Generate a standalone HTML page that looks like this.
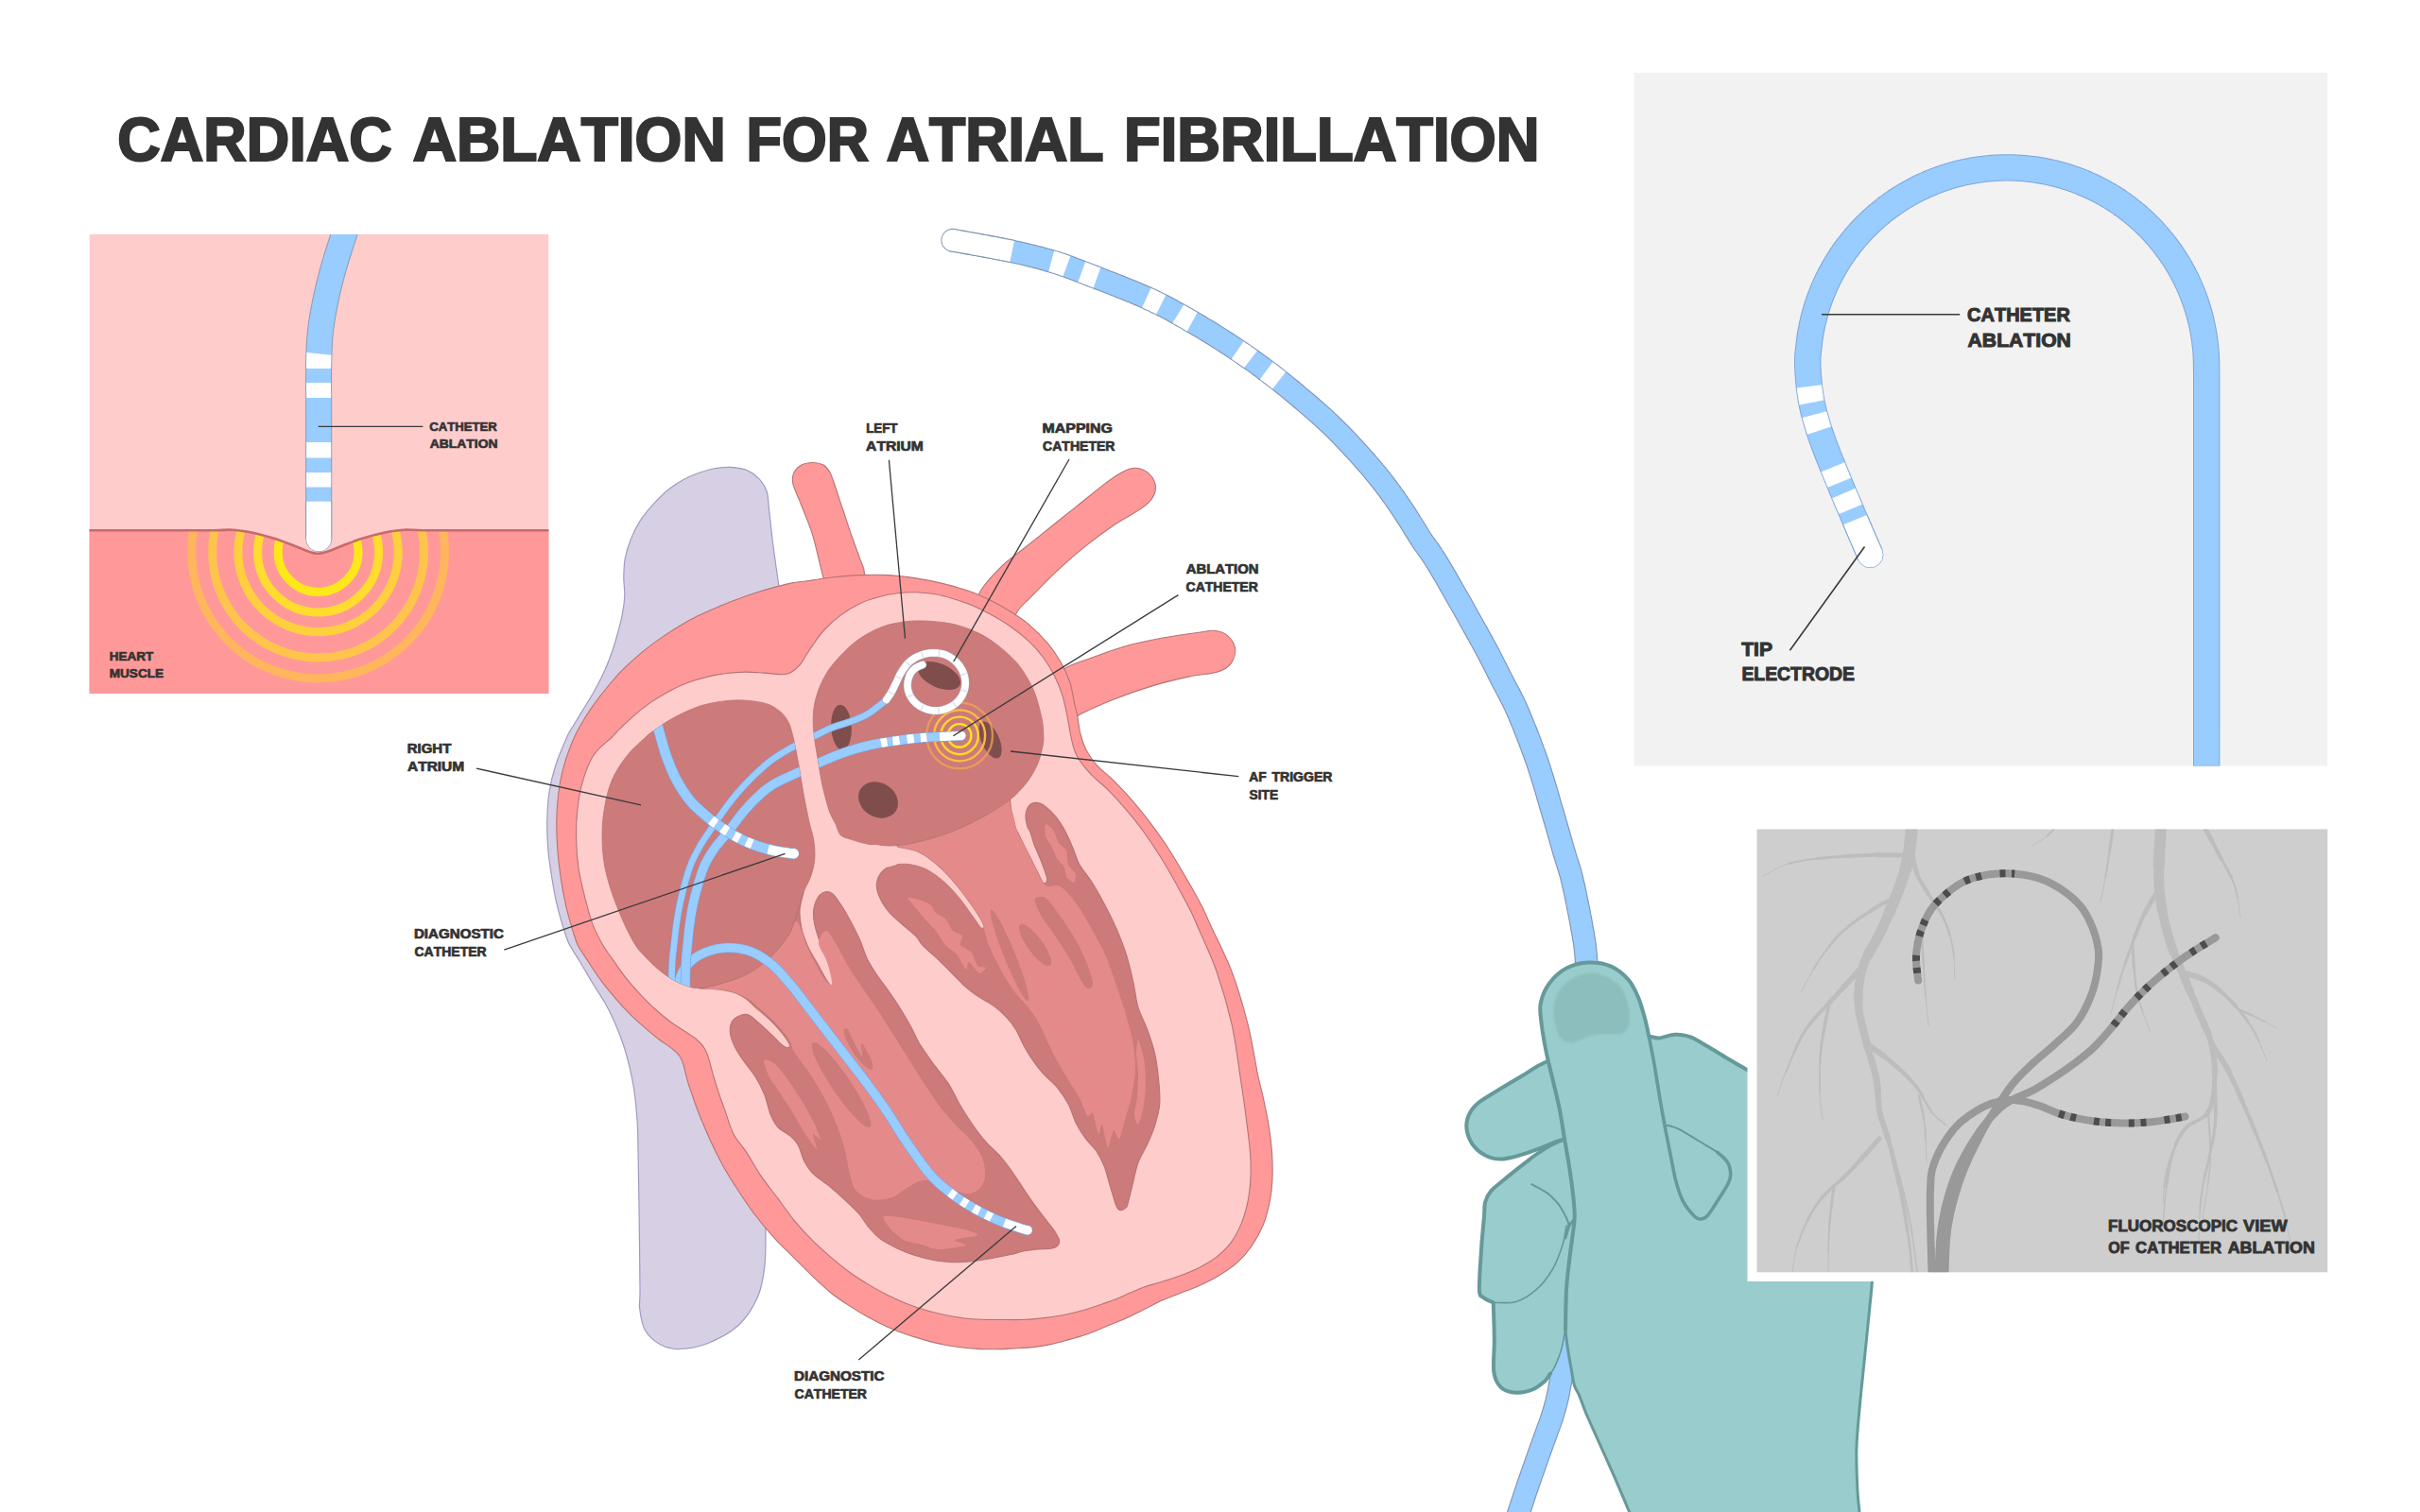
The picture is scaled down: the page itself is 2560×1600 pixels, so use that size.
<!DOCTYPE html>
<html lang="en"><head><meta charset="utf-8"><title>Cardiac ablation for atrial fibrillation</title>
<style>
html,body{margin:0;padding:0;background:#ffffff;}
body{width:2560px;height:1600px;overflow:hidden;}
svg{display:block;}
text{font-family:'Liberation Sans', Arial, sans-serif;font-weight:700;fill:#333333;font-kerning:none;}
</style></head><body>
<svg width="2560" height="1600" viewBox="0 0 2560 1600">
<rect width="2560" height="1600" fill="#ffffff"/>
<g id="title">
<text x="124.3" y="169.9" font-size="64" text-anchor="start" textLength="290.3" lengthAdjust="spacingAndGlyphs" stroke="#333333" stroke-width="2.2" stroke-linejoin="miter">CARDIAC</text>
<text x="436.7" y="169.9" font-size="64" text-anchor="start" textLength="331" lengthAdjust="spacingAndGlyphs" stroke="#333333" stroke-width="2.2" stroke-linejoin="miter">ABLATION</text>
<text x="789.6" y="169.9" font-size="64" text-anchor="start" textLength="129.4" lengthAdjust="spacingAndGlyphs" stroke="#333333" stroke-width="2.2" stroke-linejoin="miter">FOR</text>
<text x="937.8" y="169.9" font-size="64" text-anchor="start" textLength="229.8" lengthAdjust="spacingAndGlyphs" stroke="#333333" stroke-width="2.2" stroke-linejoin="miter">ATRIAL</text>
<text x="1189.1" y="169.9" font-size="64" text-anchor="start" textLength="439.4" lengthAdjust="spacingAndGlyphs" stroke="#333333" stroke-width="2.2" stroke-linejoin="miter">FIBRILLATION</text>
</g>
<g id="leftpanel">
<clipPath id="lpclip"><rect x="94.5" y="248" width="486" height="486"/></clipPath>
<g clip-path="url(#lpclip)">
<rect x="94.5" y="248" width="486" height="486" fill="#ffcccc"/>
<clipPath id="muscleclip"><path d="M90 561.2C100 561.2 131.7 561.2 150 561.2C168.3 561.2 187.2 561.2 200 561.2C212.8 561.2 219.5 561.3 226.6 561.2C233.7 561.1 238.4 560.6 242.6 560.6C246.8 560.6 247.5 560.8 251.6 561.3C255.7 561.8 261.1 562.3 267.3 563.7C273.6 565.1 281.8 567.2 289.1 569.5C296.4 571.8 305 575.2 311.1 577.5C317.2 579.8 321.4 581.9 325.6 583.3C329.9 584.7 332.9 585.8 336.6 585.8C340.3 585.8 343.4 584.7 347.6 583.3C351.9 581.9 356 579.8 362.1 577.5C368.2 575.2 376.8 571.8 384.1 569.5C391.4 567.2 399.7 565.1 405.9 563.7C412.2 562.3 417.5 561.8 421.6 561.3C425.7 560.8 426.4 560.6 430.6 560.6C434.8 560.6 438.4 561.1 446.6 561.2C454.8 561.3 466.1 561.2 480 561.2C493.9 561.2 512.5 561.2 530 561.2C547.5 561.2 575.8 561.2 585 561.2L585 740L90 740Z"/></clipPath>
<path d="M90 561.2C100 561.2 131.7 561.2 150 561.2C168.3 561.2 187.2 561.2 200 561.2C212.8 561.2 219.5 561.3 226.6 561.2C233.7 561.1 238.4 560.6 242.6 560.6C246.8 560.6 247.5 560.8 251.6 561.3C255.7 561.8 261.1 562.3 267.3 563.7C273.6 565.1 281.8 567.2 289.1 569.5C296.4 571.8 305 575.2 311.1 577.5C317.2 579.8 321.4 581.9 325.6 583.3C329.9 584.7 332.9 585.8 336.6 585.8C340.3 585.8 343.4 584.7 347.6 583.3C351.9 581.9 356 579.8 362.1 577.5C368.2 575.2 376.8 571.8 384.1 569.5C391.4 567.2 399.7 565.1 405.9 563.7C412.2 562.3 417.5 561.8 421.6 561.3C425.7 560.8 426.4 560.6 430.6 560.6C434.8 560.6 438.4 561.1 446.6 561.2C454.8 561.3 466.1 561.2 480 561.2C493.9 561.2 512.5 561.2 530 561.2C547.5 561.2 575.8 561.2 585 561.2L585 740L90 740Z" fill="#ff9999" stroke="none" stroke-width="1"/>
<g clip-path="url(#muscleclip)" fill="none" stroke-width="9">
<circle cx="336.6" cy="584" r="42.5" stroke="#ffe81a" opacity="1"/>
<circle cx="336.6" cy="584" r="64" stroke="#ffdc2e" opacity="1"/>
<circle cx="336.6" cy="584" r="84.7" stroke="#ffd03d" opacity="1"/>
<circle cx="336.6" cy="584" r="112" stroke="#ffc44c" opacity="1"/>
<circle cx="336.6" cy="584" r="133.9" stroke="#ffb65c" opacity="1"/>
</g>
<path d="M90 561.2C100 561.2 131.7 561.2 150 561.2C168.3 561.2 187.2 561.2 200 561.2C212.8 561.2 219.5 561.3 226.6 561.2C233.7 561.1 238.4 560.6 242.6 560.6C246.8 560.6 247.5 560.8 251.6 561.3C255.7 561.8 261.1 562.3 267.3 563.7C273.6 565.1 281.8 567.2 289.1 569.5C296.4 571.8 305 575.2 311.1 577.5C317.2 579.8 321.4 581.9 325.6 583.3C329.9 584.7 332.9 585.8 336.6 585.8C340.3 585.8 343.4 584.7 347.6 583.3C351.9 581.9 356 579.8 362.1 577.5C368.2 575.2 376.8 571.8 384.1 569.5C391.4 567.2 399.7 565.1 405.9 563.7C412.2 562.3 417.5 561.8 421.6 561.3C425.7 560.8 426.4 560.6 430.6 560.6C434.8 560.6 438.4 561.1 446.6 561.2C454.8 561.3 466.1 561.2 480 561.2C493.9 561.2 512.5 561.2 530 561.2C547.5 561.2 575.8 561.2 585 561.2" fill="none" stroke="#c96a6a" stroke-width="2.6"/>
<path d="M337.2 570.2L337.2 568.6L337.2 566.8L337.2 564.8L337.2 562.6L337.2 560.2L337.2 557.6L337.2 554.9L337.2 552L337.2 549L337.2 545.9L337.2 542.7L337.2 539.5L337.2 536.2L337.2 532.8L337.2 529.4L337.2 526L337.2 522.6L337.2 519.2L337.2 515.8L337.2 512.5L337.2 509.2L337.2 506.1L337.2 503L337.2 500L337.2 497.1L337.2 494.1L337.2 491.1L337.2 488L337.2 485L337.2 481.9L337.2 478.8L337.2 475.7L337.2 472.6L337.2 469.6L337.2 466.5L337.2 463.4L337.2 460.4L337.2 457.4L337.2 454.4L337.2 451.5L337.2 448.6L337.2 445.8L337.2 443L337.2 440.2L337.2 437.6L337.2 435L337.2 432.4L337.2 430L337.2 427.6L337.2 425.3L337.2 423.1L337.2 420.9L337.2 418.8L337.2 416.7L337.1 414.7L337.1 412.7L337.1 410.8L337.1 408.9L337.1 407L337.1 405.2L337.1 403.4L337.1 401.6L337.1 399.9L337.1 398.1L337.1 396.4L337.1 394.8L337.1 393.1L337.1 391.4L337.1 389.8L337.1 388.1L337.2 386.5L337.2 384.8L337.2 383.2L337.3 381.6L337.3 380L337.3 378.4L337.4 376.9L337.4 375.4L337.5 374L337.5 372.5L337.6 371.1L337.6 369.7L337.7 368.3L337.7 366.9L337.8 365.6L337.9 364.2L338 362.8L338 361.5L338.1 360.1L338.2 358.7L338.3 357.4L338.4 356L338.6 354.6L338.7 353.2L338.8 351.8L339 350.4L339.2 349L339.3 347.5L339.5 346.1L339.7 344.7L339.9 343.2L340.1 341.8L340.3 340.4L340.5 338.9L340.8 337.5L341 336.1L341.2 334.6L341.5 333.2L341.7 331.8L342 330.3L342.2 328.9L342.5 327.5L342.8 326L343.1 324.6L343.3 323.2L343.6 321.7L343.9 320.3L344.2 318.9L344.5 317.4L344.8 316L345.1 314.6L345.4 313.1L345.7 311.7L346 310.3L346.4 308.8L346.7 307.4L347 305.9L347.4 304.5L347.7 303.1L348.1 301.6L348.4 300.2L348.8 298.8L349.2 297.3L349.5 295.9L349.9 294.4L350.3 293L350.7 291.6L351 290.2L351.4 288.7L351.8 287.3L352.2 285.9L352.6 284.4L353 283L353.4 281.6L353.8 280.2L354.2 278.7L354.7 277.2L355.1 275.7L355.6 274.2L356 272.7L356.5 271.2L357 269.6L357.5 268.1L358 266.6L358.4 265L358.9 263.5L359.4 262L359.9 260.6L360.3 259.1L360.8 257.7L361.3 256.3L361.7 255L362.1 253.7L362.5 252.4L362.9 251.2L363.3 250L363.7 248.9L364 247.9L364.3 246.9L364.6 246L364.9 245L365.2 244.2L365.5 243.3L365.8 242.5L366 241.7L366.3 241L366.5 240.3L366.7 239.6L367 239L367.2 238.3L367.4 237.8L367.6 237.2L367.7 236.7L367.9 236.2L368.1 235.7L368.2 235.2L368.4 234.8L368.5 234.4L368.7 234L368.8 233.7L368.9 233.3L369 233" fill="none" stroke="#8a9bb5" stroke-width="28" stroke-linecap="butt" stroke-linejoin="round"/>
<path d="M337.2 570.2L337.2 568.6L337.2 566.8L337.2 564.8L337.2 562.6L337.2 560.2L337.2 557.6L337.2 554.9L337.2 552L337.2 549L337.2 545.9L337.2 542.7L337.2 539.5L337.2 536.2L337.2 532.8L337.2 529.4L337.2 526L337.2 522.6L337.2 519.2L337.2 515.8L337.2 512.5L337.2 509.2L337.2 506.1L337.2 503L337.2 500L337.2 497.1L337.2 494.1L337.2 491.1L337.2 488L337.2 485L337.2 481.9L337.2 478.8L337.2 475.7L337.2 472.6L337.2 469.6L337.2 466.5L337.2 463.4L337.2 460.4L337.2 457.4L337.2 454.4L337.2 451.5L337.2 448.6L337.2 445.8L337.2 443L337.2 440.2L337.2 437.6L337.2 435L337.2 432.4L337.2 430L337.2 427.6L337.2 425.3L337.2 423.1L337.2 420.9L337.2 418.8L337.2 416.7L337.1 414.7L337.1 412.7L337.1 410.8L337.1 408.9L337.1 407L337.1 405.2L337.1 403.4L337.1 401.6L337.1 399.9L337.1 398.1L337.1 396.4L337.1 394.8L337.1 393.1L337.1 391.4L337.1 389.8L337.1 388.1L337.2 386.5L337.2 384.8L337.2 383.2L337.3 381.6L337.3 380L337.3 378.4L337.4 376.9L337.4 375.4L337.5 374L337.5 372.5L337.6 371.1L337.6 369.7L337.7 368.3L337.7 366.9L337.8 365.6L337.9 364.2L338 362.8L338 361.5L338.1 360.1L338.2 358.7L338.3 357.4L338.4 356L338.6 354.6L338.7 353.2L338.8 351.8L339 350.4L339.2 349L339.3 347.5L339.5 346.1L339.7 344.7L339.9 343.2L340.1 341.8L340.3 340.4L340.5 338.9L340.8 337.5L341 336.1L341.2 334.6L341.5 333.2L341.7 331.8L342 330.3L342.2 328.9L342.5 327.5L342.8 326L343.1 324.6L343.3 323.2L343.6 321.7L343.9 320.3L344.2 318.9L344.5 317.4L344.8 316L345.1 314.6L345.4 313.1L345.7 311.7L346 310.3L346.4 308.8L346.7 307.4L347 305.9L347.4 304.5L347.7 303.1L348.1 301.6L348.4 300.2L348.8 298.8L349.2 297.3L349.5 295.9L349.9 294.4L350.3 293L350.7 291.6L351 290.2L351.4 288.7L351.8 287.3L352.2 285.9L352.6 284.4L353 283L353.4 281.6L353.8 280.2L354.2 278.7L354.7 277.2L355.1 275.7L355.6 274.2L356 272.7L356.5 271.2L357 269.6L357.5 268.1L358 266.6L358.4 265L358.9 263.5L359.4 262L359.9 260.6L360.3 259.1L360.8 257.7L361.3 256.3L361.7 255L362.1 253.7L362.5 252.4L362.9 251.2L363.3 250L363.7 248.9L364 247.9L364.3 246.9L364.6 246L364.9 245L365.2 244.2L365.5 243.3L365.8 242.5L366 241.7L366.3 241L366.5 240.3L366.7 239.6L367 239L367.2 238.3L367.4 237.8L367.6 237.2L367.7 236.7L367.9 236.2L368.1 235.7L368.2 235.2L368.4 234.8L368.5 234.4L368.7 234L368.8 233.7L368.9 233.3L369 233" fill="none" stroke="#99ccff" stroke-width="26" stroke-linecap="butt" stroke-linejoin="round"/>
<path d="M337.2 515.5L337.2 512.5L337.2 509.2L337.2 506.1L337.2 503L337.2 500" fill="none" stroke="#ffffff" stroke-width="26"/>
<path d="M337.2 484.5L337.2 481.9L337.2 478.8L337.2 475.7L337.2 472.6L337.2 469.6L337.2 468" fill="none" stroke="#ffffff" stroke-width="26"/>
<path d="M337.2 421L337.2 418.8L337.2 416.7L337.1 414.7L337.1 412.7L337.1 410.8L337.1 408.9L337.1 407L337.1 405" fill="none" stroke="#ffffff" stroke-width="26"/>
<path d="M337.1 390L337.1 388.1L337.2 386.5L337.2 384.8L337.2 383.2L337.3 381.6L337.3 380L337.3 378.4L337.4 376.9L337.4 375.4L337.5 374.4" fill="none" stroke="#ffffff" stroke-width="26"/>
<circle cx="337.2" cy="570.2" r="13.5" fill="#ffffff" stroke="#8a9bb5" stroke-width="1"/>
<path d="M337.2 570.2L337.2 568.6L337.2 566.8L337.2 564.8L337.2 562.6L337.2 560.2L337.2 557.6L337.2 554.9L337.2 552L337.2 549L337.2 545.9L337.2 542.7L337.2 539.5L337.2 536.2L337.2 532.8L337.2 530.5" fill="none" stroke="#8a9bb5" stroke-width="28"/>
<path d="M337.2 570.2L337.2 568.6L337.2 566.8L337.2 564.8L337.2 562.6L337.2 560.2L337.2 557.6L337.2 554.9L337.2 552L337.2 549L337.2 545.9L337.2 542.7L337.2 539.5L337.2 536.2L337.2 532.8L337.2 530.5" fill="none" stroke="#ffffff" stroke-width="26"/>
<circle cx="337.2" cy="570.2" r="13" fill="#ffffff"/>
</g>
</g>
<g id="rightpanel">
<rect x="1728.5" y="77" width="733.5" height="733.5" fill="#f2f2f2"/>
<clipPath id="rpclip"><rect x="1728.5" y="77" width="733.5" height="733.5"/></clipPath>
<g clip-path="url(#rpclip)">
<path d="M1978.3 587L1977.9 586.1L1977.5 585.1L1977 584L1976.4 582.7L1975.9 581.4L1975.2 580L1974.6 578.4L1973.9 576.8L1973.2 575.2L1972.4 573.4L1971.7 571.7L1970.9 569.8L1970.1 568L1969.2 566.1L1968.4 564.2L1967.6 562.3L1966.8 560.3L1965.9 558.4L1965.1 556.5L1964.3 554.6L1963.5 552.8L1962.7 550.9L1961.9 549.1L1961.2 547.4L1960.5 545.7L1959.7 544L1959 542.2L1958.3 540.5L1957.5 538.8L1956.8 537L1956 535.3L1955.3 533.5L1954.5 531.7L1953.8 530L1953 528.2L1952.3 526.4L1951.5 524.6L1950.8 522.9L1950 521.1L1949.3 519.3L1948.5 517.5L1947.8 515.7L1947.1 513.9L1946.3 512.1L1945.6 510.3L1944.9 508.6L1944.1 506.8L1943.4 505L1942.7 503.2L1941.9 501.4L1941.2 499.6L1940.5 497.8L1939.7 496L1939 494.2L1938.2 492.3L1937.5 490.5L1936.7 488.7L1936 486.8L1935.3 485L1934.5 483.2L1933.8 481.3L1933.1 479.5L1932.4 477.7L1931.7 475.9L1931 474.1L1930.3 472.3L1929.7 470.6L1929 468.8L1928.4 467.1L1927.8 465.4L1927.2 463.7L1926.6 462L1926 460.3L1925.5 458.7L1925 457.1L1924.4 455.5L1923.9 453.9L1923.4 452.3L1922.9 450.8L1922.5 449.2L1922 447.7L1921.5 446.1L1921.1 444.6L1920.7 443.1L1920.2 441.6L1919.8 440.1L1919.4 438.6L1919 437.1L1918.6 435.6L1918.3 434.1L1917.9 432.6L1917.6 431.1L1917.2 429.6L1916.9 428.1L1916.6 426.5L1916.3 425L1916 423.5L1915.7 421.9L1915.5 420.3L1915.2 418.7L1915 417.1L1914.7 415.5L1914.5 413.8L1914.3 412.2L1914.1 410.6L1913.9 408.9L1913.7 407.3L1913.6 405.7L1913.4 404.1L1913.3 402.5L1913.1 401L1913 399.4L1912.9 397.9L1912.8 396.4L1912.7 395L1912.6 393.6L1912.5 392.2L1912.4 390.8L1912.4 389.5L1912.3 388.3L1912.2 387.1L1912.2 385.9L1912.2 384.8L1912.2 383.8L1912.2 382.7L1912.2 381.8L1912.2 380.8L1912.2 379.9L1912.3 378.9L1912.3 378.1L1912.4 377.2L1912.4 376.3L1912.5 375.5L1912.5 374.7L1912.6 373.9L1912.7 373L1912.8 372.2L1912.9 371.4L1913 370.6L1913.1 369.7L1913.2 368.9L1913.3 368L1913.4 367.2L1913.5 366.3L1913.6 365.3L1913.7 364.4L1913.8 363.5L1913.9 362.6L1914 361.7L1914.1 360.8L1914.2 359.9L1914.4 359L1914.5 358L1914.6 357.1L1914.8 356.2L1914.9 355.3L1915 354.4L1915.2 353.5L1915.3 352.6L1915.5 351.7L1915.7 350.8L1915.8 349.9L1916 349L1916.2 348.1L1916.4 347.2L1916.5 346.3L1916.7 345.4L1916.9 344.5L1917.1 343.6L1917.3 342.7L1917.5 341.8L1917.7 340.9L1917.9 340L1918.1 339.1L1918.3 338.2L1918.6 337.3L1918.8 336.4L1919 335.5L1919.3 334.6L1919.5 333.7L1919.7 332.8L1920 331.9L1920.2 331.1L1920.5 330.2L1920.7 329.3L1921 328.4L1921.2 327.5L1921.5 326.6L1921.8 325.8L1922.1 324.9L1922.3 324L1922.6 323.1L1922.9 322.3L1923.2 321.4L1923.5 320.5L1923.8 319.6L1924.1 318.8L1924.4 317.9L1924.7 317L1925 316.2L1925.3 315.3L1925.7 314.4L1926 313.6L1926.3 312.7L1926.6 311.9L1927 311L1927.3 310.1L1927.7 309.3L1928 308.4L1928.4 307.6L1928.7 306.7L1929.1 305.9L1929.4 305L1929.8 304.2L1930.2 303.4L1930.5 302.5L1930.9 301.7L1931.3 300.8L1931.7 300L1932.1 299.2L1932.4 298.3L1932.8 297.5L1933.2 296.7L1933.6 295.9L1934 295L1934.5 294.2L1934.9 293.4L1935.3 292.6L1935.7 291.7L1936.1 290.9L1936.6 290.1L1937 289.3L1937.4 288.5L1937.9 287.7L1938.3 286.9L1938.7 286.1L1939.2 285.2L1939.6 284.4L1940.1 283.6L1940.6 282.8L1941 282.1L1941.5 281.3L1941.9 280.5L1942.4 279.7L1942.9 278.9L1943.4 278.1L1943.9 277.3L1944.3 276.5L1944.8 275.8L1945.3 275L1945.8 274.2L1946.3 273.4L1946.8 272.7L1947.3 271.9L1947.8 271.1L1948.4 270.4L1948.9 269.6L1949.4 268.8L1949.9 268.1L1950.4 267.3L1951 266.6L1951.5 265.8L1952 265.1L1952.6 264.3L1953.1 263.6L1953.7 262.9L1954.2 262.1L1954.8 261.4L1955.3 260.6L1955.9 259.9L1956.4 259.2L1957 258.5L1957.6 257.7L1958.1 257L1958.7 256.3L1959.3 255.6L1959.9 254.9L1960.5 254.2L1961.1 253.4L1961.6 252.7L1962.2 252L1962.8 251.3L1963.4 250.6L1964 249.9L1964.6 249.2L1965.2 248.6L1965.9 247.9L1966.5 247.2L1967.1 246.5L1967.7 245.8L1968.3 245.1L1969 244.5L1969.6 243.8L1970.2 243.1L1970.9 242.5L1971.5 241.8L1972.1 241.1L1972.8 240.5L1973.4 239.8L1974.1 239.2L1974.7 238.5L1975.4 237.9L1976 237.2L1976.7 236.6L1977.4 236L1978 235.3L1978.7 234.7L1979.4 234.1L1980 233.4L1980.7 232.8L1981.4 232.2L1982.1 231.6L1982.8 231L1983.5 230.3L1984.1 229.7L1984.8 229.1L1985.5 228.5L1986.2 227.9L1986.9 227.3L1987.6 226.7L1988.3 226.2L1989.1 225.6L1989.8 225L1990.5 224.4L1991.2 223.8L1991.9 223.2L1992.6 222.7L1993.4 222.1L1994.1 221.5L1994.8 221L1995.5 220.4L1996.3 219.9L1997 219.3L1997.8 218.8L1998.5 218.2L1999.2 217.7L2000 217.1L2000.7 216.6L2001.5 216.1L2002.2 215.5L2003 215L2003.7 214.5L2004.5 214L2005.3 213.5L2006 212.9L2006.8 212.4L2007.6 211.9L2008.3 211.4L2009.1 210.9L2009.9 210.4L2010.7 209.9L2011.4 209.4L2012.2 209L2013 208.5L2013.8 208L2014.6 207.5L2015.4 207L2016.2 206.6L2017 206.1L2017.7 205.7L2018.5 205.2L2019.3 204.7L2020.1 204.3L2021 203.8L2021.8 203.4L2022.6 203L2023.4 202.5L2024.2 202.1L2025 201.7L2025.8 201.2L2026.6 200.8L2027.5 200.4L2028.3 200L2029.1 199.6L2029.9 199.1L2030.8 198.7L2031.6 198.3L2032.4 197.9L2033.2 197.5L2034.1 197.2L2034.9 196.8L2035.7 196.4L2036.6 196L2037.4 195.6L2038.3 195.3L2039.1 194.9L2039.9 194.5L2040.8 194.2L2041.6 193.8L2042.5 193.5L2043.3 193.1L2044.2 192.8L2045 192.4L2045.9 192.1L2046.8 191.7L2047.6 191.4L2048.5 191.1L2049.3 190.8L2050.2 190.4L2051.1 190.1L2051.9 189.8L2052.8 189.5L2053.7 189.2L2054.5 188.9L2055.4 188.6L2056.3 188.3L2057.2 188L2058 187.7L2058.9 187.4L2059.8 187.2L2060.7 186.9L2061.5 186.6L2062.4 186.3L2063.3 186.1L2064.2 185.8L2065.1 185.6L2066 185.3L2066.8 185.1L2067.7 184.8L2068.6 184.6L2069.5 184.4L2070.4 184.1L2071.3 183.9L2072.2 183.7L2073.1 183.4L2074 183.2L2074.9 183L2075.8 182.8L2076.7 182.6L2077.6 182.4L2078.5 182.2L2079.4 182L2080.3 181.8L2081.2 181.6L2082.1 181.5L2083 181.3L2083.9 181.1L2084.8 180.9L2085.7 180.8L2086.6 180.6L2087.5 180.4L2088.4 180.3L2089.3 180.1L2090.2 180L2091.1 179.9L2092 179.7L2092.9 179.6L2093.9 179.5L2094.8 179.3L2095.7 179.2L2096.6 179.1L2097.5 179L2098.4 178.9L2099.3 178.8L2100.2 178.7L2101.2 178.6L2102.1 178.5L2103 178.4L2103.9 178.3L2104.8 178.2L2105.7 178.1L2106.6 178.1L2107.6 178L2108.5 177.9L2109.4 177.9L2110.3 177.8L2111.2 177.7L2112.2 177.7L2113.1 177.6L2114 177.6L2114.9 177.6L2115.8 177.5L2116.8 177.5L2117.7 177.5L2118.6 177.5L2119.5 177.4L2120.4 177.4L2121.4 177.4L2122.3 177.4L2123.2 177.4L2124.1 177.4L2125 177.4L2126 177.4L2126.9 177.4L2127.8 177.5L2128.7 177.5L2129.6 177.5L2130.6 177.5L2131.5 177.6L2132.4 177.6L2133.3 177.6L2134.2 177.7L2135.2 177.7L2136.1 177.8L2137 177.9L2137.9 177.9L2138.8 178L2139.8 178.1L2140.7 178.1L2141.6 178.2L2142.5 178.3L2143.4 178.4L2144.3 178.5L2145.2 178.6L2146.2 178.7L2147.1 178.8L2148 178.9L2148.9 179L2149.8 179.1L2150.7 179.2L2151.6 179.3L2152.5 179.5L2153.5 179.6L2154.4 179.7L2155.3 179.9L2156.2 180L2157.1 180.1L2158 180.3L2158.9 180.4L2159.8 180.6L2160.7 180.8L2161.6 180.9L2162.5 181.1L2163.4 181.3L2164.3 181.5L2165.2 181.6L2166.1 181.8L2167 182L2167.9 182.2L2168.8 182.4L2169.7 182.6L2170.6 182.8L2171.5 183L2172.4 183.2L2173.3 183.4L2174.2 183.7L2175.1 183.9L2176 184.1L2176.9 184.4L2177.8 184.6L2178.7 184.8L2179.6 185.1L2180.4 185.3L2181.3 185.6L2182.2 185.8L2183.1 186.1L2184 186.3L2184.9 186.6L2185.7 186.9L2186.6 187.2L2187.5 187.4L2188.4 187.7L2189.2 188L2190.1 188.3L2191 188.6L2191.9 188.9L2192.7 189.2L2193.6 189.5L2194.5 189.8L2195.3 190.1L2196.2 190.4L2197.1 190.8L2197.9 191.1L2198.8 191.4L2199.6 191.7L2200.5 192.1L2201.4 192.4L2202.2 192.8L2203.1 193.1L2203.9 193.5L2204.8 193.8L2205.6 194.2L2206.5 194.5L2207.3 194.9L2208.1 195.3L2209 195.6L2209.8 196L2210.7 196.4L2211.5 196.8L2212.3 197.2L2213.2 197.5L2214 197.9L2214.8 198.3L2215.6 198.7L2216.5 199.1L2217.3 199.6L2218.1 200L2218.9 200.4L2219.8 200.8L2220.6 201.2L2221.4 201.7L2222.2 202.1L2223 202.5L2223.8 203L2224.6 203.4L2225.4 203.8L2226.3 204.3L2227.1 204.7L2227.9 205.2L2228.6 205.7L2229.4 206.1L2230.2 206.6L2231 207L2231.8 207.5L2232.6 208L2233.4 208.5L2234.2 209L2235 209.4L2235.7 209.9L2236.5 210.4L2237.3 210.9L2238.1 211.4L2238.8 211.9L2239.6 212.4L2240.4 212.9L2241.1 213.5L2241.9 214L2242.7 214.5L2243.4 215L2244.2 215.5L2244.9 216.1L2245.7 216.6L2246.4 217.1L2247.2 217.7L2247.9 218.2L2248.6 218.8L2249.4 219.3L2250.1 219.9L2250.9 220.4L2251.6 221L2252.3 221.5L2253 222.1L2253.8 222.7L2254.5 223.2L2255.2 223.8L2255.9 224.4L2256.6 225L2257.3 225.6L2258.1 226.2L2258.8 226.7L2259.5 227.3L2260.2 227.9L2260.9 228.5L2261.6 229.1L2262.3 229.7L2262.9 230.3L2263.6 231L2264.3 231.6L2265 232.2L2265.7 232.8L2266.4 233.4L2267 234.1L2267.7 234.7L2268.4 235.3L2269 236L2269.7 236.6L2270.4 237.2L2271 237.9L2271.7 238.5L2272.3 239.2L2273 239.8L2273.6 240.5L2274.3 241.1L2274.9 241.8L2275.5 242.5L2276.2 243.1L2276.8 243.8L2277.4 244.5L2278.1 245.1L2278.7 245.8L2279.3 246.5L2279.9 247.2L2280.5 247.9L2281.2 248.6L2281.8 249.2L2282.4 249.9L2283 250.6L2283.6 251.3L2284.2 252L2284.8 252.7L2285.3 253.4L2285.9 254.2L2286.5 254.9L2287.1 255.6L2287.7 256.3L2288.3 257L2288.8 257.7L2289.4 258.5L2290 259.2L2290.5 259.9L2291.1 260.6L2291.6 261.4L2292.2 262.1L2292.7 262.9L2293.3 263.6L2293.8 264.3L2294.4 265.1L2294.9 265.8L2295.4 266.6L2296 267.3L2296.5 268.1L2297 268.8L2297.5 269.6L2298 270.4L2298.6 271.1L2299.1 271.9L2299.6 272.7L2300.1 273.4L2300.6 274.2L2301.1 275L2301.6 275.8L2302.1 276.5L2302.5 277.3L2303 278.1L2303.5 278.9L2304 279.7L2304.5 280.5L2304.9 281.3L2305.4 282.1L2305.8 282.8L2306.3 283.6L2306.8 284.4L2307.2 285.2L2307.7 286.1L2308.1 286.9L2308.5 287.7L2309 288.5L2309.4 289.3L2309.8 290.1L2310.3 290.9L2310.7 291.7L2311.1 292.6L2311.5 293.4L2311.9 294.2L2312.4 295L2312.8 295.9L2313.2 296.7L2313.6 297.5L2314 298.3L2314.3 299.2L2314.7 300L2315.1 300.8L2315.5 301.7L2315.9 302.5L2316.2 303.4L2316.6 304.2L2317 305L2317.3 305.9L2317.7 306.7L2318 307.6L2318.4 308.4L2318.7 309.3L2319.1 310.1L2319.4 311L2319.8 311.9L2320.1 312.7L2320.4 313.6L2320.7 314.4L2321.1 315.3L2321.4 316.2L2321.7 317L2322 317.9L2322.3 318.8L2322.6 319.6L2322.9 320.5L2323.2 321.4L2323.5 322.3L2323.8 323.1L2324.1 324L2324.3 324.9L2324.6 325.8L2324.9 326.6L2325.2 327.5L2325.4 328.4L2325.7 329.3L2325.9 330.2L2326.2 331.1L2326.4 331.9L2326.7 332.8L2326.9 333.7L2327.1 334.6L2327.4 335.5L2327.6 336.4L2327.8 337.3L2328.1 338.2L2328.3 339.1L2328.5 340L2328.7 340.9L2328.9 341.8L2329.1 342.7L2329.3 343.6L2329.5 344.5L2329.7 345.4L2329.9 346.3L2330 347.2L2330.2 348.1L2330.4 349L2330.6 349.9L2330.7 350.8L2330.9 351.7L2331.1 352.6L2331.2 353.5L2331.4 354.4L2331.5 355.3L2331.6 356.2L2331.8 357.1L2331.9 358L2332 359L2332.2 359.9L2332.3 360.8L2332.4 361.7L2332.5 362.6L2332.6 363.5L2332.7 364.4L2332.8 365.3L2332.9 366.3L2333 367.1L2333.1 368L2333.2 368.7L2333.3 369.5L2333.4 370.2L2333.4 370.8L2333.5 371.5L2333.5 372.1L2333.6 372.8L2333.6 373.4L2333.7 374.1L2333.7 374.8L2333.8 375.5L2333.8 376.3L2333.8 377.1L2333.9 378L2333.9 379L2333.9 380L2334 381.1L2334 382.3L2334 383.6L2334 385.1L2334.1 386.6L2334.1 388.3L2334.1 390L2334.1 391.8L2334.2 393.5L2334.2 395.3L2334.2 397L2334.2 398.9L2334.2 400.7L2334.2 402.7L2334.2 404.7L2334.2 406.7L2334.2 408.9L2334.2 411.2L2334.2 413.5L2334.2 416L2334.2 418.7L2334.2 421.4L2334.2 424.3L2334.2 427.4L2334.2 430.7L2334.2 434.1L2334.2 437.8L2334.2 441.6L2334.2 445.7L2334.2 450L2334.2 454.5L2334.2 459.2L2334.2 464L2334.2 469.1L2334.2 474.3L2334.2 479.7L2334.2 485.2L2334.2 490.9L2334.2 496.7L2334.2 502.7L2334.2 508.8L2334.2 515.1L2334.2 521.5L2334.2 528.1L2334.2 534.7L2334.2 541.5L2334.2 548.5L2334.2 555.5L2334.2 562.7L2334.2 569.9L2334.2 577.3L2334.2 584.8L2334.2 592.3L2334.2 600L2334.2 608L2334.2 616.6L2334.2 625.7L2334.2 635.2L2334.2 645L2334.2 655.2L2334.2 665.7L2334.2 676.3L2334.2 687L2334.2 697.8L2334.2 708.6L2334.2 719.4L2334.2 730L2334.2 740.4L2334.2 750.5L2334.2 760.4L2334.2 769.8L2334.2 778.8L2334.2 787.3L2334.2 795.3L2334.2 802.5L2334.2 809.1L2334.2 815L2334.2 820" fill="none" stroke="#7da6d8" stroke-width="28.4" stroke-linecap="butt" stroke-linejoin="round"/>
<path d="M1978.3 587L1977.9 586.1L1977.5 585.1L1977 584L1976.4 582.7L1975.9 581.4L1975.2 580L1974.6 578.4L1973.9 576.8L1973.2 575.2L1972.4 573.4L1971.7 571.7L1970.9 569.8L1970.1 568L1969.2 566.1L1968.4 564.2L1967.6 562.3L1966.8 560.3L1965.9 558.4L1965.1 556.5L1964.3 554.6L1963.5 552.8L1962.7 550.9L1961.9 549.1L1961.2 547.4L1960.5 545.7L1959.7 544L1959 542.2L1958.3 540.5L1957.5 538.8L1956.8 537L1956 535.3L1955.3 533.5L1954.5 531.7L1953.8 530L1953 528.2L1952.3 526.4L1951.5 524.6L1950.8 522.9L1950 521.1L1949.3 519.3L1948.5 517.5L1947.8 515.7L1947.1 513.9L1946.3 512.1L1945.6 510.3L1944.9 508.6L1944.1 506.8L1943.4 505L1942.7 503.2L1941.9 501.4L1941.2 499.6L1940.5 497.8L1939.7 496L1939 494.2L1938.2 492.3L1937.5 490.5L1936.7 488.7L1936 486.8L1935.3 485L1934.5 483.2L1933.8 481.3L1933.1 479.5L1932.4 477.7L1931.7 475.9L1931 474.1L1930.3 472.3L1929.7 470.6L1929 468.8L1928.4 467.1L1927.8 465.4L1927.2 463.7L1926.6 462L1926 460.3L1925.5 458.7L1925 457.1L1924.4 455.5L1923.9 453.9L1923.4 452.3L1922.9 450.8L1922.5 449.2L1922 447.7L1921.5 446.1L1921.1 444.6L1920.7 443.1L1920.2 441.6L1919.8 440.1L1919.4 438.6L1919 437.1L1918.6 435.6L1918.3 434.1L1917.9 432.6L1917.6 431.1L1917.2 429.6L1916.9 428.1L1916.6 426.5L1916.3 425L1916 423.5L1915.7 421.9L1915.5 420.3L1915.2 418.7L1915 417.1L1914.7 415.5L1914.5 413.8L1914.3 412.2L1914.1 410.6L1913.9 408.9L1913.7 407.3L1913.6 405.7L1913.4 404.1L1913.3 402.5L1913.1 401L1913 399.4L1912.9 397.9L1912.8 396.4L1912.7 395L1912.6 393.6L1912.5 392.2L1912.4 390.8L1912.4 389.5L1912.3 388.3L1912.2 387.1L1912.2 385.9L1912.2 384.8L1912.2 383.8L1912.2 382.7L1912.2 381.8L1912.2 380.8L1912.2 379.9L1912.3 378.9L1912.3 378.1L1912.4 377.2L1912.4 376.3L1912.5 375.5L1912.5 374.7L1912.6 373.9L1912.7 373L1912.8 372.2L1912.9 371.4L1913 370.6L1913.1 369.7L1913.2 368.9L1913.3 368L1913.4 367.2L1913.5 366.3L1913.6 365.3L1913.7 364.4L1913.8 363.5L1913.9 362.6L1914 361.7L1914.1 360.8L1914.2 359.9L1914.4 359L1914.5 358L1914.6 357.1L1914.8 356.2L1914.9 355.3L1915 354.4L1915.2 353.5L1915.3 352.6L1915.5 351.7L1915.7 350.8L1915.8 349.9L1916 349L1916.2 348.1L1916.4 347.2L1916.5 346.3L1916.7 345.4L1916.9 344.5L1917.1 343.6L1917.3 342.7L1917.5 341.8L1917.7 340.9L1917.9 340L1918.1 339.1L1918.3 338.2L1918.6 337.3L1918.8 336.4L1919 335.5L1919.3 334.6L1919.5 333.7L1919.7 332.8L1920 331.9L1920.2 331.1L1920.5 330.2L1920.7 329.3L1921 328.4L1921.2 327.5L1921.5 326.6L1921.8 325.8L1922.1 324.9L1922.3 324L1922.6 323.1L1922.9 322.3L1923.2 321.4L1923.5 320.5L1923.8 319.6L1924.1 318.8L1924.4 317.9L1924.7 317L1925 316.2L1925.3 315.3L1925.7 314.4L1926 313.6L1926.3 312.7L1926.6 311.9L1927 311L1927.3 310.1L1927.7 309.3L1928 308.4L1928.4 307.6L1928.7 306.7L1929.1 305.9L1929.4 305L1929.8 304.2L1930.2 303.4L1930.5 302.5L1930.9 301.7L1931.3 300.8L1931.7 300L1932.1 299.2L1932.4 298.3L1932.8 297.5L1933.2 296.7L1933.6 295.9L1934 295L1934.5 294.2L1934.9 293.4L1935.3 292.6L1935.7 291.7L1936.1 290.9L1936.6 290.1L1937 289.3L1937.4 288.5L1937.9 287.7L1938.3 286.9L1938.7 286.1L1939.2 285.2L1939.6 284.4L1940.1 283.6L1940.6 282.8L1941 282.1L1941.5 281.3L1941.9 280.5L1942.4 279.7L1942.9 278.9L1943.4 278.1L1943.9 277.3L1944.3 276.5L1944.8 275.8L1945.3 275L1945.8 274.2L1946.3 273.4L1946.8 272.7L1947.3 271.9L1947.8 271.1L1948.4 270.4L1948.9 269.6L1949.4 268.8L1949.9 268.1L1950.4 267.3L1951 266.6L1951.5 265.8L1952 265.1L1952.6 264.3L1953.1 263.6L1953.7 262.9L1954.2 262.1L1954.8 261.4L1955.3 260.6L1955.9 259.9L1956.4 259.2L1957 258.5L1957.6 257.7L1958.1 257L1958.7 256.3L1959.3 255.6L1959.9 254.9L1960.5 254.2L1961.1 253.4L1961.6 252.7L1962.2 252L1962.8 251.3L1963.4 250.6L1964 249.9L1964.6 249.2L1965.2 248.6L1965.9 247.9L1966.5 247.2L1967.1 246.5L1967.7 245.8L1968.3 245.1L1969 244.5L1969.6 243.8L1970.2 243.1L1970.9 242.5L1971.5 241.8L1972.1 241.1L1972.8 240.5L1973.4 239.8L1974.1 239.2L1974.7 238.5L1975.4 237.9L1976 237.2L1976.7 236.6L1977.4 236L1978 235.3L1978.7 234.7L1979.4 234.1L1980 233.4L1980.7 232.8L1981.4 232.2L1982.1 231.6L1982.8 231L1983.5 230.3L1984.1 229.7L1984.8 229.1L1985.5 228.5L1986.2 227.9L1986.9 227.3L1987.6 226.7L1988.3 226.2L1989.1 225.6L1989.8 225L1990.5 224.4L1991.2 223.8L1991.9 223.2L1992.6 222.7L1993.4 222.1L1994.1 221.5L1994.8 221L1995.5 220.4L1996.3 219.9L1997 219.3L1997.8 218.8L1998.5 218.2L1999.2 217.7L2000 217.1L2000.7 216.6L2001.5 216.1L2002.2 215.5L2003 215L2003.7 214.5L2004.5 214L2005.3 213.5L2006 212.9L2006.8 212.4L2007.6 211.9L2008.3 211.4L2009.1 210.9L2009.9 210.4L2010.7 209.9L2011.4 209.4L2012.2 209L2013 208.5L2013.8 208L2014.6 207.5L2015.4 207L2016.2 206.6L2017 206.1L2017.7 205.7L2018.5 205.2L2019.3 204.7L2020.1 204.3L2021 203.8L2021.8 203.4L2022.6 203L2023.4 202.5L2024.2 202.1L2025 201.7L2025.8 201.2L2026.6 200.8L2027.5 200.4L2028.3 200L2029.1 199.6L2029.9 199.1L2030.8 198.7L2031.6 198.3L2032.4 197.9L2033.2 197.5L2034.1 197.2L2034.9 196.8L2035.7 196.4L2036.6 196L2037.4 195.6L2038.3 195.3L2039.1 194.9L2039.9 194.5L2040.8 194.2L2041.6 193.8L2042.5 193.5L2043.3 193.1L2044.2 192.8L2045 192.4L2045.9 192.1L2046.8 191.7L2047.6 191.4L2048.5 191.1L2049.3 190.8L2050.2 190.4L2051.1 190.1L2051.9 189.8L2052.8 189.5L2053.7 189.2L2054.5 188.9L2055.4 188.6L2056.3 188.3L2057.2 188L2058 187.7L2058.9 187.4L2059.8 187.2L2060.7 186.9L2061.5 186.6L2062.4 186.3L2063.3 186.1L2064.2 185.8L2065.1 185.6L2066 185.3L2066.8 185.1L2067.7 184.8L2068.6 184.6L2069.5 184.4L2070.4 184.1L2071.3 183.9L2072.2 183.7L2073.1 183.4L2074 183.2L2074.9 183L2075.8 182.8L2076.7 182.6L2077.6 182.4L2078.5 182.2L2079.4 182L2080.3 181.8L2081.2 181.6L2082.1 181.5L2083 181.3L2083.9 181.1L2084.8 180.9L2085.7 180.8L2086.6 180.6L2087.5 180.4L2088.4 180.3L2089.3 180.1L2090.2 180L2091.1 179.9L2092 179.7L2092.9 179.6L2093.9 179.5L2094.8 179.3L2095.7 179.2L2096.6 179.1L2097.5 179L2098.4 178.9L2099.3 178.8L2100.2 178.7L2101.2 178.6L2102.1 178.5L2103 178.4L2103.9 178.3L2104.8 178.2L2105.7 178.1L2106.6 178.1L2107.6 178L2108.5 177.9L2109.4 177.9L2110.3 177.8L2111.2 177.7L2112.2 177.7L2113.1 177.6L2114 177.6L2114.9 177.6L2115.8 177.5L2116.8 177.5L2117.7 177.5L2118.6 177.5L2119.5 177.4L2120.4 177.4L2121.4 177.4L2122.3 177.4L2123.2 177.4L2124.1 177.4L2125 177.4L2126 177.4L2126.9 177.4L2127.8 177.5L2128.7 177.5L2129.6 177.5L2130.6 177.5L2131.5 177.6L2132.4 177.6L2133.3 177.6L2134.2 177.7L2135.2 177.7L2136.1 177.8L2137 177.9L2137.9 177.9L2138.8 178L2139.8 178.1L2140.7 178.1L2141.6 178.2L2142.5 178.3L2143.4 178.4L2144.3 178.5L2145.2 178.6L2146.2 178.7L2147.1 178.8L2148 178.9L2148.9 179L2149.8 179.1L2150.7 179.2L2151.6 179.3L2152.5 179.5L2153.5 179.6L2154.4 179.7L2155.3 179.9L2156.2 180L2157.1 180.1L2158 180.3L2158.9 180.4L2159.8 180.6L2160.7 180.8L2161.6 180.9L2162.5 181.1L2163.4 181.3L2164.3 181.5L2165.2 181.6L2166.1 181.8L2167 182L2167.9 182.2L2168.8 182.4L2169.7 182.6L2170.6 182.8L2171.5 183L2172.4 183.2L2173.3 183.4L2174.2 183.7L2175.1 183.9L2176 184.1L2176.9 184.4L2177.8 184.6L2178.7 184.8L2179.6 185.1L2180.4 185.3L2181.3 185.6L2182.2 185.8L2183.1 186.1L2184 186.3L2184.9 186.6L2185.7 186.9L2186.6 187.2L2187.5 187.4L2188.4 187.7L2189.2 188L2190.1 188.3L2191 188.6L2191.9 188.9L2192.7 189.2L2193.6 189.5L2194.5 189.8L2195.3 190.1L2196.2 190.4L2197.1 190.8L2197.9 191.1L2198.8 191.4L2199.6 191.7L2200.5 192.1L2201.4 192.4L2202.2 192.8L2203.1 193.1L2203.9 193.5L2204.8 193.8L2205.6 194.2L2206.5 194.5L2207.3 194.9L2208.1 195.3L2209 195.6L2209.8 196L2210.7 196.4L2211.5 196.8L2212.3 197.2L2213.2 197.5L2214 197.9L2214.8 198.3L2215.6 198.7L2216.5 199.1L2217.3 199.6L2218.1 200L2218.9 200.4L2219.8 200.8L2220.6 201.2L2221.4 201.7L2222.2 202.1L2223 202.5L2223.8 203L2224.6 203.4L2225.4 203.8L2226.3 204.3L2227.1 204.7L2227.9 205.2L2228.6 205.7L2229.4 206.1L2230.2 206.6L2231 207L2231.8 207.5L2232.6 208L2233.4 208.5L2234.2 209L2235 209.4L2235.7 209.9L2236.5 210.4L2237.3 210.9L2238.1 211.4L2238.8 211.9L2239.6 212.4L2240.4 212.9L2241.1 213.5L2241.9 214L2242.7 214.5L2243.4 215L2244.2 215.5L2244.9 216.1L2245.7 216.6L2246.4 217.1L2247.2 217.7L2247.9 218.2L2248.6 218.8L2249.4 219.3L2250.1 219.9L2250.9 220.4L2251.6 221L2252.3 221.5L2253 222.1L2253.8 222.7L2254.5 223.2L2255.2 223.8L2255.9 224.4L2256.6 225L2257.3 225.6L2258.1 226.2L2258.8 226.7L2259.5 227.3L2260.2 227.9L2260.9 228.5L2261.6 229.1L2262.3 229.7L2262.9 230.3L2263.6 231L2264.3 231.6L2265 232.2L2265.7 232.8L2266.4 233.4L2267 234.1L2267.7 234.7L2268.4 235.3L2269 236L2269.7 236.6L2270.4 237.2L2271 237.9L2271.7 238.5L2272.3 239.2L2273 239.8L2273.6 240.5L2274.3 241.1L2274.9 241.8L2275.5 242.5L2276.2 243.1L2276.8 243.8L2277.4 244.5L2278.1 245.1L2278.7 245.8L2279.3 246.5L2279.9 247.2L2280.5 247.9L2281.2 248.6L2281.8 249.2L2282.4 249.9L2283 250.6L2283.6 251.3L2284.2 252L2284.8 252.7L2285.3 253.4L2285.9 254.2L2286.5 254.9L2287.1 255.6L2287.7 256.3L2288.3 257L2288.8 257.7L2289.4 258.5L2290 259.2L2290.5 259.9L2291.1 260.6L2291.6 261.4L2292.2 262.1L2292.7 262.9L2293.3 263.6L2293.8 264.3L2294.4 265.1L2294.9 265.8L2295.4 266.6L2296 267.3L2296.5 268.1L2297 268.8L2297.5 269.6L2298 270.4L2298.6 271.1L2299.1 271.9L2299.6 272.7L2300.1 273.4L2300.6 274.2L2301.1 275L2301.6 275.8L2302.1 276.5L2302.5 277.3L2303 278.1L2303.5 278.9L2304 279.7L2304.5 280.5L2304.9 281.3L2305.4 282.1L2305.8 282.8L2306.3 283.6L2306.8 284.4L2307.2 285.2L2307.7 286.1L2308.1 286.9L2308.5 287.7L2309 288.5L2309.4 289.3L2309.8 290.1L2310.3 290.9L2310.7 291.7L2311.1 292.6L2311.5 293.4L2311.9 294.2L2312.4 295L2312.8 295.9L2313.2 296.7L2313.6 297.5L2314 298.3L2314.3 299.2L2314.7 300L2315.1 300.8L2315.5 301.7L2315.9 302.5L2316.2 303.4L2316.6 304.2L2317 305L2317.3 305.9L2317.7 306.7L2318 307.6L2318.4 308.4L2318.7 309.3L2319.1 310.1L2319.4 311L2319.8 311.9L2320.1 312.7L2320.4 313.6L2320.7 314.4L2321.1 315.3L2321.4 316.2L2321.7 317L2322 317.9L2322.3 318.8L2322.6 319.6L2322.9 320.5L2323.2 321.4L2323.5 322.3L2323.8 323.1L2324.1 324L2324.3 324.9L2324.6 325.8L2324.9 326.6L2325.2 327.5L2325.4 328.4L2325.7 329.3L2325.9 330.2L2326.2 331.1L2326.4 331.9L2326.7 332.8L2326.9 333.7L2327.1 334.6L2327.4 335.5L2327.6 336.4L2327.8 337.3L2328.1 338.2L2328.3 339.1L2328.5 340L2328.7 340.9L2328.9 341.8L2329.1 342.7L2329.3 343.6L2329.5 344.5L2329.7 345.4L2329.9 346.3L2330 347.2L2330.2 348.1L2330.4 349L2330.6 349.9L2330.7 350.8L2330.9 351.7L2331.1 352.6L2331.2 353.5L2331.4 354.4L2331.5 355.3L2331.6 356.2L2331.8 357.1L2331.9 358L2332 359L2332.2 359.9L2332.3 360.8L2332.4 361.7L2332.5 362.6L2332.6 363.5L2332.7 364.4L2332.8 365.3L2332.9 366.3L2333 367.1L2333.1 368L2333.2 368.7L2333.3 369.5L2333.4 370.2L2333.4 370.8L2333.5 371.5L2333.5 372.1L2333.6 372.8L2333.6 373.4L2333.7 374.1L2333.7 374.8L2333.8 375.5L2333.8 376.3L2333.8 377.1L2333.9 378L2333.9 379L2333.9 380L2334 381.1L2334 382.3L2334 383.6L2334 385.1L2334.1 386.6L2334.1 388.3L2334.1 390L2334.1 391.8L2334.2 393.5L2334.2 395.3L2334.2 397L2334.2 398.9L2334.2 400.7L2334.2 402.7L2334.2 404.7L2334.2 406.7L2334.2 408.9L2334.2 411.2L2334.2 413.5L2334.2 416L2334.2 418.7L2334.2 421.4L2334.2 424.3L2334.2 427.4L2334.2 430.7L2334.2 434.1L2334.2 437.8L2334.2 441.6L2334.2 445.7L2334.2 450L2334.2 454.5L2334.2 459.2L2334.2 464L2334.2 469.1L2334.2 474.3L2334.2 479.7L2334.2 485.2L2334.2 490.9L2334.2 496.7L2334.2 502.7L2334.2 508.8L2334.2 515.1L2334.2 521.5L2334.2 528.1L2334.2 534.7L2334.2 541.5L2334.2 548.5L2334.2 555.5L2334.2 562.7L2334.2 569.9L2334.2 577.3L2334.2 584.8L2334.2 592.3L2334.2 600L2334.2 608L2334.2 616.6L2334.2 625.7L2334.2 635.2L2334.2 645L2334.2 655.2L2334.2 665.7L2334.2 676.3L2334.2 687L2334.2 697.8L2334.2 708.6L2334.2 719.4L2334.2 730L2334.2 740.4L2334.2 750.5L2334.2 760.4L2334.2 769.8L2334.2 778.8L2334.2 787.3L2334.2 795.3L2334.2 802.5L2334.2 809.1L2334.2 815L2334.2 820" fill="none" stroke="#99ccff" stroke-width="26.4" stroke-linecap="butt" stroke-linejoin="round"/>
<path d="M1957.6 538.9L1956.8 537L1956 535.3L1955.3 533.5L1954.5 531.7L1953.8 530L1953 528.2L1952.3 526.4L1951.5 524.6L1950.4 522" fill="none" stroke="#ffffff" stroke-width="26.4"/>
<path d="M1945.8 510.8L1944.9 508.6L1944.1 506.8L1943.4 505L1942.7 503.2L1941.9 501.4L1941.2 499.6L1940.5 497.8L1939.7 496L1939 494.3" fill="none" stroke="#ffffff" stroke-width="26.4"/>
<path d="M1924.5 455.7L1923.9 453.9L1923.4 452.3L1922.9 450.8L1922.5 449.2L1922 447.7L1921.5 446.1L1921.1 444.6L1920.7 443.1L1920.2 441.6L1919.8 440.1L1919.4 438.6" fill="none" stroke="#ffffff" stroke-width="26.4"/>
<path d="M1916.5 426L1916.3 425L1916 423.5L1915.7 421.9L1915.5 420.3L1915.2 418.7L1915 417.1L1914.7 415.5L1914.5 413.8L1914.3 412.2L1914.1 410.6L1913.9 408.9" fill="none" stroke="#ffffff" stroke-width="26.4"/>
<circle cx="1978.3" cy="587" r="13.7" fill="#ffffff" stroke="#7da6d8" stroke-width="1"/>
<path d="M1978.3 587L1977.5 585.1L1977 584L1976.4 582.7L1975.9 581.4L1975.2 580L1974.6 578.4L1973.9 576.8L1973.2 575.2L1972.4 573.4L1971.7 571.7L1970.9 569.8L1970.1 568L1969.2 566.1L1968.4 564.2L1967.6 562.3L1966.8 560.3L1965.9 558.4L1965.1 556.5L1964.3 554.6L1963.5 552.8L1962.4 550.1" fill="none" stroke="#7da6d8" stroke-width="28.4"/>
<path d="M1978.3 587L1977.5 585.1L1977 584L1976.4 582.7L1975.9 581.4L1975.2 580L1974.6 578.4L1973.9 576.8L1973.2 575.2L1972.4 573.4L1971.7 571.7L1970.9 569.8L1970.1 568L1969.2 566.1L1968.4 564.2L1967.6 562.3L1966.8 560.3L1965.9 558.4L1965.1 556.5L1964.3 554.6L1963.5 552.8L1962.4 550.1" fill="none" stroke="#ffffff" stroke-width="26.4"/>
<circle cx="1978.3" cy="587" r="13.2" fill="#ffffff"/>
</g>
<line x1="1927.1" y1="332.8" x2="2073.2" y2="332.8" stroke="#3a3a3a" stroke-width="1.6"/>
<line x1="1893.4" y1="688.3" x2="1972.5" y2="578.5" stroke="#3a3a3a" stroke-width="1.6"/>
</g>
<g id="heart" stroke-linejoin="round">
<path d="M823.9 619.9C823.4 616.4 822.1 607.4 820.9 599C819.7 590.6 818.1 579.2 816.9 569.3C815.7 559.4 814.6 547.8 813.6 539.5C812.6 531.2 812.9 525.3 811 519.7C809.1 514.1 805.9 509.6 802.1 505.8C798.3 502 793.5 498.8 788.2 496.9C782.9 495 776.9 494.2 770.3 494.3C763.7 494.4 755.5 495.8 748.5 497.5C741.5 499.2 735.2 501.6 728.6 504.8C722 508 715.1 511.9 708.8 516.7C702.5 521.5 696.3 527.8 691 533.6C685.7 539.4 681 545.1 677 551.4C673 557.7 669.7 564.7 667.1 571.3C664.5 577.9 662.4 584.5 661.2 591.1C660 597.7 659.9 604.4 659.8 611C659.7 617.6 661.1 624.2 660.8 630.8C660.5 637.4 659.5 644 658.2 650.6C657 657.2 655.1 663.9 653.3 670.5C651.5 677.1 649.6 683.7 647.3 690.3C645 696.9 642.4 703.6 639.4 710.2C636.4 716.8 633 723.4 629.4 730C625.8 736.6 621.3 743.5 617.5 749.8C613.7 756.1 609.6 762.7 606.6 767.7C603.6 772.7 602.8 773 599.7 780C596.6 787 590.9 799.9 587.8 809.8C584.6 819.7 582.3 829.6 580.8 839.5C579.3 849.4 579 859.4 578.8 869.3C578.6 879.2 579 889.1 579.8 899C580.6 908.9 582.2 918.9 583.8 928.8C585.4 938.7 587.1 948.7 589.5 958.6C591.9 968.5 595.8 981.4 598 988.3C600.2 995.2 600.1 995.2 602.6 1000C605.1 1004.8 609.2 1010.6 613.2 1017.2C617.2 1023.8 622.1 1032.4 626.5 1039.7C630.9 1047 635.7 1053.8 639.7 1060.8C643.7 1067.8 647 1074.5 650.3 1082C653.6 1089.5 656.9 1097.9 659.5 1105.8C662.1 1113.7 664.2 1121.7 666.1 1129.6C668 1137.5 669.6 1145.5 670.8 1153.4C672 1161.4 672.8 1169.5 673.4 1177.3C674 1185.1 674.3 1185.6 674.7 1200C675.1 1214.4 675.4 1236.6 675.8 1263.8C676.2 1291 676.9 1342.8 677 1363C677.1 1383.2 675.8 1377.5 676.7 1385C677.6 1392.5 678.9 1401.7 682.6 1408C686.3 1414.3 692.9 1419.8 699 1423C705.1 1426.2 710.7 1427.8 719 1427.5C727.3 1427.2 738.3 1425.8 748.8 1421.5C759.3 1417.2 773 1410 781.8 1401.7C790.6 1393.5 797.2 1382.5 801.7 1372C806.2 1361.5 807.6 1351.6 809 1338.9C810.4 1326.2 809.8 1303.2 810 1296L810 1296L760 1100L760 1100L700 900L700 900L823.9 619.9Z" fill="#d7d0e5" stroke="#9f9bc0" stroke-width="1.2"/>
<path d="M870.9 611C868.6 602.9 867.8 598.4 866 591.1C864.2 583.8 862.1 574.2 860 567.3C857.9 560.3 856 555.7 853.6 549.4C851.2 543.1 848.2 535.9 845.7 529.6C843.2 523.3 839.8 516.6 838.8 511.7C837.8 506.8 838.5 503.3 840 500C841.5 496.7 844.7 493.8 848 492C851.3 490.2 856.2 489.5 860 489.5C863.8 489.5 868 490.3 871 492C874 493.7 875.8 495.9 877.9 499.8C880 503.8 881.5 509.1 883.8 515.7C886.1 522.3 888.7 530.6 891.7 539.5C894.7 548.4 898.7 560.7 901.7 569.3C904.7 577.9 907.5 584.6 909.6 591.1C911.8 597.6 914.5 599.9 914.6 608C914.7 616.1 915.8 634.7 910 640C904.2 645.3 886.5 644.8 880 640C873.5 635.2 873.2 619.1 870.9 611Z" fill="#ff9999" stroke="#b87272" stroke-width="1.1"/>
<path d="M1036.6 626.8C1041.6 616.6 1052.8 606.2 1060 598.9C1067.2 591.6 1071.5 589.6 1079.8 583C1088.1 576.4 1099.7 567.1 1109.6 559.2C1119.5 551.3 1129.5 543.3 1139.4 535.4C1149.3 527.5 1161.2 517.6 1169.1 511.6C1177 505.7 1181.7 502.4 1187 499.7C1192.3 497 1196.3 495.1 1200.9 495.3C1205.5 495.5 1211.2 497.6 1214.8 500.7C1218.4 503.8 1221.6 509.1 1222.3 513.6C1223 518.1 1221.3 523.4 1218.7 527.5C1216.1 531.6 1213.4 533.8 1206.8 538.4C1200.2 543 1188.6 548.8 1179 555.2C1169.4 561.7 1159.2 569.2 1149.3 577.1C1139.4 585 1129.4 593.6 1119.5 602.9C1109.6 612.1 1097.1 625.2 1089.8 632.6C1082.5 640 1080.9 639.6 1075.9 647.5C1070.9 655.4 1067.7 677.9 1060 680C1052.3 682.1 1033.9 668.9 1030 660C1026.1 651.1 1031.6 637 1036.6 626.8Z" fill="#ff9999" stroke="#b87272" stroke-width="1.1"/>
<path d="M1125.5 708C1132.9 702.7 1138.7 702.1 1149.3 698.1C1159.9 694.1 1175.8 688 1189 684.2C1202.2 680.4 1215.4 677.8 1228.6 675.3C1241.8 672.8 1259 670.6 1268.3 669.3C1277.6 668 1279.2 666.8 1284.2 667.3C1289.2 667.8 1294.4 669.1 1298.1 672.3C1301.8 675.4 1305.9 681.2 1306.6 686.2C1307.3 691.2 1305.2 698 1302.1 702.1C1299 706.2 1295.5 708.7 1288.2 711C1280.9 713.3 1270 713.4 1258.4 715.9C1246.8 718.4 1231.9 721.9 1218.7 725.9C1205.5 729.9 1191.6 734.8 1179 739.8C1166.4 744.8 1153.1 750.6 1143.3 755.6C1133.5 760.6 1126.4 774.3 1120 770C1113.6 765.7 1104.1 740.3 1105 730C1105.9 719.7 1118.1 713.3 1125.5 708Z" fill="#ff9999" stroke="#b87272" stroke-width="1.1"/>
<path d="M607.6 780C604.1 788 599.5 799.9 596.7 809.8C593.9 819.7 592.1 829.6 590.8 839.5C589.5 849.4 589 859.4 588.8 869.3C588.6 879.2 589.1 889.1 589.8 899C590.5 908.9 591.7 918.9 593.2 928.8C594.7 938.7 596.6 949.2 598.7 958.6C600.8 968 603.9 978.1 606 985C608.1 991.9 608.7 994.9 611.2 1000C613.7 1005.1 617.3 1009.9 621.2 1015.9C625.1 1021.9 629.5 1029.1 634.4 1035.7C639.2 1042.3 645 1049.4 650.3 1055.6C655.6 1061.8 660.8 1067.5 666.1 1072.8C671.4 1078.1 676.7 1082.7 682 1087.3C687.3 1091.9 693 1096.8 697.9 1100.5C702.8 1104.2 707.6 1106.9 711.1 1109.8C714.6 1112.7 717 1114.8 719 1117.7C721 1120.6 721.7 1122.8 723 1127C724.3 1131.2 725.5 1137.6 727 1142.9C728.5 1148.2 730.3 1153 732.3 1158.7C734.3 1164.4 735.7 1169.3 738.9 1177.3C742.1 1185.3 747 1197.2 751.4 1206.7C755.8 1216.2 760.3 1225.5 765.3 1234.4C770.3 1243.3 775.6 1251.6 781.2 1260.2C786.8 1268.8 792.7 1277.7 799 1286C805.3 1294.3 812.1 1302.3 818.9 1309.8C825.7 1317.3 833 1324 839.8 1330.8C846.6 1337.6 853.1 1344.3 859.7 1350.6C866.3 1356.9 872.9 1363.2 879.5 1368.5C886.1 1373.8 892.8 1378.1 899.4 1382.4C906 1386.7 912.6 1390.7 919.2 1394.3C925.8 1397.9 932.4 1401.2 939 1404.2C945.6 1407.2 952.3 1409.8 958.9 1412.1C965.5 1414.4 972.1 1416.3 978.7 1418.1C985.3 1419.9 992 1421.7 998.6 1423C1005.2 1424.3 1011.8 1425.2 1018.4 1426C1025 1426.8 1031.7 1427.3 1038.3 1427.6C1044.9 1427.9 1051.5 1427.8 1058.1 1427.6C1064.7 1427.4 1072.6 1426.8 1077.9 1426.5C1083.2 1426.2 1084.6 1426.5 1089.9 1425.9C1095.2 1425.3 1103.2 1424.2 1109.8 1422.9C1116.4 1421.6 1123 1419.7 1129.6 1417.9C1136.2 1416.1 1142.8 1414.3 1149.4 1412C1156 1409.7 1162.3 1406.8 1169.3 1404C1176.2 1401.2 1184.5 1398.1 1191.1 1395.1C1197.7 1392.1 1202.7 1389.3 1209 1386.2C1215.3 1383.1 1222.2 1379.3 1228.8 1376.3C1235.4 1373.3 1242.1 1370.9 1248.7 1368.3C1255.3 1365.7 1261.9 1363.4 1268.5 1360.4C1275.1 1357.4 1281.7 1354.5 1288.3 1350.5C1294.9 1346.5 1302.2 1341.9 1308.2 1336.6C1314.2 1331.3 1319.4 1325.3 1324 1318.7C1328.6 1312.1 1332.8 1304.5 1336 1296.9C1339.2 1289.3 1341.2 1281 1342.9 1273.1C1344.6 1265.2 1345.5 1258.2 1345.9 1249.3C1346.3 1240.4 1346.2 1229.4 1345.5 1219.5C1344.8 1209.6 1343.5 1199.7 1341.9 1189.8C1340.3 1179.9 1337.8 1168.4 1336 1160C1334.2 1151.6 1333.7 1152 1331 1139.3C1328.3 1126.6 1324.7 1102.2 1320 1083.7C1315.3 1065.2 1309.5 1045.3 1303 1028C1296.5 1010.7 1286.3 991.5 1281 980C1275.7 968.5 1275.6 967.2 1271.4 959C1267.2 950.8 1261.4 940.5 1255.6 930.5C1249.8 920.5 1242.8 908.5 1236.5 898.7C1230.2 888.9 1223.8 880.2 1217.5 871.7C1211.2 863.2 1204.8 855.3 1198.4 847.9C1192.1 840.5 1185.8 833.6 1179.4 827.3C1173.1 820.9 1165.3 815.3 1160.3 809.8C1155.3 804.2 1152.1 799.5 1149.2 794C1146.3 788.5 1144.5 782.5 1142.9 776.5C1141.3 770.5 1140.9 763.4 1139.8 758C1138.7 752.6 1137.8 749.9 1136.5 743.9C1135.2 737.9 1134.2 729.3 1131.8 722C1129.4 714.7 1125.9 707.1 1121.9 700.2C1117.9 693.3 1113.6 687 1108 680.4C1102.4 673.8 1094.8 666.2 1088.2 660.6C1081.6 655 1074.9 650.8 1068.3 646.7C1061.7 642.6 1055.1 639.1 1048.5 635.8C1041.9 632.5 1037 629.8 1028.7 626.8C1020.4 623.8 1008.8 620.4 998.9 617.9C989 615.4 979 613.4 969.1 611.9C959.2 610.4 949.3 609.1 939.4 608.6C929.5 608.1 919.5 608.2 909.6 608.6C899.7 609 888.1 610.1 879.8 611C871.5 611.9 867 612.9 860 613.9C853 614.9 844.8 615.6 837.8 616.9C830.8 618.2 824.5 620.1 817.9 621.9C811.3 623.7 804.7 625.6 798.1 627.8C791.5 629.9 784.9 632.3 778.3 634.8C771.7 637.3 765 639.9 758.4 642.7C751.8 645.5 745.2 648.3 738.6 651.6C732 654.9 725.3 658.5 718.7 662.5C712.1 666.5 705.5 670.8 698.9 675.4C692.3 680 685.6 684.8 679 690.3C672.4 695.8 665.2 702.2 659.2 708.2C653.2 714.2 648.3 720 643.3 726C638.3 732 633.7 737.9 629.4 743.9C625.1 749.9 621.1 755.7 617.5 761.7C613.9 767.7 611.1 772 607.6 780Z" fill="#ff9999" stroke="#b87272" stroke-width="1.1"/>
<path d="M647.3 780C651.9 775.3 651.2 775.6 655.2 771.7C659.2 767.8 665.5 761.6 671.1 756.8C676.7 752 682.7 747.2 689 742.9C695.3 738.6 702.2 734.5 708.8 731C715.4 727.5 722 724.6 728.6 722.1C735.2 719.6 741.9 717.7 748.5 716.1C755.1 714.5 761.7 713.3 768.3 712.5C774.9 711.7 781.6 711.2 788.2 711.1C794.8 711 801.7 711.7 808 712.1C814.3 712.5 821.3 713.7 825.9 713.7C830.5 713.7 832.5 713.7 835.8 712.1C839.1 710.5 842.8 707.4 845.7 704.2C848.6 701 850.6 696.6 853 693C855.4 689.4 856.9 686.8 860 682.4C863.1 678 866.9 671.8 871.9 666.5C876.9 661.2 883.5 655.2 889.8 650.6C896.1 646 903 641.8 909.6 638.7C916.2 635.6 922.8 633.6 929.4 631.8C936 630 942.7 628.6 949.3 627.8C955.9 627 962.5 626.6 969.1 626.8C975.7 627 982.4 627.6 989 628.8C995.6 630 1002.2 631.8 1008.8 633.8C1015.4 635.8 1022.1 637.9 1028.7 640.7C1035.3 643.5 1041.9 647 1048.5 650.6C1055.1 654.2 1061.7 657.9 1068.3 662.5C1074.9 667.1 1082.2 672.8 1088.2 678.4C1094.2 684 1099.4 690 1104 696.3C1108.6 702.6 1112.6 709.5 1115.9 716.1C1119.2 722.7 1121.7 728.9 1123.9 735.9C1126.1 742.9 1127.5 750.6 1129 758C1130.5 765.4 1131.8 774.3 1133 780C1134.2 785.7 1134.6 788.1 1136 792C1137.4 795.9 1138.3 798.9 1141.3 803.5C1144.3 808.1 1149 814.1 1154 819.4C1159 824.7 1165.3 829.1 1171.4 835.2C1177.5 841.3 1184.2 848.5 1190.5 855.9C1196.8 863.3 1203.2 871 1209.5 879.7C1215.8 888.4 1222.5 898.5 1228.6 908.3C1234.7 918.1 1240.7 928.9 1246 938.4C1251.3 947.9 1256.8 958.5 1260.3 965.4C1263.8 972.3 1262.2 969.6 1266.7 980C1271.2 990.4 1281 1010.7 1287 1028C1293 1045.3 1298.8 1065.2 1303 1083.7C1307.2 1102.2 1310 1126.6 1312 1139.3C1314 1152 1313.9 1151.6 1315.1 1160C1316.3 1168.4 1317.9 1179.9 1319.1 1189.8C1320.3 1199.7 1321.8 1210.2 1322.5 1219.5C1323.2 1228.8 1323.4 1236.7 1323 1245.3C1322.6 1253.9 1321.8 1262.8 1320.1 1271.1C1318.4 1279.4 1316.1 1287.6 1313.1 1294.9C1310.1 1302.2 1306.7 1308.8 1302.2 1314.8C1297.7 1320.8 1292.2 1326 1286.3 1330.6C1280.3 1335.2 1273.1 1339.2 1266.5 1342.5C1259.9 1345.8 1253 1348.2 1246.7 1350.5C1240.4 1352.8 1235.1 1354.4 1228.8 1356.4C1222.5 1358.4 1214.6 1360.4 1209 1362.4C1203.4 1364.4 1200.1 1366.2 1195.1 1368.3C1190.1 1370.4 1185.2 1373 1179.2 1375.3C1173.2 1377.6 1166 1380 1159.4 1382.2C1152.8 1384.4 1146.1 1386.5 1139.5 1388.2C1132.9 1389.9 1126.3 1391.3 1119.7 1392.5C1113.1 1393.7 1106.4 1394.4 1099.8 1395.1C1093.2 1395.8 1087 1396.3 1080 1396.5C1073 1396.7 1065 1396.5 1058.1 1396.5C1051.1 1396.5 1044.9 1396.6 1038.3 1396.3C1031.7 1396 1025 1395.5 1018.4 1394.7C1011.8 1393.9 1005.2 1392.7 998.6 1391.3C992 1389.9 985.3 1388.3 978.7 1386.3C972.1 1384.3 965.5 1382 958.9 1379.4C952.3 1376.8 945.6 1373.8 939 1370.5C932.4 1367.2 925.8 1363.6 919.2 1359.6C912.6 1355.6 906 1351.5 899.4 1346.7C892.8 1341.9 886.1 1336.4 879.5 1330.8C872.9 1325.2 866.3 1319.5 859.7 1312.9C853.1 1306.3 845.9 1298.5 839.8 1291.1C833.7 1283.6 828.7 1276 822.9 1268.2C817.1 1260.4 810.6 1252.7 805 1244.4C799.4 1236.1 794 1226 789.1 1218.6C784.2 1211.2 779.6 1207.3 775.9 1200C772.2 1192.7 769.3 1181.9 766.7 1174.6C764.1 1167.3 762.1 1162 760.1 1156.1C758.1 1150.1 756.5 1144.6 754.8 1138.9C753.1 1133.2 751.6 1126.6 750.1 1121.7C748.6 1116.8 747.6 1113.3 745.5 1109.8C743.4 1106.3 741.1 1103.6 737.6 1100.5C734.1 1097.4 729.1 1094.6 724.3 1091.3C719.4 1088 713.8 1084.7 708.5 1080.7C703.2 1076.7 697.9 1072.3 692.6 1067.5C687.3 1062.7 682 1057.3 676.7 1051.6C671.4 1045.9 665.6 1039.3 660.8 1033.1C655.9 1026.9 651.5 1020.1 647.6 1014.6C643.8 1009.1 641.1 1006 637.7 1000C634.3 994 630.2 986.9 627 978.4C623.8 969.9 621 958.6 618.5 948.7C616 938.8 613.5 928.8 612 918.9C610.5 909 609.8 899 609.6 889.1C609.4 879.2 609.6 869.3 610.6 859.4C611.6 849.5 612.8 839.5 615.6 829.6C618.4 819.7 622.2 808.1 627.5 799.8C632.8 791.5 642.7 784.7 647.3 780Z" fill="#ffcccc" stroke="#b87272" stroke-width="1.1"/>
<path d="M738.9 1045.6C738 1046.2 748.4 1046 752.1 1046.3C755.8 1046.6 761.6 1047 765.3 1047.6C769 1048.2 775.3 1049.6 778.6 1050.9C781.9 1052.2 786.3 1054.8 789.2 1056.9C792.1 1059 795.4 1062.6 799 1065.8C802.6 1069 811 1075.9 814.9 1079.7C818.8 1083.5 824.1 1089.3 826.8 1092.6C829.5 1095.9 833.3 1101.4 834.5 1103.5C835.7 1105.6 835.6 1107.1 835.2 1107.8C834.9 1108.5 833.2 1108.8 832 1108.5C830.8 1108.2 828.9 1107.3 826.8 1105.5C824.7 1103.7 820.2 1098.8 816.9 1095.6C813.6 1092.4 806.3 1085.7 803 1082.7C799.7 1079.7 795.5 1075.8 793 1074.5C790.5 1073.2 787.7 1073 785.2 1073.7C782.7 1074.4 777 1077.2 775.2 1079.7C773.4 1082.2 772 1087.7 772.3 1091.6C772.6 1095.5 775.1 1103.1 777.2 1107.5C779.3 1111.9 784 1118.9 787.1 1123.3C790.2 1127.7 795.9 1134.2 799 1139.2C802.1 1144.2 806.8 1153.4 809 1159C811.2 1164.6 813 1174.2 814.9 1178.9C816.8 1183.6 819.8 1189.5 822.9 1192.8C826 1196.1 833.6 1199.9 836.7 1202.7C839.8 1205.5 842.8 1209 844.7 1212.6C846.6 1216.2 848.5 1224.5 850.6 1228.5C852.7 1232.5 855.9 1237.7 859.7 1241.5C863.5 1245.3 872.5 1251.2 877.5 1255.4C882.5 1259.6 890.9 1267.1 895.4 1271.3C899.9 1275.5 906 1281.3 909.3 1285.2C912.6 1289.1 916.1 1295.4 919.2 1299C922.3 1302.6 926.9 1307.8 931.1 1310.9C935.3 1314 943.7 1318.4 949 1320.9C954.3 1323.4 963.2 1327 968.8 1328.8C974.4 1330.6 983.1 1332.8 988.7 1333.8C994.3 1334.8 1003 1335.6 1008.5 1335.7C1014 1335.8 1022.7 1335.3 1028.3 1334.8C1033.9 1334.3 1042.6 1332.8 1048.2 1331.8C1053.8 1330.8 1063 1328.9 1068 1327.8C1073 1326.7 1079.7 1324.6 1083.9 1323.8C1088.1 1323 1093.9 1322.2 1097.8 1321.9C1101.7 1321.6 1108.8 1321.8 1111.7 1321.3C1114.6 1320.8 1117.2 1319.7 1118.5 1318.5C1119.8 1317.3 1120.9 1314.7 1120.7 1312.8C1120.5 1310.9 1118.4 1307.4 1117 1305C1115.6 1302.6 1113.4 1299.8 1110.6 1296C1107.8 1292.2 1100.6 1283.4 1096.7 1278.1C1092.8 1272.8 1086.5 1263.6 1082.9 1258.3C1079.3 1253 1074.3 1245.1 1071 1240.4C1067.7 1235.7 1062.9 1228.9 1059 1224.5C1055.1 1220.1 1047.4 1213.4 1043.2 1208.7C1039 1204 1033.2 1196.4 1029.3 1190.8C1025.4 1185.2 1019 1175.1 1015.4 1169C1011.8 1162.9 1007.5 1153.2 1003.5 1147.1C999.5 1141 990.6 1130.2 987 1125.3C983.4 1120.4 980 1115.2 977.8 1112C975.6 1108.8 973.4 1105.8 971.4 1102.2C969.4 1098.6 966.2 1091.2 963.5 1086.3C960.8 1081.4 955.7 1072.6 952.4 1067.3C949.1 1062 943.3 1053.4 939.7 1048.3C936.1 1043.2 930.1 1035.5 927 1030.8C923.9 1026.1 920 1020 917.5 1014.9C915 1009.8 912 999.9 909.5 994.3C907 988.7 902.5 979.9 900 975.2C897.5 970.5 894.2 964.5 891.6 960.5C889 956.5 884.2 949.1 881.7 946.7C879.2 944.3 875.9 943.4 873.7 943.7C871.5 944 867.6 946.1 865.8 948.7C864 951.3 861.4 958.3 860.8 962.5C860.2 966.7 860.8 973.4 861.8 978.4C862.8 983.4 865.9 992.7 867.8 998.3C869.7 1003.9 873.6 1012.3 875.7 1018.1C877.8 1023.9 882.2 1036.4 883 1040C883.8 1043.6 882.1 1043.6 881.5 1044C880.9 1044.4 879.8 1044 878.7 1042.9C877.6 1041.8 875.8 1039.5 873.7 1036C871.6 1032.5 866.4 1022.8 863.8 1018.1C861.2 1013.4 857.1 1007.2 854.9 1002.2C852.7 997.2 849.1 988 847.9 982.4C846.7 976.8 845.7 967.8 846 962.5C846.3 957.2 850.3 943.9 849.9 944.7C849.5 945.5 845.3 961.6 843 968C840.7 974.4 837.9 983.9 833.8 990.3C829.7 996.7 820.4 1008.2 814 1014C807.6 1019.8 796 1028.1 788.2 1032C780.4 1035.9 765.3 1040 758.4 1041.9C751.5 1043.8 739.8 1045 738.9 1045.6Z" fill="#cc7a7a" stroke="#b87272" stroke-width="1.1"/>
<path d="M745 1046.5C746.5 1047.5 762 1046.5 769.3 1048C776.6 1049.5 783.9 1052.8 789 1055.5C794.1 1058.2 795.5 1060.2 800 1064C804.5 1067.8 811.3 1073.5 816 1078C820.7 1082.5 824.7 1086.9 828 1091C831.3 1095.1 834.2 1099.2 836 1102.5C837.8 1105.8 837.5 1108.2 839 1111C840.5 1113.8 841.4 1114.7 844.7 1119.4C848 1124.1 854.3 1132.6 858.6 1139.2C862.9 1145.8 866.9 1152.4 870.5 1159C874.1 1165.6 877.4 1172.3 880.4 1178.9C883.4 1185.5 886 1192.1 888.3 1198.7C890.6 1205.3 892.6 1212 894.3 1218.6C895.9 1225.2 896.4 1231.6 898.2 1238.4C900 1245.2 901.1 1254.2 905.3 1259.4C909.5 1264.6 916.9 1268 923.2 1269.3C929.5 1270.6 937 1269.3 943 1267.3C949 1265.3 953.6 1260.4 958.9 1257.4C964.2 1254.4 968.8 1250.4 974.8 1249.4C980.8 1248.4 988.6 1249.7 994.6 1251.4C1000.6 1253.1 1005.5 1257.4 1010.5 1259.4C1015.5 1261.4 1020.1 1263.6 1024.4 1263.3C1028.7 1263 1033.3 1260.7 1036.3 1257.4C1039.3 1254.1 1041.9 1249.1 1042.2 1243.5C1042.5 1237.9 1041 1229.9 1038.3 1223.6C1035.6 1217.3 1030.9 1211.4 1026.3 1205.8C1021.7 1200.2 1015.7 1195.5 1010.5 1189.9C1005.3 1184.3 1000.1 1178.7 995 1172C989.9 1165.3 985.5 1158.3 980 1150C974.5 1141.7 967.8 1131.2 962 1122C956.2 1112.8 950.7 1104 945 1095C939.3 1086 933.5 1076.3 928 1068C922.5 1059.7 917.2 1052.7 912 1045C906.8 1037.3 901.5 1029.5 897 1022C892.5 1014.5 888.8 1006.2 885 1000C881.2 993.8 877.2 985.3 874 985C870.8 984.7 865.8 992.5 866 998C866.2 1003.5 872.7 1010.8 875 1018C877.3 1025.2 880.5 1038 880 1041C879.5 1044 875 1039.8 872 1036C869 1032.2 865.2 1024 862 1018C858.8 1012 855.3 1005.5 853 1000C850.7 994.5 849.8 989.2 848 985C846.2 980.8 844.3 974.2 842 975C839.7 975.8 838.7 983.5 834 990C829.3 996.5 821.7 1007 814 1014C806.3 1021 797 1027.3 788 1032C779 1036.7 767.2 1039.6 760 1042C752.8 1044.4 743.5 1045.5 745 1046.5Z" fill="#e58a8a" stroke="none" stroke-width="1"/>
<ellipse cx="890" cy="1148" rx="54" ry="10" fill="#cc7a7a" transform="rotate(56 890 1148)"/>
<ellipse cx="908" cy="1110" rx="26" ry="6.5" fill="#cc7a7a" transform="rotate(56 908 1110)"/>
<path d="M808 1122C808.8 1120.1 816.3 1122.8 820 1126C823.7 1129.2 832 1140.4 836 1146C840 1151.6 846.5 1162.1 850 1168C853.5 1173.9 859.6 1184.9 862 1190C864.4 1195.1 868.3 1204.7 868 1206C867.7 1207.3 860.5 1198.7 860 1200C859.5 1201.3 865.1 1216 864 1216C862.9 1216 855.2 1204.8 852 1200C848.8 1195.2 843.5 1185.6 840 1180C836.5 1174.4 829.5 1163.3 826 1158C822.5 1152.7 816.4 1144.8 814 1140C811.6 1135.2 807.2 1123.9 808 1122Z" fill="#e58a8a" stroke="none" stroke-width="1"/>
<path d="M935 1287C937.4 1285.8 950.7 1287.9 958 1289C965.3 1290.1 981.7 1293.4 990 1295C998.3 1296.6 1014.1 1299.4 1020 1301C1025.9 1302.6 1035.3 1305.5 1034 1307C1032.7 1308.5 1011.6 1310.5 1010 1312C1008.4 1313.5 1024.4 1316.7 1022 1318C1019.6 1319.3 998.3 1322.1 992 1322C985.7 1321.9 979.5 1318.2 975 1317C970.5 1315.8 961.5 1314.3 958 1313C954.5 1311.7 951.4 1309 949 1307C946.6 1305 941.9 1300.7 940 1298C938.1 1295.3 932.6 1288.2 935 1287Z" fill="#e58a8a" stroke="none" stroke-width="1"/>
<path d="M880 1046C880.8 1044.9 888.7 1051.7 892 1056C895.3 1060.3 901.9 1072.4 905 1078C908.1 1083.6 913 1093.5 915 1098C917 1102.5 920.5 1111.2 920 1112C919.5 1112.8 912.1 1103.2 911 1104C909.9 1104.8 913.2 1118.5 912 1118C910.8 1117.5 904.4 1104.8 902 1100C899.6 1095.2 896.1 1086.8 894 1082C891.9 1077.2 887.9 1068.8 886 1064C884.1 1059.2 879.2 1047.1 880 1046Z" fill="#e58a8a" stroke="none" stroke-width="1"/>
<path d="M778.3 740.9C788.2 740.7 800.4 742.1 808 743.9C815.6 745.7 819.6 748.5 823.9 751.8C828.2 755.1 831.3 759 833.8 763.7C836.3 768.4 837.1 772.3 839 780C840.9 787.7 843.2 799.9 845 809.8C846.8 819.7 848.1 829.6 849.9 839.5C851.7 849.4 854.1 861 855.9 869.3C857.7 877.6 859.8 882.5 860.8 889.1C861.8 895.7 862.3 902.7 861.8 909C861.3 915.3 859.9 920.8 857.9 926.8C855.9 932.8 852.9 936.7 849.9 944.7C846.9 952.7 842.7 967.4 840 975C837.3 982.6 838.1 983.8 833.8 990.3C829.5 996.8 821.6 1007 814 1014C806.4 1021 797.5 1027.3 788.2 1032C778.9 1036.7 766.6 1039.6 758.4 1041.9C750.2 1044.2 744.3 1045.4 738.9 1045.6C733.5 1045.8 730.1 1044.4 725.7 1043C721.3 1041.6 716.1 1039 712.4 1037C708.6 1035 706.5 1033.5 703.2 1031.1C699.9 1028.7 696.1 1025.7 692.6 1022.5C689.1 1019.3 685.4 1015.6 682 1011.9C678.6 1008.1 675.9 1006.2 672.1 1000C668.3 993.8 663.1 983.6 659 974.4C654.9 965.2 650.6 954.6 647.3 944.7C644 934.8 641.1 924.8 639.4 914.9C637.7 905 637 895.1 637 885.2C637 875.3 637.7 865.3 639.4 855.4C641.1 845.5 643.3 834.9 647.3 825.6C651.3 816.3 657.2 807.4 663.2 799.8C669.2 792.2 678.4 784.4 683 780C687.6 775.6 686.7 776.6 691 773.6C695.3 770.6 702.5 765.3 708.8 761.7C715.1 758.1 722 754.6 728.6 751.8C735.2 749 740.2 746.7 748.5 744.9C756.8 743.1 768.4 741.1 778.3 740.9Z" fill="#cc7a7a" stroke="#b87272" stroke-width="0.8"/>
<path d="M945 880C937.5 885.5 949.4 891.8 950 897C950.6 902.2 950.9 911.4 949.3 914.5C947.7 917.6 942.1 916 939.4 917.5C936.7 919 933.2 921.9 931.4 924.4C929.6 926.9 928 931.3 927.5 934.3C927 937.3 927.5 941.1 928.4 944.2C929.3 947.3 931.5 951.9 933.4 955.2C935.3 958.5 938.2 962.7 941.3 966.1C944.4 969.5 950 974.3 954.2 978C958.4 981.7 965.8 987.5 969.1 990.9C972.4 994.3 972.5 996.8 976.2 1000.6C979.9 1004.4 988.9 1012 993.7 1016.5C998.5 1021 1003.9 1026.8 1007.9 1030.8C1011.9 1034.8 1016.5 1039.9 1020.6 1043.5C1024.7 1047.1 1030.4 1051.5 1034.9 1054.6C1039.4 1057.7 1046.3 1060.8 1050.8 1064.1C1055.3 1067.4 1061.5 1073 1065.1 1076.8C1068.7 1080.6 1072 1085.2 1074.6 1089.5C1077.2 1093.8 1080.1 1100.9 1082.5 1105.4C1084.9 1109.9 1087.8 1114.9 1090.8 1119.4C1093.8 1123.9 1098.5 1130.4 1102.7 1135.2C1106.9 1140 1114.4 1146 1118.6 1151.1C1122.8 1156.2 1127.5 1163.3 1130.5 1169C1133.5 1174.7 1135.7 1183.4 1138.4 1188.8C1141.1 1194.2 1145 1200.2 1148.3 1204.7C1151.6 1209.2 1157.2 1214.1 1160.2 1218.6C1163.2 1223.1 1166.1 1229 1168.2 1234.4C1170.3 1239.8 1172.3 1248.3 1174.1 1254.3C1175.9 1260.3 1178.8 1270.3 1180.1 1274.1C1181.4 1277.9 1182 1278.5 1183 1279.5C1184 1280.5 1185.8 1280.7 1187 1280.5C1188.2 1280.3 1190.1 1279 1191 1278C1191.9 1277 1192 1277.7 1193 1274.1C1194 1270.5 1196.3 1260.8 1197.9 1254.3C1199.5 1247.8 1201.5 1237.1 1203.9 1230.5C1206.3 1223.9 1211.1 1216.6 1213.8 1210.6C1216.5 1204.6 1219.8 1197 1221.7 1190.8C1223.6 1184.6 1226.1 1176.1 1226.7 1169C1227.3 1161.9 1226.5 1151.2 1225.7 1143.2C1225 1135.2 1223.5 1123.4 1221.7 1115.4C1219.9 1107.4 1216.5 1097 1213.8 1089.6C1211.1 1082.2 1206.1 1073.2 1203.9 1065.8C1201.7 1058.4 1200.8 1048.1 1199 1040C1197.2 1031.9 1194.5 1020.2 1192 1012C1189.5 1003.8 1185.3 992.8 1182 985C1178.7 977.2 1173.9 967.5 1170 960C1166.1 952.5 1160.2 941.8 1156 935C1151.8 928.2 1145.1 920.4 1142 915C1138.9 909.6 1137.7 904.1 1135.6 899C1133.5 893.9 1130.4 886.3 1127.7 881.2C1125 876.1 1121.1 869.5 1117.8 865.3C1114.5 861.1 1109.2 855.8 1105.9 853.4C1102.6 851 1098.6 849.4 1095.9 849.4C1093.2 849.4 1089.6 851.3 1088 853.4C1086.4 855.5 1085.2 860 1085 863.3C1084.8 866.6 1086.3 872.7 1087 875.2C1087.7 877.7 1088.7 877.4 1089.7 880C1090.7 882.6 1091.9 887.9 1093.7 892.7C1095.5 897.5 1099.5 906.3 1101.6 911.7C1103.7 917.1 1106.8 925.7 1107.5 929C1108.2 932.3 1107.1 933.2 1106.5 934C1105.9 934.8 1104.3 934.6 1103.5 934C1102.7 933.4 1102.5 932.9 1101 930C1099.5 927.1 1096.2 920 1093.7 914.9C1091.2 909.8 1086.7 901.1 1084.1 895.9C1081.5 890.7 1077.7 883.1 1076.2 880C1074.7 876.9 1075 878.3 1074.1 875.2C1073.2 872.1 1072.3 865.4 1070.2 859.4C1068.1 853.4 1070.5 834.9 1060 835C1049.5 835.1 1017.2 853.2 1000 860C982.8 866.8 952.5 874.5 945 880Z" fill="#cc7a7a" stroke="#b87272" stroke-width="1.1"/>
<path d="M945 880C938.3 884.8 947.5 893.2 950 896C952.5 898.8 959.6 899.4 963.5 901C967.4 902.6 975.2 905.7 979.4 908C983.6 910.3 991 914 995.2 918.1C999.4 922.2 1007.3 933.6 1011.1 938.7C1014.9 943.8 1020.8 952 1023.8 956.2C1026.8 960.4 1031.1 967.2 1033.3 970.5C1035.5 973.8 1038.3 977.1 1040 981C1041.7 984.9 1043.6 994.1 1046 1000C1048.4 1005.9 1054.5 1018.6 1058 1025C1061.5 1031.4 1068.2 1042.7 1072 1048C1075.8 1053.3 1083.2 1060.5 1086.8 1065C1090.4 1069.5 1095.8 1076.9 1098.7 1082C1101.6 1087.1 1106 1098 1108.7 1103.5C1111.4 1109 1115.7 1118 1118.6 1123.3C1121.5 1128.6 1127.3 1137.9 1130.5 1143.2C1133.7 1148.5 1139.8 1158 1142.4 1163C1145 1168 1148.5 1178.9 1150.3 1180.9C1152.1 1182.9 1154.4 1175.5 1156 1178C1157.6 1180.5 1160.7 1198.4 1162 1200C1163.3 1201.6 1164.7 1188.1 1166 1190C1167.3 1191.9 1170.4 1213.2 1172 1214C1173.6 1214.8 1176.4 1197.2 1178 1196C1179.6 1194.8 1182.4 1206.5 1184 1205C1185.6 1203.5 1188.3 1191 1190 1185C1191.7 1179 1195.5 1167.3 1197 1160C1198.5 1152.7 1200.9 1138 1201 1130C1201.1 1122 1199.5 1108 1198 1100C1196.5 1092 1192.4 1078 1190 1070C1187.6 1062 1182.7 1047.7 1180 1040C1177.3 1032.3 1173.2 1019.3 1170 1012C1166.8 1004.7 1160 992.2 1156 985C1152 977.8 1144.5 964.3 1140 958C1135.5 951.7 1126.3 940.7 1122 938C1117.7 935.3 1110.8 939.1 1108 938C1105.2 936.9 1102.9 933.1 1101 930C1099.1 926.9 1096 919.4 1093.7 914.9C1091.4 910.4 1086.4 900.6 1084.1 895.9C1081.8 891.2 1078.1 884.9 1076.2 880C1074.3 875.1 1072.4 865.4 1070.2 859.4C1068 853.4 1069.4 834.9 1060 835C1050.6 835.1 1015.3 854 1000 860C984.7 866 951.7 875.2 945 880Z" fill="#e58a8a" stroke="none" stroke-width="1"/>
<ellipse cx="1068" cy="1011" rx="52" ry="6" fill="#cc7a7a" transform="rotate(68 1068 1011)"/>
<ellipse cx="1095" cy="1000" rx="27" ry="8" fill="#cc7a7a" transform="rotate(54 1095 1000)"/>
<path d="M1095 953C1094.8 949.5 1098.8 949.2 1101 949C1103.2 948.8 1104.5 948.5 1108 952C1111.5 955.5 1117 962.8 1122 970C1127 977.2 1133.3 986.7 1138 995C1142.7 1003.3 1147 1012.5 1150 1020C1153 1027.5 1155.7 1035.7 1156 1040C1156.3 1044.3 1153.8 1046 1152 1046C1150.2 1046 1148.3 1045.2 1145 1040C1141.7 1034.8 1136.8 1023.3 1132 1015C1127.2 1006.7 1121 997.5 1116 990C1111 982.5 1105.5 976.2 1102 970C1098.5 963.8 1095.2 956.5 1095 953Z" fill="#cc7a7a" stroke="none" stroke-width="1"/>
<path d="M960.3 949.8C961.1 949 972.1 952 975 953C977.9 954 983.2 956.5 985 958C986.8 959.5 988.2 964.4 990 966C991.8 967.6 997.9 969.8 1000 972C1002.1 974.2 1005.9 982.9 1008 985C1010.1 987.1 1017.1 988.2 1018 990C1018.9 991.8 1014.8 997.9 1016 1000C1017.2 1002.1 1025.9 1005.4 1028 1008C1030.1 1010.6 1032.3 1020.1 1034 1022C1035.7 1023.9 1042.7 1023.1 1042.9 1024C1043.1 1024.9 1038.1 1030.7 1036 1030C1033.9 1029.3 1026.6 1018.5 1025 1018C1023.4 1017.5 1023.5 1026.9 1022 1026C1020.5 1025.1 1014.6 1013 1012 1010C1009.4 1007 1002.6 1002.9 1000 1000C997.4 997.1 992.6 988.3 990 985C987.4 981.7 980.6 974.9 978 972C975.4 969.1 970.1 962.6 968 960C965.9 957.4 959.5 950.6 960.3 949.8Z" fill="#e58a8a" stroke="none" stroke-width="1"/>
<path d="M1106 872C1106.9 871.2 1112.4 875.7 1114 878C1115.6 880.3 1118.4 889.4 1120 892C1121.6 894.6 1126.8 897.3 1128 900C1129.2 902.7 1128.8 912.1 1130 915C1131.2 917.9 1137.3 922.8 1138 925C1138.7 927.2 1137.2 933.6 1136 934C1134.8 934.4 1129.2 929.9 1128 928C1126.8 926.1 1127.2 920.3 1126 918C1124.8 915.7 1119.6 910.7 1118 908C1116.4 905.3 1113.4 897.7 1112 895C1110.6 892.3 1106.7 887.7 1106 885C1105.3 882.3 1105.1 872.8 1106 872Z" fill="#e58a8a" stroke="none" stroke-width="1"/>
<path d="M1204 1100C1204.9 1100.6 1209.1 1114.8 1210 1120C1210.9 1125.2 1212 1139.2 1212 1145C1212 1150.8 1210.9 1164.8 1210 1170C1209.1 1175.2 1205.2 1188.8 1204 1190C1202.8 1191.2 1200.1 1183.5 1200 1180C1199.9 1176.5 1202.5 1165.2 1203 1160C1203.5 1154.8 1204.1 1140.2 1204 1135C1203.9 1129.8 1202 1119.1 1202 1115C1202 1110.9 1203.1 1099.4 1204 1100Z" fill="#e58a8a" stroke="none" stroke-width="1"/>
<path d="M972 656.9C981.5 657 998.3 658 1009 660.6C1019.7 663.2 1033.7 668.5 1043.5 674.4C1053.3 680.3 1067 691.8 1074.4 700C1081.8 708.2 1088.9 720.4 1093 729.4C1097.1 738.4 1100.4 752.4 1102 760C1103.6 767.6 1103.8 775.5 1103.9 780C1104 784.5 1103.8 785.7 1102.9 789.9C1102 794.1 1100.1 802.4 1097.9 807.8C1095.7 813.2 1091.6 820.5 1088 825.6C1084.4 830.7 1078.6 837.3 1074.1 841.5C1069.6 845.7 1063.7 849.8 1058.3 853.4C1052.9 857 1044.4 862 1038.4 865.3C1032.4 868.6 1024.6 872.5 1018.6 875.2C1012.6 877.9 1004.7 881.1 998.7 883.2C992.7 885.3 984.9 887.6 978.9 889.1C972.9 890.6 965 892.6 959 893.5C953 894.4 945.1 895.1 939.2 895.1C933.3 895.1 925.4 894.5 919.4 893.5C913.4 892.5 904.1 889.6 899.5 888.1C894.9 886.6 891.3 885.9 889 883.5C886.7 881.1 885.7 875.6 884 872C882.3 868.4 879.5 864.2 877.7 859.4C875.9 854.6 873.4 845.1 872.1 840C870.8 834.9 869.8 830.4 868.8 825.2C867.8 820 866.5 811.4 865.5 805.4C864.5 799.4 863 791.5 862.2 785.5C861.4 779.5 860.3 771.7 860.2 765.7C860.1 759.7 860.4 751.8 861.5 745.8C862.6 739.8 865.2 731.5 867.5 726C869.8 720.5 873.3 713.8 876.7 708.8C880.1 703.8 885.6 697.5 890 692.9C894.4 688.3 900.4 682.4 905.8 678.4C911.2 674.4 919.7 669.3 925.7 666.5C931.7 663.7 938.6 661.2 945.5 659.8C952.4 658.4 962.5 656.8 972 656.9Z" fill="#cc7a7a" stroke="#b87272" stroke-width="0.8"/>
<ellipse cx="993.5" cy="715" rx="24" ry="12.5" fill="#804d4d" transform="rotate(24 993.5 715)"/>
<ellipse cx="890" cy="769.6" rx="10.8" ry="24" fill="#804d4d" transform="rotate(-3 890 769.6)"/>
<ellipse cx="929" cy="846.5" rx="22" ry="18" fill="#804d4d" transform="rotate(32 929 846.5)"/>
<ellipse cx="1047.5" cy="783" rx="9.5" ry="21" fill="#804d4d" transform="rotate(-24 1047.5 783)"/>
<path d="M922 894.4C925 893.1 935.6 895.7 939.4 896C943.2 896.3 945.1 895.7 949.3 896.3C953.5 896.9 964.2 898.8 969.1 900.6C974 902.4 979.8 906.4 984 909.5C988.2 912.6 994.7 918.2 998.9 922.4C1003.1 926.6 1009.6 934.2 1013.8 939.3C1018 944.4 1025.3 954.4 1028.6 959.1C1031.9 963.8 1035.9 970.1 1037.6 973C1039.3 975.9 1040.5 978.7 1040.8 980C1041.1 981.3 1040.5 982.1 1040 982.3C1039.5 982.5 1038.1 982 1037.5 981.5C1036.9 981 1036.8 980.8 1035.6 979C1034.4 977.2 1031 972.3 1028.6 969C1026.2 965.7 1021.5 958.8 1018.7 955.2C1015.9 951.6 1011.6 946.3 1008.8 943.2C1006 940.1 1001.7 935.8 998.9 933.3C996.1 930.8 991.8 927.3 989 925.4C986.2 923.5 981.8 920.7 979 919.4C976.2 918.1 971.9 916.7 969.1 916C966.3 915.3 962 914.5 959.2 914.3C956.4 914.1 952.1 914.1 949.3 914.5C946.5 914.9 942.4 917.3 939.4 917.5C936.4 917.7 931 917.8 928 916C925 914.2 918.8 908 918 905C917.2 902 919 895.7 922 894.4Z" fill="#ffcccc" stroke="none" stroke-width="1"/>
<path d="M949.3 896.3C952.1 896.9 964.2 898.8 969.1 900.6C974 902.4 979.8 906.4 984 909.5C988.2 912.6 994.7 918.2 998.9 922.4C1003.1 926.6 1009.6 934.2 1013.8 939.3C1018 944.4 1025.3 954.4 1028.6 959.1C1031.9 963.8 1035.9 970.1 1037.6 973C1039.3 975.9 1040.5 978.7 1040.8 980C1041.1 981.3 1040.5 982.1 1040 982.3C1039.5 982.5 1038.1 982 1037.5 981.5C1036.9 981 1036.8 980.8 1035.6 979C1034.4 977.2 1031 972.3 1028.6 969C1026.2 965.7 1021.5 958.8 1018.7 955.2C1015.9 951.6 1011.6 946.3 1008.8 943.2C1006 940.1 1001.7 935.8 998.9 933.3C996.1 930.8 991.8 927.3 989 925.4C986.2 923.5 981.8 920.7 979 919.4C976.2 918.1 971.9 916.7 969.1 916C966.3 915.3 962 914.5 959.2 914.3C956.4 914.1 950.7 914.5 949.3 914.5" fill="none" stroke="#b87272" stroke-width="0.8"/>
<clipPath id="chclip">
<path d="M778.3 740.9C788.2 740.7 800.4 742.1 808 743.9C815.6 745.7 819.6 748.5 823.9 751.8C828.2 755.1 831.3 759 833.8 763.7C836.3 768.4 837.1 772.3 839 780C840.9 787.7 843.2 799.9 845 809.8C846.8 819.7 848.1 829.6 849.9 839.5C851.7 849.4 854.1 861 855.9 869.3C857.7 877.6 859.8 882.5 860.8 889.1C861.8 895.7 862.3 902.7 861.8 909C861.3 915.3 859.9 920.8 857.9 926.8C855.9 932.8 852.9 936.7 849.9 944.7C846.9 952.7 842.7 967.4 840 975C837.3 982.6 838.1 983.8 833.8 990.3C829.5 996.8 821.6 1007 814 1014C806.4 1021 797.5 1027.3 788.2 1032C778.9 1036.7 766.6 1039.6 758.4 1041.9C750.2 1044.2 744.3 1045.4 738.9 1045.6C733.5 1045.8 730.1 1044.4 725.7 1043C721.3 1041.6 716.1 1039 712.4 1037C708.6 1035 706.5 1033.5 703.2 1031.1C699.9 1028.7 696.1 1025.7 692.6 1022.5C689.1 1019.3 685.4 1015.6 682 1011.9C678.6 1008.1 675.9 1006.2 672.1 1000C668.3 993.8 663.1 983.6 659 974.4C654.9 965.2 650.6 954.6 647.3 944.7C644 934.8 641.1 924.8 639.4 914.9C637.7 905 637 895.1 637 885.2C637 875.3 637.7 865.3 639.4 855.4C641.1 845.5 643.3 834.9 647.3 825.6C651.3 816.3 657.2 807.4 663.2 799.8C669.2 792.2 678.4 784.4 683 780C687.6 775.6 686.7 776.6 691 773.6C695.3 770.6 702.5 765.3 708.8 761.7C715.1 758.1 722 754.6 728.6 751.8C735.2 749 740.2 746.7 748.5 744.9C756.8 743.1 768.4 741.1 778.3 740.9Z"/>
<path d="M972 656.9C981.5 657 998.3 658 1009 660.6C1019.7 663.2 1033.7 668.5 1043.5 674.4C1053.3 680.3 1067 691.8 1074.4 700C1081.8 708.2 1088.9 720.4 1093 729.4C1097.1 738.4 1100.4 752.4 1102 760C1103.6 767.6 1103.8 775.5 1103.9 780C1104 784.5 1103.8 785.7 1102.9 789.9C1102 794.1 1100.1 802.4 1097.9 807.8C1095.7 813.2 1091.6 820.5 1088 825.6C1084.4 830.7 1078.6 837.3 1074.1 841.5C1069.6 845.7 1063.7 849.8 1058.3 853.4C1052.9 857 1044.4 862 1038.4 865.3C1032.4 868.6 1024.6 872.5 1018.6 875.2C1012.6 877.9 1004.7 881.1 998.7 883.2C992.7 885.3 984.9 887.6 978.9 889.1C972.9 890.6 965 892.6 959 893.5C953 894.4 945.1 895.1 939.2 895.1C933.3 895.1 925.4 894.5 919.4 893.5C913.4 892.5 904.1 889.6 899.5 888.1C894.9 886.6 891.3 885.9 889 883.5C886.7 881.1 885.7 875.6 884 872C882.3 868.4 879.5 864.2 877.7 859.4C875.9 854.6 873.4 845.1 872.1 840C870.8 834.9 869.8 830.4 868.8 825.2C867.8 820 866.5 811.4 865.5 805.4C864.5 799.4 863 791.5 862.2 785.5C861.4 779.5 860.3 771.7 860.2 765.7C860.1 759.7 860.4 751.8 861.5 745.8C862.6 739.8 865.2 731.5 867.5 726C869.8 720.5 873.3 713.8 876.7 708.8C880.1 703.8 885.6 697.5 890 692.9C894.4 688.3 900.4 682.4 905.8 678.4C911.2 674.4 919.7 669.3 925.7 666.5C931.7 663.7 938.6 661.2 945.5 659.8C952.4 658.4 962.5 656.8 972 656.9Z"/>
<path d="M738.9 1045.6C738 1046.2 748.4 1046 752.1 1046.3C755.8 1046.6 761.6 1047 765.3 1047.6C769 1048.2 775.3 1049.6 778.6 1050.9C781.9 1052.2 786.3 1054.8 789.2 1056.9C792.1 1059 795.4 1062.6 799 1065.8C802.6 1069 811 1075.9 814.9 1079.7C818.8 1083.5 824.1 1089.3 826.8 1092.6C829.5 1095.9 833.3 1101.4 834.5 1103.5C835.7 1105.6 835.6 1107.1 835.2 1107.8C834.9 1108.5 833.2 1108.8 832 1108.5C830.8 1108.2 828.9 1107.3 826.8 1105.5C824.7 1103.7 820.2 1098.8 816.9 1095.6C813.6 1092.4 806.3 1085.7 803 1082.7C799.7 1079.7 795.5 1075.8 793 1074.5C790.5 1073.2 787.7 1073 785.2 1073.7C782.7 1074.4 777 1077.2 775.2 1079.7C773.4 1082.2 772 1087.7 772.3 1091.6C772.6 1095.5 775.1 1103.1 777.2 1107.5C779.3 1111.9 784 1118.9 787.1 1123.3C790.2 1127.7 795.9 1134.2 799 1139.2C802.1 1144.2 806.8 1153.4 809 1159C811.2 1164.6 813 1174.2 814.9 1178.9C816.8 1183.6 819.8 1189.5 822.9 1192.8C826 1196.1 833.6 1199.9 836.7 1202.7C839.8 1205.5 842.8 1209 844.7 1212.6C846.6 1216.2 848.5 1224.5 850.6 1228.5C852.7 1232.5 855.9 1237.7 859.7 1241.5C863.5 1245.3 872.5 1251.2 877.5 1255.4C882.5 1259.6 890.9 1267.1 895.4 1271.3C899.9 1275.5 906 1281.3 909.3 1285.2C912.6 1289.1 916.1 1295.4 919.2 1299C922.3 1302.6 926.9 1307.8 931.1 1310.9C935.3 1314 943.7 1318.4 949 1320.9C954.3 1323.4 963.2 1327 968.8 1328.8C974.4 1330.6 983.1 1332.8 988.7 1333.8C994.3 1334.8 1003 1335.6 1008.5 1335.7C1014 1335.8 1022.7 1335.3 1028.3 1334.8C1033.9 1334.3 1042.6 1332.8 1048.2 1331.8C1053.8 1330.8 1063 1328.9 1068 1327.8C1073 1326.7 1079.7 1324.6 1083.9 1323.8C1088.1 1323 1093.9 1322.2 1097.8 1321.9C1101.7 1321.6 1108.8 1321.8 1111.7 1321.3C1114.6 1320.8 1117.2 1319.7 1118.5 1318.5C1119.8 1317.3 1120.9 1314.7 1120.7 1312.8C1120.5 1310.9 1118.4 1307.4 1117 1305C1115.6 1302.6 1113.4 1299.8 1110.6 1296C1107.8 1292.2 1100.6 1283.4 1096.7 1278.1C1092.8 1272.8 1086.5 1263.6 1082.9 1258.3C1079.3 1253 1074.3 1245.1 1071 1240.4C1067.7 1235.7 1062.9 1228.9 1059 1224.5C1055.1 1220.1 1047.4 1213.4 1043.2 1208.7C1039 1204 1033.2 1196.4 1029.3 1190.8C1025.4 1185.2 1019 1175.1 1015.4 1169C1011.8 1162.9 1007.5 1153.2 1003.5 1147.1C999.5 1141 990.6 1130.2 987 1125.3C983.4 1120.4 980 1115.2 977.8 1112C975.6 1108.8 973.4 1105.8 971.4 1102.2C969.4 1098.6 966.2 1091.2 963.5 1086.3C960.8 1081.4 955.7 1072.6 952.4 1067.3C949.1 1062 943.3 1053.4 939.7 1048.3C936.1 1043.2 930.1 1035.5 927 1030.8C923.9 1026.1 920 1020 917.5 1014.9C915 1009.8 912 999.9 909.5 994.3C907 988.7 902.5 979.9 900 975.2C897.5 970.5 894.2 964.5 891.6 960.5C889 956.5 884.2 949.1 881.7 946.7C879.2 944.3 875.9 943.4 873.7 943.7C871.5 944 867.6 946.1 865.8 948.7C864 951.3 861.4 958.3 860.8 962.5C860.2 966.7 860.8 973.4 861.8 978.4C862.8 983.4 865.9 992.7 867.8 998.3C869.7 1003.9 873.6 1012.3 875.7 1018.1C877.8 1023.9 882.2 1036.4 883 1040C883.8 1043.6 882.1 1043.6 881.5 1044C880.9 1044.4 879.8 1044 878.7 1042.9C877.6 1041.8 875.8 1039.5 873.7 1036C871.6 1032.5 866.4 1022.8 863.8 1018.1C861.2 1013.4 857.1 1007.2 854.9 1002.2C852.7 997.2 849.1 988 847.9 982.4C846.7 976.8 845.7 967.8 846 962.5C846.3 957.2 850.3 943.9 849.9 944.7C849.5 945.5 845.3 961.6 843 968C840.7 974.4 837.9 983.9 833.8 990.3C829.7 996.7 820.4 1008.2 814 1014C807.6 1019.8 796 1028.1 788.2 1032C780.4 1035.9 765.3 1040 758.4 1041.9C751.5 1043.8 739.8 1045 738.9 1045.6Z"/>
</clipPath>
<g clip-path="url(#chclip)">
<path d="M1087 1301.8L1086.8 1301.8L1086.7 1301.7L1086.5 1301.7L1086.3 1301.6L1086.1 1301.6L1085.9 1301.5L1085.7 1301.5L1085.5 1301.4L1085.2 1301.4L1085 1301.3L1084.7 1301.3L1084.4 1301.2L1084.1 1301.1L1083.8 1301L1083.4 1300.9L1083.1 1300.8L1082.7 1300.7L1082.2 1300.6L1081.8 1300.4L1081.3 1300.3L1080.7 1300.1L1080.2 1299.9L1079.5 1299.7L1078.9 1299.5L1078.2 1299.3L1077.5 1299L1076.7 1298.8L1075.9 1298.5L1075 1298.2L1074.1 1297.9L1073.2 1297.6L1072.2 1297.3L1071.2 1297L1070.2 1296.6L1069.2 1296.3L1068.1 1295.9L1067 1295.5L1066 1295.2L1064.9 1294.8L1063.8 1294.4L1062.7 1294L1061.6 1293.6L1060.5 1293.2L1059.4 1292.7L1058.3 1292.3L1057.2 1291.9L1056.1 1291.4L1055.1 1291L1054.1 1290.5L1053 1290.1L1052 1289.6L1050.9 1289.1L1049.8 1288.7L1048.7 1288.2L1047.7 1287.6L1046.6 1287.1L1045.5 1286.6L1044.4 1286.1L1043.3 1285.6L1042.2 1285L1041.1 1284.5L1040 1283.9L1038.9 1283.4L1037.8 1282.8L1036.7 1282.2L1035.7 1281.6L1034.6 1281.1L1033.5 1280.5L1032.4 1279.9L1031.4 1279.3L1030.3 1278.7L1029.3 1278.1L1028.3 1277.5L1027.2 1276.9L1026.2 1276.3L1025.2 1275.7L1024.2 1275.1L1023.2 1274.4L1022.2 1273.8L1021.1 1273.2L1020.1 1272.5L1019.1 1271.9L1018.1 1271.2L1017.1 1270.6L1016.2 1269.9L1015.2 1269.3L1014.2 1268.6L1013.2 1267.9L1012.2 1267.2L1011.3 1266.5L1010.3 1265.8L1009.3 1265.1L1008.4 1264.4L1007.4 1263.7L1006.5 1262.9L1005.5 1262.2L1004.6 1261.5L1003.6 1260.7L1002.7 1260L1001.8 1259.3L1000.9 1258.6L1000 1257.9L999.1 1257.2L998.2 1256.5L997.4 1255.8L996.5 1255L995.6 1254.3L994.7 1253.5L993.9 1252.8L993 1252L992.1 1251.2L991.2 1250.3L990.3 1249.5L989.4 1248.6L988.5 1247.6L987.5 1246.7L986.6 1245.7L985.7 1244.6L984.7 1243.5L983.7 1242.4L982.7 1241.2L981.7 1240L980.6 1238.7L979.6 1237.3L978.5 1235.9L977.4 1234.5L976.3 1233L975.1 1231.5L974 1230L972.9 1228.4L971.8 1226.8L970.6 1225.3L969.5 1223.7L968.4 1222.1L967.3 1220.4L966.1 1218.8L965 1217.3L963.9 1215.7L962.9 1214.1L961.8 1212.6L960.8 1211.1L959.8 1209.6L958.8 1208.1L957.8 1206.7L956.9 1205.3L955.9 1203.9L955 1202.6L954.1 1201.2L953.3 1199.9L952.4 1198.5L951.6 1197.2L950.7 1195.9L949.9 1194.6L949.1 1193.2L948.3 1191.9L947.5 1190.6L946.7 1189.4L945.9 1188.1L945.1 1186.8L944.3 1185.5L943.5 1184.3L942.7 1183L941.9 1181.8L941.1 1180.5L940.3 1179.3L939.5 1178.1L938.7 1176.8L937.9 1175.6L937.1 1174.4L936.2 1173.2L935.4 1172L934.6 1170.8L933.8 1169.6L932.9 1168.4L932.1 1167.2L931.3 1166L930.5 1164.9L929.6 1163.7L928.8 1162.6L928 1161.4L927.2 1160.3L926.3 1159.1L925.5 1158L924.7 1156.9L923.9 1155.7L923 1154.6L922.2 1153.5L921.4 1152.4L920.6 1151.3L919.7 1150.1L918.9 1149L918.1 1147.9L917.3 1146.8L916.5 1145.7L915.6 1144.6L914.8 1143.5L914 1142.4L913.2 1141.3L912.3 1140.2L911.5 1139.1L910.7 1138L909.9 1137L909 1135.9L908.2 1134.8L907.4 1133.8L906.6 1132.7L905.7 1131.6L904.9 1130.6L904.1 1129.5L903.3 1128.4L902.4 1127.4L901.6 1126.3L900.8 1125.2L900 1124.1L899.1 1123.1L898.3 1122L897.5 1120.9L896.6 1119.9L895.8 1118.8L895 1117.7L894.2 1116.6L893.3 1115.6L892.5 1114.5L891.7 1113.4L890.8 1112.4L890 1111.3L889.2 1110.2L888.3 1109.1L887.5 1108.1L886.7 1107L885.9 1105.9L885 1104.9L884.2 1103.8L883.4 1102.7L882.5 1101.7L881.7 1100.6L880.9 1099.5L880.1 1098.4L879.2 1097.4L878.4 1096.3L877.6 1095.2L876.7 1094.2L875.9 1093.1L875.1 1092L874.3 1090.9L873.4 1089.9L872.6 1088.8L871.8 1087.7L871 1086.6L870.1 1085.6L869.3 1084.5L868.5 1083.4L867.7 1082.3L866.9 1081.3L866 1080.2L865.2 1079.1L864.4 1078L863.6 1077L862.7 1075.9L861.9 1074.8L861.1 1073.7L860.3 1072.7L859.4 1071.6L858.6 1070.5L857.8 1069.4L856.9 1068.3L856.1 1067.2L855.3 1066.2L854.5 1065.1L853.6 1064L852.8 1062.9L852 1061.8L851.1 1060.7L850.3 1059.6L849.5 1058.5L848.6 1057.4L847.8 1056.3L847 1055.2L846.2 1054.1L845.3 1053L844.5 1051.9L843.7 1050.9L842.8 1049.8L842 1048.8L841.2 1047.7L840.4 1046.7L839.5 1045.7L838.7 1044.7L837.9 1043.7L837 1042.7L836.2 1041.7L835.4 1040.7L834.6 1039.7L833.7 1038.8L832.9 1037.8L832.1 1036.8L831.3 1035.8L830.4 1034.9L829.6 1033.9L828.8 1033L828 1032.1L827.2 1031.2L826.3 1030.2L825.5 1029.4L824.7 1028.5L823.9 1027.6L823 1026.8L822.2 1025.9L821.4 1025.1L820.6 1024.3L819.7 1023.6L818.9 1022.8L818.1 1022.1L817.2 1021.3L816.4 1020.6L815.6 1019.9L814.8 1019.3L813.9 1018.6L813.1 1017.9L812.3 1017.3L811.4 1016.7L810.6 1016.1L809.8 1015.5L809 1014.9L808.1 1014.3L807.3 1013.8L806.5 1013.2L805.6 1012.7L804.8 1012.2L804 1011.7L803.1 1011.2L802.3 1010.7L801.5 1010.3L800.7 1009.8L799.8 1009.4L799 1009L798.2 1008.6L797.3 1008.2L796.5 1007.9L795.7 1007.5L794.9 1007.2L794 1006.9L793.2 1006.6L792.4 1006.3L791.6 1006L790.7 1005.8L789.9 1005.5L789.1 1005.3L788.3 1005.1L787.4 1004.9L786.6 1004.7L785.8 1004.5L785 1004.3L784.1 1004.2L783.3 1004L782.5 1003.9L781.7 1003.7L780.8 1003.6L780 1003.5L779.2 1003.4L778.4 1003.3L777.6 1003.2L776.7 1003.1L775.9 1003.1L775.1 1003L774.3 1003L773.4 1002.9L772.6 1002.9L771.8 1002.9L771 1002.9L770.1 1002.9L769.3 1002.9L768.5 1002.9L767.7 1003L766.8 1003L766 1003.1L765.2 1003.2L764.4 1003.3L763.5 1003.4L762.7 1003.5L761.9 1003.6L761.1 1003.7L760.2 1003.8L759.4 1004L758.6 1004.2L757.7 1004.3L756.9 1004.5L756 1004.7L755.2 1005L754.3 1005.2L753.4 1005.4L752.6 1005.7L751.7 1005.9L750.8 1006.2L749.9 1006.5L749.1 1006.8L748.2 1007.1L747.4 1007.4L746.5 1007.7L745.7 1008.1L744.9 1008.4L744.1 1008.8L743.3 1009.1L742.5 1009.5L741.7 1009.9L740.9 1010.2L740.2 1010.6L739.5 1011L738.8 1011.4L738.1 1011.8L737.4 1012.2L736.8 1012.7L736.1 1013.1L735.4 1013.6L734.8 1014L734.2 1014.5L733.5 1015L732.9 1015.5L732.3 1016L731.7 1016.5L731.2 1017L730.6 1017.5L730 1018L729.5 1018.5L729 1019.1L728.4 1019.6L727.9 1020.1L727.4 1020.7L727 1021.2L726.5 1021.7L726 1022.3L725.6 1022.8L725.2 1023.3L724.8 1023.9L724.4 1024.4L724 1025L723.7 1025.5L723.3 1026.1L723 1026.7L722.7 1027.2L722.4 1027.8L722.1 1028.4L721.8 1028.9L721.6 1029.5L721.3 1030.1L721.1 1030.7L720.8 1031.3L720.6 1031.9L720.3 1032.5L720.1 1033.1L719.9 1033.7L719.6 1034.3L719.4 1034.9L719.2 1035.5L718.9 1036.1L718.7 1036.7L718.5 1037.3L718.2 1038L718 1038.7L717.7 1039.3L717.5 1040.1L717.3 1040.8L717 1041.5L716.8 1042.3L716.6 1043L716.3 1043.8L716.1 1044.5L715.9 1045.2L715.7 1045.9L715.5 1046.6L715.3 1047.3L715.1 1048L715 1048.6L714.8 1049.2L714.6 1049.8L714.5 1050.3L714.3 1050.8L714.2 1051.3L714.1 1051.7L714 1052" fill="none" stroke="#78a8e2" stroke-width="10.4" stroke-linecap="butt" stroke-linejoin="round"/>
<path d="M1087 1301.8L1086.8 1301.8L1086.7 1301.7L1086.5 1301.7L1086.3 1301.6L1086.1 1301.6L1085.9 1301.5L1085.7 1301.5L1085.5 1301.4L1085.2 1301.4L1085 1301.3L1084.7 1301.3L1084.4 1301.2L1084.1 1301.1L1083.8 1301L1083.4 1300.9L1083.1 1300.8L1082.7 1300.7L1082.2 1300.6L1081.8 1300.4L1081.3 1300.3L1080.7 1300.1L1080.2 1299.9L1079.5 1299.7L1078.9 1299.5L1078.2 1299.3L1077.5 1299L1076.7 1298.8L1075.9 1298.5L1075 1298.2L1074.1 1297.9L1073.2 1297.6L1072.2 1297.3L1071.2 1297L1070.2 1296.6L1069.2 1296.3L1068.1 1295.9L1067 1295.5L1066 1295.2L1064.9 1294.8L1063.8 1294.4L1062.7 1294L1061.6 1293.6L1060.5 1293.2L1059.4 1292.7L1058.3 1292.3L1057.2 1291.9L1056.1 1291.4L1055.1 1291L1054.1 1290.5L1053 1290.1L1052 1289.6L1050.9 1289.1L1049.8 1288.7L1048.7 1288.2L1047.7 1287.6L1046.6 1287.1L1045.5 1286.6L1044.4 1286.1L1043.3 1285.6L1042.2 1285L1041.1 1284.5L1040 1283.9L1038.9 1283.4L1037.8 1282.8L1036.7 1282.2L1035.7 1281.6L1034.6 1281.1L1033.5 1280.5L1032.4 1279.9L1031.4 1279.3L1030.3 1278.7L1029.3 1278.1L1028.3 1277.5L1027.2 1276.9L1026.2 1276.3L1025.2 1275.7L1024.2 1275.1L1023.2 1274.4L1022.2 1273.8L1021.1 1273.2L1020.1 1272.5L1019.1 1271.9L1018.1 1271.2L1017.1 1270.6L1016.2 1269.9L1015.2 1269.3L1014.2 1268.6L1013.2 1267.9L1012.2 1267.2L1011.3 1266.5L1010.3 1265.8L1009.3 1265.1L1008.4 1264.4L1007.4 1263.7L1006.5 1262.9L1005.5 1262.2L1004.6 1261.5L1003.6 1260.7L1002.7 1260L1001.8 1259.3L1000.9 1258.6L1000 1257.9L999.1 1257.2L998.2 1256.5L997.4 1255.8L996.5 1255L995.6 1254.3L994.7 1253.5L993.9 1252.8L993 1252L992.1 1251.2L991.2 1250.3L990.3 1249.5L989.4 1248.6L988.5 1247.6L987.5 1246.7L986.6 1245.7L985.7 1244.6L984.7 1243.5L983.7 1242.4L982.7 1241.2L981.7 1240L980.6 1238.7L979.6 1237.3L978.5 1235.9L977.4 1234.5L976.3 1233L975.1 1231.5L974 1230L972.9 1228.4L971.8 1226.8L970.6 1225.3L969.5 1223.7L968.4 1222.1L967.3 1220.4L966.1 1218.8L965 1217.3L963.9 1215.7L962.9 1214.1L961.8 1212.6L960.8 1211.1L959.8 1209.6L958.8 1208.1L957.8 1206.7L956.9 1205.3L955.9 1203.9L955 1202.6L954.1 1201.2L953.3 1199.9L952.4 1198.5L951.6 1197.2L950.7 1195.9L949.9 1194.6L949.1 1193.2L948.3 1191.9L947.5 1190.6L946.7 1189.4L945.9 1188.1L945.1 1186.8L944.3 1185.5L943.5 1184.3L942.7 1183L941.9 1181.8L941.1 1180.5L940.3 1179.3L939.5 1178.1L938.7 1176.8L937.9 1175.6L937.1 1174.4L936.2 1173.2L935.4 1172L934.6 1170.8L933.8 1169.6L932.9 1168.4L932.1 1167.2L931.3 1166L930.5 1164.9L929.6 1163.7L928.8 1162.6L928 1161.4L927.2 1160.3L926.3 1159.1L925.5 1158L924.7 1156.9L923.9 1155.7L923 1154.6L922.2 1153.5L921.4 1152.4L920.6 1151.3L919.7 1150.1L918.9 1149L918.1 1147.9L917.3 1146.8L916.5 1145.7L915.6 1144.6L914.8 1143.5L914 1142.4L913.2 1141.3L912.3 1140.2L911.5 1139.1L910.7 1138L909.9 1137L909 1135.9L908.2 1134.8L907.4 1133.8L906.6 1132.7L905.7 1131.6L904.9 1130.6L904.1 1129.5L903.3 1128.4L902.4 1127.4L901.6 1126.3L900.8 1125.2L900 1124.1L899.1 1123.1L898.3 1122L897.5 1120.9L896.6 1119.9L895.8 1118.8L895 1117.7L894.2 1116.6L893.3 1115.6L892.5 1114.5L891.7 1113.4L890.8 1112.4L890 1111.3L889.2 1110.2L888.3 1109.1L887.5 1108.1L886.7 1107L885.9 1105.9L885 1104.9L884.2 1103.8L883.4 1102.7L882.5 1101.7L881.7 1100.6L880.9 1099.5L880.1 1098.4L879.2 1097.4L878.4 1096.3L877.6 1095.2L876.7 1094.2L875.9 1093.1L875.1 1092L874.3 1090.9L873.4 1089.9L872.6 1088.8L871.8 1087.7L871 1086.6L870.1 1085.6L869.3 1084.5L868.5 1083.4L867.7 1082.3L866.9 1081.3L866 1080.2L865.2 1079.1L864.4 1078L863.6 1077L862.7 1075.9L861.9 1074.8L861.1 1073.7L860.3 1072.7L859.4 1071.6L858.6 1070.5L857.8 1069.4L856.9 1068.3L856.1 1067.2L855.3 1066.2L854.5 1065.1L853.6 1064L852.8 1062.9L852 1061.8L851.1 1060.7L850.3 1059.6L849.5 1058.5L848.6 1057.4L847.8 1056.3L847 1055.2L846.2 1054.1L845.3 1053L844.5 1051.9L843.7 1050.9L842.8 1049.8L842 1048.8L841.2 1047.7L840.4 1046.7L839.5 1045.7L838.7 1044.7L837.9 1043.7L837 1042.7L836.2 1041.7L835.4 1040.7L834.6 1039.7L833.7 1038.8L832.9 1037.8L832.1 1036.8L831.3 1035.8L830.4 1034.9L829.6 1033.9L828.8 1033L828 1032.1L827.2 1031.2L826.3 1030.2L825.5 1029.4L824.7 1028.5L823.9 1027.6L823 1026.8L822.2 1025.9L821.4 1025.1L820.6 1024.3L819.7 1023.6L818.9 1022.8L818.1 1022.1L817.2 1021.3L816.4 1020.6L815.6 1019.9L814.8 1019.3L813.9 1018.6L813.1 1017.9L812.3 1017.3L811.4 1016.7L810.6 1016.1L809.8 1015.5L809 1014.9L808.1 1014.3L807.3 1013.8L806.5 1013.2L805.6 1012.7L804.8 1012.2L804 1011.7L803.1 1011.2L802.3 1010.7L801.5 1010.3L800.7 1009.8L799.8 1009.4L799 1009L798.2 1008.6L797.3 1008.2L796.5 1007.9L795.7 1007.5L794.9 1007.2L794 1006.9L793.2 1006.6L792.4 1006.3L791.6 1006L790.7 1005.8L789.9 1005.5L789.1 1005.3L788.3 1005.1L787.4 1004.9L786.6 1004.7L785.8 1004.5L785 1004.3L784.1 1004.2L783.3 1004L782.5 1003.9L781.7 1003.7L780.8 1003.6L780 1003.5L779.2 1003.4L778.4 1003.3L777.6 1003.2L776.7 1003.1L775.9 1003.1L775.1 1003L774.3 1003L773.4 1002.9L772.6 1002.9L771.8 1002.9L771 1002.9L770.1 1002.9L769.3 1002.9L768.5 1002.9L767.7 1003L766.8 1003L766 1003.1L765.2 1003.2L764.4 1003.3L763.5 1003.4L762.7 1003.5L761.9 1003.6L761.1 1003.7L760.2 1003.8L759.4 1004L758.6 1004.2L757.7 1004.3L756.9 1004.5L756 1004.7L755.2 1005L754.3 1005.2L753.4 1005.4L752.6 1005.7L751.7 1005.9L750.8 1006.2L749.9 1006.5L749.1 1006.8L748.2 1007.1L747.4 1007.4L746.5 1007.7L745.7 1008.1L744.9 1008.4L744.1 1008.8L743.3 1009.1L742.5 1009.5L741.7 1009.9L740.9 1010.2L740.2 1010.6L739.5 1011L738.8 1011.4L738.1 1011.8L737.4 1012.2L736.8 1012.7L736.1 1013.1L735.4 1013.6L734.8 1014L734.2 1014.5L733.5 1015L732.9 1015.5L732.3 1016L731.7 1016.5L731.2 1017L730.6 1017.5L730 1018L729.5 1018.5L729 1019.1L728.4 1019.6L727.9 1020.1L727.4 1020.7L727 1021.2L726.5 1021.7L726 1022.3L725.6 1022.8L725.2 1023.3L724.8 1023.9L724.4 1024.4L724 1025L723.7 1025.5L723.3 1026.1L723 1026.7L722.7 1027.2L722.4 1027.8L722.1 1028.4L721.8 1028.9L721.6 1029.5L721.3 1030.1L721.1 1030.7L720.8 1031.3L720.6 1031.9L720.3 1032.5L720.1 1033.1L719.9 1033.7L719.6 1034.3L719.4 1034.9L719.2 1035.5L718.9 1036.1L718.7 1036.7L718.5 1037.3L718.2 1038L718 1038.7L717.7 1039.3L717.5 1040.1L717.3 1040.8L717 1041.5L716.8 1042.3L716.6 1043L716.3 1043.8L716.1 1044.5L715.9 1045.2L715.7 1045.9L715.5 1046.6L715.3 1047.3L715.1 1048L715 1048.6L714.8 1049.2L714.6 1049.8L714.5 1050.3L714.3 1050.8L714.2 1051.3L714.1 1051.7L714 1052" fill="none" stroke="#99ccff" stroke-width="9.2" stroke-linecap="butt" stroke-linejoin="round"/>
<path d="M1049 1288.3L1047.7 1287.6L1046.6 1287.1L1045.5 1286.6L1044.4 1286.1L1042.8 1285.3" fill="none" stroke="#ffffff" stroke-width="9.2"/>
<path d="M1036 1281.8L1034.6 1281.1L1033.5 1280.5L1032.4 1279.9L1031.4 1279.3L1030 1278.5" fill="none" stroke="#ffffff" stroke-width="9.2"/>
<path d="M1023.2 1274.4L1022.2 1273.8L1021.1 1273.2L1020.1 1272.5L1019.1 1271.9L1017.4 1270.8" fill="none" stroke="#ffffff" stroke-width="9.2"/>
<path d="M1010.3 1265.8L1009.3 1265.1L1008.4 1264.4L1007.4 1263.7L1006.5 1262.9L1004.9 1261.7" fill="none" stroke="#ffffff" stroke-width="9.2"/>
<circle cx="1087" cy="1301.8" r="4.9" fill="#ffffff" stroke="#78a8e2" stroke-width="0.6"/>
<path d="M1087 1301.8L1085.9 1301.5L1085.7 1301.5L1085.5 1301.4L1085.2 1301.4L1085 1301.3L1084.7 1301.3L1084.4 1301.2L1084.1 1301.1L1083.8 1301L1083.4 1300.9L1083.1 1300.8L1082.7 1300.7L1082.2 1300.6L1081.8 1300.4L1081.3 1300.3L1080.7 1300.1L1080.2 1299.9L1079.5 1299.7L1078.9 1299.5L1078.2 1299.3L1077.5 1299L1076.7 1298.8L1075.9 1298.5L1075 1298.2L1074.1 1297.9L1073.2 1297.6L1072.2 1297.3L1071.2 1297L1070.2 1296.6L1069.2 1296.3L1068.1 1295.9L1067 1295.5L1066 1295.2L1064.9 1294.8L1063.8 1294.4L1062.4 1293.9" fill="none" stroke="#78a8e2" stroke-width="10.4"/>
<path d="M1087 1301.8L1085.9 1301.5L1085.7 1301.5L1085.5 1301.4L1085.2 1301.4L1085 1301.3L1084.7 1301.3L1084.4 1301.2L1084.1 1301.1L1083.8 1301L1083.4 1300.9L1083.1 1300.8L1082.7 1300.7L1082.2 1300.6L1081.8 1300.4L1081.3 1300.3L1080.7 1300.1L1080.2 1299.9L1079.5 1299.7L1078.9 1299.5L1078.2 1299.3L1077.5 1299L1076.7 1298.8L1075.9 1298.5L1075 1298.2L1074.1 1297.9L1073.2 1297.6L1072.2 1297.3L1071.2 1297L1070.2 1296.6L1069.2 1296.3L1068.1 1295.9L1067 1295.5L1066 1295.2L1064.9 1294.8L1063.8 1294.4L1062.4 1293.9" fill="none" stroke="#ffffff" stroke-width="9.2"/>
<circle cx="1087" cy="1301.8" r="4.6" fill="#ffffff"/>
<path d="M710.5 1046L710.5 1045.4L710.5 1044.7L710.5 1044L710.5 1043.1L710.5 1042.2L710.6 1041.2L710.6 1040.1L710.6 1039L710.6 1037.9L710.6 1036.7L710.6 1035.5L710.6 1034.2L710.6 1033L710.7 1031.7L710.7 1030.5L710.7 1029.2L710.7 1027.9L710.8 1026.7L710.8 1025.5L710.8 1024.3L710.9 1023.1L710.9 1022L711 1021L711 1020L711.1 1019.1L711.1 1018.1L711.2 1017.2L711.2 1016.4L711.3 1015.5L711.4 1014.7L711.4 1013.9L711.5 1013.1L711.6 1012.3L711.7 1011.5L711.8 1010.7L711.8 1009.9L711.9 1009.2L712 1008.4L712.1 1007.6L712.2 1006.8L712.3 1006L712.4 1005.2L712.5 1004.4L712.6 1003.6L712.7 1002.7L712.8 1001.8L712.9 1000.9L713 1000L713.1 999.1L713.2 998.1L713.3 997.1L713.4 996.1L713.5 995.1L713.6 994.1L713.8 993L713.9 992L714 990.9L714.1 989.9L714.2 988.8L714.3 987.8L714.5 986.7L714.6 985.6L714.7 984.5L714.9 983.4L715 982.4L715.1 981.3L715.3 980.2L715.4 979.2L715.5 978.1L715.7 977.1L715.8 976L716 975L716.2 974L716.3 973L716.5 972L716.6 971L716.8 970.1L716.9 969.1L717.1 968.2L717.2 967.2L717.4 966.3L717.6 965.3L717.7 964.4L717.9 963.4L718.1 962.5L718.3 961.5L718.4 960.5L718.6 959.5L718.8 958.5L719.1 957.5L719.3 956.5L719.5 955.4L719.7 954.4L720 953.3L720.2 952.1L720.5 951L720.8 949.8L721.1 948.6L721.4 947.3L721.7 946.1L722 944.7L722.3 943.4L722.7 942L723 940.7L723.4 939.3L723.7 937.9L724.1 936.4L724.5 935L724.8 933.6L725.2 932.2L725.6 930.8L726 929.5L726.4 928.1L726.8 926.8L727.2 925.4L727.5 924.2L727.9 922.9L728.3 921.7L728.7 920.5L729.1 919.4L729.5 918.3L729.9 917.2L730.3 916.2L730.7 915.2L731 914.2L731.4 913.3L731.8 912.3L732.2 911.4L732.6 910.5L733 909.6L733.5 908.7L733.9 907.9L734.3 907L734.7 906.2L735.1 905.3L735.5 904.5L735.9 903.7L736.4 902.9L736.8 902.1L737.2 901.3L737.7 900.5L738.1 899.6L738.6 898.8L739 898L739.4 897.2L739.9 896.4L740.3 895.6L740.7 894.9L741.2 894.2L741.6 893.4L742 892.7L742.5 892L742.9 891.3L743.3 890.6L743.8 890L744.2 889.3L744.7 888.6L745.1 887.8L745.6 887.1L746.1 886.4L746.6 885.6L747.1 884.9L747.6 884.1L748.2 883.3L748.8 882.4L749.4 881.6L750 880.6L750.6 879.7L751.3 878.7L752 877.7L752.7 876.6L753.4 875.5L754.2 874.4L755 873.2L755.8 872L756.6 870.8L757.5 869.6L758.3 868.3L759.2 867.1L760 865.8L760.9 864.5L761.8 863.3L762.6 862L763.5 860.8L764.4 859.6L765.2 858.4L766.1 857.2L766.9 856.1L767.7 854.9L768.5 853.8L769.3 852.8L770 851.8L770.7 850.8L771.4 849.9L772.2 849L772.9 848.1L773.5 847.2L774.2 846.3L774.9 845.5L775.6 844.7L776.2 843.9L776.9 843.1L777.5 842.3L778.2 841.5L778.8 840.7L779.5 840L780.1 839.2L780.7 838.5L781.4 837.8L782 837L782.7 836.3L783.3 835.6L783.9 834.9L784.6 834.2L785.2 833.4L785.9 832.7L786.6 832L787.2 831.3L787.9 830.5L788.5 829.8L789.2 829.1L789.9 828.4L790.5 827.8L791.2 827.1L791.8 826.4L792.5 825.7L793.1 825.1L793.8 824.4L794.5 823.7L795.1 823.1L795.8 822.4L796.4 821.8L797.1 821.2L797.7 820.5L798.4 819.9L799.1 819.3L799.7 818.7L800.4 818L801 817.4L801.7 816.8L802.4 816.2L803 815.6L803.6 815L804.3 814.4L804.9 813.8L805.5 813.3L806.1 812.7L806.8 812.1L807.4 811.6L808 811L808.6 810.5L809.2 809.9L809.9 809.4L810.5 808.8L811.2 808.3L811.8 807.7L812.5 807.2L813.2 806.6L813.9 806.1L814.6 805.5L815.3 805L816.1 804.4L816.8 803.9L817.6 803.3L818.4 802.7L819.2 802.2L820.1 801.6L820.9 801L821.8 800.4L822.7 799.9L823.6 799.3L824.5 798.7L825.5 798.1L826.4 797.6L827.3 797L828.3 796.4L829.3 795.8L830.2 795.3L831.2 794.7L832.2 794.1L833.1 793.6L834.1 793L835.1 792.5L836 791.9L837 791.4L837.9 790.8L838.9 790.3L839.8 789.8L840.7 789.3L841.7 788.8L842.6 788.3L843.6 787.8L844.5 787.3L845.5 786.8L846.4 786.3L847.4 785.8L848.4 785.3L849.3 784.9L850.3 784.4L851.3 783.9L852.2 783.5L853.2 783L854.1 782.6L855 782.1L856 781.7L856.9 781.2L857.8 780.8L858.7 780.4L859.6 779.9L860.4 779.5L861.3 779.1L862.1 778.7L862.9 778.3L863.7 777.9L864.5 777.5L865.2 777.1L866 776.7L866.7 776.4L867.4 776L868.1 775.6L868.8 775.3L869.5 774.9L870.2 774.6L870.9 774.2L871.6 773.9L872.3 773.5L872.9 773.2L873.6 772.9L874.3 772.5L875 772.2L875.7 771.9L876.4 771.6L877.2 771.2L877.9 770.9L878.6 770.6L879.4 770.3L880.2 770L881 769.7L881.8 769.4L882.6 769.1L883.4 768.8L884.2 768.5L885.1 768.3L885.9 768L886.8 767.7L887.6 767.5L888.5 767.2L889.3 766.9L890.2 766.7L891 766.4L891.9 766.1L892.7 765.9L893.5 765.6L894.4 765.4L895.2 765.1L896 764.8L896.8 764.5L897.6 764.3L898.4 764L899.2 763.7L900 763.4L900.7 763.1L901.5 762.8L902.3 762.5L903 762.3L903.8 762L904.5 761.7L905.3 761.4L906 761.1L906.8 760.8L907.5 760.5L908.2 760.2L908.9 759.9L909.6 759.6L910.4 759.3L911.1 759L911.8 758.7L912.4 758.4L913.1 758.1L913.8 757.7L914.5 757.4L915.1 757.1L915.8 756.7L916.4 756.4L917 756L917.7 755.7L918.3 755.3L918.9 754.9L919.5 754.5L920.1 754.2L920.7 753.8L921.3 753.3L921.9 752.9L922.4 752.5L923 752.1L923.6 751.7L924.1 751.3L924.7 750.9L925.2 750.5L925.7 750.1L926.3 749.7L926.8 749.3L927.3 748.9L927.7 748.5L928.2 748.1L928.7 747.8L929.2 747.4L929.6 747.1L930 746.8L930.5 746.4L930.9 746.1L931.3 745.8L931.7 745.4L932.2 745.1L932.6 744.8L932.9 744.5L933.3 744.1L933.7 743.8L934.1 743.5L934.4 743.2L934.8 742.9L935.1 742.6L935.4 742.4L935.7 742.1L936 741.9L936.3 741.6L936.5 741.4L936.8 741.2L937 741L937.2 740.8L937.4 740.6L937.6 740.5" fill="none" stroke="#78a8e2" stroke-width="7.6" stroke-linecap="butt" stroke-linejoin="round"/>
<path d="M710.5 1046L710.5 1045.4L710.5 1044.7L710.5 1044L710.5 1043.1L710.5 1042.2L710.6 1041.2L710.6 1040.1L710.6 1039L710.6 1037.9L710.6 1036.7L710.6 1035.5L710.6 1034.2L710.6 1033L710.7 1031.7L710.7 1030.5L710.7 1029.2L710.7 1027.9L710.8 1026.7L710.8 1025.5L710.8 1024.3L710.9 1023.1L710.9 1022L711 1021L711 1020L711.1 1019.1L711.1 1018.1L711.2 1017.2L711.2 1016.4L711.3 1015.5L711.4 1014.7L711.4 1013.9L711.5 1013.1L711.6 1012.3L711.7 1011.5L711.8 1010.7L711.8 1009.9L711.9 1009.2L712 1008.4L712.1 1007.6L712.2 1006.8L712.3 1006L712.4 1005.2L712.5 1004.4L712.6 1003.6L712.7 1002.7L712.8 1001.8L712.9 1000.9L713 1000L713.1 999.1L713.2 998.1L713.3 997.1L713.4 996.1L713.5 995.1L713.6 994.1L713.8 993L713.9 992L714 990.9L714.1 989.9L714.2 988.8L714.3 987.8L714.5 986.7L714.6 985.6L714.7 984.5L714.9 983.4L715 982.4L715.1 981.3L715.3 980.2L715.4 979.2L715.5 978.1L715.7 977.1L715.8 976L716 975L716.2 974L716.3 973L716.5 972L716.6 971L716.8 970.1L716.9 969.1L717.1 968.2L717.2 967.2L717.4 966.3L717.6 965.3L717.7 964.4L717.9 963.4L718.1 962.5L718.3 961.5L718.4 960.5L718.6 959.5L718.8 958.5L719.1 957.5L719.3 956.5L719.5 955.4L719.7 954.4L720 953.3L720.2 952.1L720.5 951L720.8 949.8L721.1 948.6L721.4 947.3L721.7 946.1L722 944.7L722.3 943.4L722.7 942L723 940.7L723.4 939.3L723.7 937.9L724.1 936.4L724.5 935L724.8 933.6L725.2 932.2L725.6 930.8L726 929.5L726.4 928.1L726.8 926.8L727.2 925.4L727.5 924.2L727.9 922.9L728.3 921.7L728.7 920.5L729.1 919.4L729.5 918.3L729.9 917.2L730.3 916.2L730.7 915.2L731 914.2L731.4 913.3L731.8 912.3L732.2 911.4L732.6 910.5L733 909.6L733.5 908.7L733.9 907.9L734.3 907L734.7 906.2L735.1 905.3L735.5 904.5L735.9 903.7L736.4 902.9L736.8 902.1L737.2 901.3L737.7 900.5L738.1 899.6L738.6 898.8L739 898L739.4 897.2L739.9 896.4L740.3 895.6L740.7 894.9L741.2 894.2L741.6 893.4L742 892.7L742.5 892L742.9 891.3L743.3 890.6L743.8 890L744.2 889.3L744.7 888.6L745.1 887.8L745.6 887.1L746.1 886.4L746.6 885.6L747.1 884.9L747.6 884.1L748.2 883.3L748.8 882.4L749.4 881.6L750 880.6L750.6 879.7L751.3 878.7L752 877.7L752.7 876.6L753.4 875.5L754.2 874.4L755 873.2L755.8 872L756.6 870.8L757.5 869.6L758.3 868.3L759.2 867.1L760 865.8L760.9 864.5L761.8 863.3L762.6 862L763.5 860.8L764.4 859.6L765.2 858.4L766.1 857.2L766.9 856.1L767.7 854.9L768.5 853.8L769.3 852.8L770 851.8L770.7 850.8L771.4 849.9L772.2 849L772.9 848.1L773.5 847.2L774.2 846.3L774.9 845.5L775.6 844.7L776.2 843.9L776.9 843.1L777.5 842.3L778.2 841.5L778.8 840.7L779.5 840L780.1 839.2L780.7 838.5L781.4 837.8L782 837L782.7 836.3L783.3 835.6L783.9 834.9L784.6 834.2L785.2 833.4L785.9 832.7L786.6 832L787.2 831.3L787.9 830.5L788.5 829.8L789.2 829.1L789.9 828.4L790.5 827.8L791.2 827.1L791.8 826.4L792.5 825.7L793.1 825.1L793.8 824.4L794.5 823.7L795.1 823.1L795.8 822.4L796.4 821.8L797.1 821.2L797.7 820.5L798.4 819.9L799.1 819.3L799.7 818.7L800.4 818L801 817.4L801.7 816.8L802.4 816.2L803 815.6L803.6 815L804.3 814.4L804.9 813.8L805.5 813.3L806.1 812.7L806.8 812.1L807.4 811.6L808 811L808.6 810.5L809.2 809.9L809.9 809.4L810.5 808.8L811.2 808.3L811.8 807.7L812.5 807.2L813.2 806.6L813.9 806.1L814.6 805.5L815.3 805L816.1 804.4L816.8 803.9L817.6 803.3L818.4 802.7L819.2 802.2L820.1 801.6L820.9 801L821.8 800.4L822.7 799.9L823.6 799.3L824.5 798.7L825.5 798.1L826.4 797.6L827.3 797L828.3 796.4L829.3 795.8L830.2 795.3L831.2 794.7L832.2 794.1L833.1 793.6L834.1 793L835.1 792.5L836 791.9L837 791.4L837.9 790.8L838.9 790.3L839.8 789.8L840.7 789.3L841.7 788.8L842.6 788.3L843.6 787.8L844.5 787.3L845.5 786.8L846.4 786.3L847.4 785.8L848.4 785.3L849.3 784.9L850.3 784.4L851.3 783.9L852.2 783.5L853.2 783L854.1 782.6L855 782.1L856 781.7L856.9 781.2L857.8 780.8L858.7 780.4L859.6 779.9L860.4 779.5L861.3 779.1L862.1 778.7L862.9 778.3L863.7 777.9L864.5 777.5L865.2 777.1L866 776.7L866.7 776.4L867.4 776L868.1 775.6L868.8 775.3L869.5 774.9L870.2 774.6L870.9 774.2L871.6 773.9L872.3 773.5L872.9 773.2L873.6 772.9L874.3 772.5L875 772.2L875.7 771.9L876.4 771.6L877.2 771.2L877.9 770.9L878.6 770.6L879.4 770.3L880.2 770L881 769.7L881.8 769.4L882.6 769.1L883.4 768.8L884.2 768.5L885.1 768.3L885.9 768L886.8 767.7L887.6 767.5L888.5 767.2L889.3 766.9L890.2 766.7L891 766.4L891.9 766.1L892.7 765.9L893.5 765.6L894.4 765.4L895.2 765.1L896 764.8L896.8 764.5L897.6 764.3L898.4 764L899.2 763.7L900 763.4L900.7 763.1L901.5 762.8L902.3 762.5L903 762.3L903.8 762L904.5 761.7L905.3 761.4L906 761.1L906.8 760.8L907.5 760.5L908.2 760.2L908.9 759.9L909.6 759.6L910.4 759.3L911.1 759L911.8 758.7L912.4 758.4L913.1 758.1L913.8 757.7L914.5 757.4L915.1 757.1L915.8 756.7L916.4 756.4L917 756L917.7 755.7L918.3 755.3L918.9 754.9L919.5 754.5L920.1 754.2L920.7 753.8L921.3 753.3L921.9 752.9L922.4 752.5L923 752.1L923.6 751.7L924.1 751.3L924.7 750.9L925.2 750.5L925.7 750.1L926.3 749.7L926.8 749.3L927.3 748.9L927.7 748.5L928.2 748.1L928.7 747.8L929.2 747.4L929.6 747.1L930 746.8L930.5 746.4L930.9 746.1L931.3 745.8L931.7 745.4L932.2 745.1L932.6 744.8L932.9 744.5L933.3 744.1L933.7 743.8L934.1 743.5L934.4 743.2L934.8 742.9L935.1 742.6L935.4 742.4L935.7 742.1L936 741.9L936.3 741.6L936.5 741.4L936.8 741.2L937 741L937.2 740.8L937.4 740.6L937.6 740.5" fill="none" stroke="#99ccff" stroke-width="6.4" stroke-linecap="butt" stroke-linejoin="round"/>
</g>
<g fill="none" stroke-width="2.4">
<circle cx="1015.1" cy="778.4" r="34.9" stroke="#f2a352" opacity="0.75"/>
<circle cx="1015.1" cy="778.4" r="27" stroke="#ffc13c" opacity="0.95"/>
<circle cx="1015.1" cy="778.4" r="19.8" stroke="#ffd62a" opacity="1"/>
<circle cx="1015.1" cy="778.4" r="12.3" stroke="#ffe81a" opacity="1"/>
</g>
<g clip-path="url(#chclip)">
<path d="M1016.8 778.5L1016.4 778.5L1016 778.5L1015.6 778.6L1015.1 778.6L1014.6 778.6L1014 778.6L1013.5 778.7L1012.9 778.7L1012.2 778.7L1011.6 778.7L1010.9 778.8L1010.2 778.8L1009.4 778.8L1008.6 778.9L1007.9 778.9L1007.1 778.9L1006.2 779L1005.4 779L1004.5 779.1L1003.6 779.1L1002.8 779.2L1001.8 779.2L1000.9 779.3L1000 779.3L999 779.3L998.1 779.4L997 779.5L996 779.5L994.9 779.6L993.8 779.6L992.6 779.7L991.4 779.7L990.3 779.8L989.1 779.8L987.8 779.9L986.6 779.9L985.4 780L984.1 780.1L982.9 780.1L981.6 780.2L980.4 780.3L979.2 780.4L977.9 780.4L976.7 780.5L975.5 780.6L974.3 780.7L973.1 780.8L972 780.9L970.9 781L969.7 781.1L968.6 781.2L967.5 781.3L966.4 781.5L965.3 781.6L964.2 781.7L963.1 781.8L962 782L960.9 782.1L959.8 782.2L958.7 782.4L957.6 782.5L956.5 782.6L955.4 782.8L954.3 782.9L953.2 783.1L952.1 783.2L951 783.4L949.9 783.6L948.8 783.7L947.7 783.9L946.6 784L945.5 784.2L944.4 784.4L943.3 784.5L942.2 784.7L941.1 784.9L940 785L938.9 785.2L937.8 785.4L936.7 785.5L935.6 785.7L934.5 785.9L933.3 786L932.2 786.2L931.1 786.4L930 786.6L928.9 786.8L927.8 787L926.7 787.2L925.6 787.4L924.5 787.6L923.4 787.8L922.3 788.1L921.2 788.3L920.1 788.5L919 788.8L917.9 789.1L916.8 789.3L915.7 789.6L914.6 789.9L913.5 790.1L912.4 790.4L911.3 790.7L910.2 791L909.1 791.3L908 791.6L906.9 791.9L905.8 792.3L904.7 792.6L903.6 792.9L902.5 793.2L901.4 793.6L900.3 793.9L899.2 794.3L898.1 794.6L897 795L895.9 795.4L894.8 795.7L893.7 796.1L892.6 796.5L891.5 796.9L890.4 797.3L889.3 797.7L888.1 798.1L887 798.6L885.9 799L884.7 799.4L883.6 799.9L882.4 800.3L881.3 800.8L880.2 801.3L879 801.7L877.9 802.2L876.8 802.7L875.7 803.2L874.5 803.6L873.4 804.1L872.3 804.6L871.3 805L870.2 805.5L869.1 806L868.1 806.4L867 806.9L866 807.3L865 807.7L864 808.2L863 808.6L862.1 809L861.2 809.4L860.2 809.9L859.3 810.3L858.4 810.7L857.5 811.1L856.6 811.5L855.8 811.9L854.9 812.3L854 812.7L853.1 813.2L852.2 813.6L851.3 814L850.4 814.4L849.5 814.9L848.6 815.3L847.7 815.8L846.7 816.2L845.8 816.7L844.8 817.1L843.8 817.6L842.8 818.1L841.7 818.6L840.6 819.1L839.5 819.6L838.4 820.1L837.3 820.6L836.1 821.1L835 821.7L833.8 822.2L832.6 822.7L831.5 823.3L830.3 823.8L829.1 824.3L828 824.9L826.8 825.4L825.7 826L824.6 826.5L823.5 827.1L822.5 827.6L821.4 828.2L820.4 828.7L819.4 829.2L818.5 829.8L817.6 830.3L816.7 830.8L815.9 831.3L815.1 831.9L814.4 832.4L813.6 832.9L812.9 833.4L812.2 833.9L811.5 834.4L810.9 834.9L810.2 835.4L809.6 835.9L809 836.4L808.4 836.9L807.8 837.4L807.2 837.9L806.6 838.5L806 839L805.4 839.5L804.8 840.1L804.2 840.7L803.6 841.2L803 841.8L802.4 842.4L801.7 843L801 843.6L800.4 844.2L799.7 844.9L799.1 845.5L798.4 846.1L797.7 846.8L797.1 847.5L796.4 848.1L795.8 848.8L795.1 849.5L794.5 850.2L793.8 850.8L793.1 851.5L792.5 852.2L791.8 853L791.2 853.7L790.5 854.4L789.9 855.1L789.2 855.9L788.5 856.6L787.9 857.4L787.2 858.2L786.6 858.9L785.9 859.7L785.2 860.5L784.6 861.3L783.9 862.1L783.2 863L782.6 863.8L781.9 864.7L781.2 865.5L780.6 866.4L779.9 867.3L779.2 868.2L778.6 869.1L777.9 870L777.2 870.9L776.6 871.8L775.9 872.7L775.2 873.6L774.6 874.5L773.9 875.4L773.3 876.2L772.6 877.1L771.9 878L771.3 878.8L770.6 879.7L770 880.5L769.4 881.3L768.7 882.1L768.1 882.9L767.4 883.7L766.8 884.5L766.1 885.2L765.4 886L764.8 886.8L764.1 887.5L763.5 888.3L762.8 889L762.2 889.8L761.6 890.5L760.9 891.3L760.3 892L759.7 892.8L759.1 893.5L758.5 894.3L757.9 895.1L757.3 895.8L756.7 896.6L756.1 897.4L755.6 898.2L755 899L754.5 899.8L753.9 900.6L753.4 901.4L752.9 902.2L752.4 902.9L751.9 903.7L751.4 904.5L750.9 905.2L750.4 906L750 906.8L749.5 907.6L749 908.4L748.6 909.2L748.1 910L747.7 910.8L747.3 911.7L746.8 912.6L746.4 913.5L745.9 914.4L745.5 915.3L745.1 916.3L744.7 917.3L744.2 918.3L743.8 919.4L743.4 920.5L742.9 921.7L742.5 922.9L742.1 924.1L741.7 925.4L741.2 926.7L740.8 928L740.4 929.4L740 930.8L739.5 932.2L739.1 933.6L738.7 935L738.3 936.4L737.9 937.8L737.6 939.2L737.2 940.6L736.8 942L736.4 943.4L736.1 944.7L735.8 946L735.4 947.3L735.1 948.6L734.8 949.8L734.5 951L734.2 952.1L734 953.3L733.7 954.4L733.5 955.4L733.2 956.5L733 957.5L732.8 958.5L732.6 959.5L732.4 960.5L732.2 961.5L732 962.5L731.8 963.4L731.7 964.4L731.5 965.3L731.4 966.3L731.2 967.2L731 968.2L730.9 969.1L730.7 970.1L730.6 971L730.4 972L730.3 973L730.2 974L730 975L729.8 976L729.7 977.1L729.6 978.1L729.4 979.2L729.3 980.2L729.2 981.3L729 982.4L728.9 983.4L728.8 984.5L728.7 985.6L728.5 986.7L728.4 987.8L728.3 988.8L728.2 989.9L728.1 990.9L728 992L727.9 993L727.8 994.1L727.7 995.1L727.6 996.1L727.5 997.1L727.4 998.1L727.3 999.1L727.2 1000L727.1 1000.9L727 1001.8L726.9 1002.7L726.8 1003.6L726.8 1004.4L726.7 1005.2L726.6 1006L726.5 1006.8L726.4 1007.6L726.4 1008.4L726.3 1009.2L726.2 1009.9L726.1 1010.7L726.1 1011.5L726 1012.3L725.9 1013.1L725.9 1013.9L725.8 1014.7L725.8 1015.5L725.7 1016.4L725.6 1017.2L725.6 1018.1L725.5 1019.1L725.5 1020L725.5 1021L725.4 1022L725.4 1023.1L725.3 1024.3L725.3 1025.5L725.3 1026.7L725.3 1027.9L725.2 1029.2L725.2 1030.5L725.2 1031.7L725.2 1033L725.1 1034.2L725.1 1035.5L725.1 1036.7L725.1 1037.9L725.1 1039L725.1 1040.1L725.1 1041.2L725.1 1042.2L725 1043.1L725 1044L725 1044.7L725 1045.4L725 1046" fill="none" stroke="#78a8e2" stroke-width="10.4" stroke-linecap="butt" stroke-linejoin="round"/>
<path d="M1016.8 778.5L1016.4 778.5L1016 778.5L1015.6 778.6L1015.1 778.6L1014.6 778.6L1014 778.6L1013.5 778.7L1012.9 778.7L1012.2 778.7L1011.6 778.7L1010.9 778.8L1010.2 778.8L1009.4 778.8L1008.6 778.9L1007.9 778.9L1007.1 778.9L1006.2 779L1005.4 779L1004.5 779.1L1003.6 779.1L1002.8 779.2L1001.8 779.2L1000.9 779.3L1000 779.3L999 779.3L998.1 779.4L997 779.5L996 779.5L994.9 779.6L993.8 779.6L992.6 779.7L991.4 779.7L990.3 779.8L989.1 779.8L987.8 779.9L986.6 779.9L985.4 780L984.1 780.1L982.9 780.1L981.6 780.2L980.4 780.3L979.2 780.4L977.9 780.4L976.7 780.5L975.5 780.6L974.3 780.7L973.1 780.8L972 780.9L970.9 781L969.7 781.1L968.6 781.2L967.5 781.3L966.4 781.5L965.3 781.6L964.2 781.7L963.1 781.8L962 782L960.9 782.1L959.8 782.2L958.7 782.4L957.6 782.5L956.5 782.6L955.4 782.8L954.3 782.9L953.2 783.1L952.1 783.2L951 783.4L949.9 783.6L948.8 783.7L947.7 783.9L946.6 784L945.5 784.2L944.4 784.4L943.3 784.5L942.2 784.7L941.1 784.9L940 785L938.9 785.2L937.8 785.4L936.7 785.5L935.6 785.7L934.5 785.9L933.3 786L932.2 786.2L931.1 786.4L930 786.6L928.9 786.8L927.8 787L926.7 787.2L925.6 787.4L924.5 787.6L923.4 787.8L922.3 788.1L921.2 788.3L920.1 788.5L919 788.8L917.9 789.1L916.8 789.3L915.7 789.6L914.6 789.9L913.5 790.1L912.4 790.4L911.3 790.7L910.2 791L909.1 791.3L908 791.6L906.9 791.9L905.8 792.3L904.7 792.6L903.6 792.9L902.5 793.2L901.4 793.6L900.3 793.9L899.2 794.3L898.1 794.6L897 795L895.9 795.4L894.8 795.7L893.7 796.1L892.6 796.5L891.5 796.9L890.4 797.3L889.3 797.7L888.1 798.1L887 798.6L885.9 799L884.7 799.4L883.6 799.9L882.4 800.3L881.3 800.8L880.2 801.3L879 801.7L877.9 802.2L876.8 802.7L875.7 803.2L874.5 803.6L873.4 804.1L872.3 804.6L871.3 805L870.2 805.5L869.1 806L868.1 806.4L867 806.9L866 807.3L865 807.7L864 808.2L863 808.6L862.1 809L861.2 809.4L860.2 809.9L859.3 810.3L858.4 810.7L857.5 811.1L856.6 811.5L855.8 811.9L854.9 812.3L854 812.7L853.1 813.2L852.2 813.6L851.3 814L850.4 814.4L849.5 814.9L848.6 815.3L847.7 815.8L846.7 816.2L845.8 816.7L844.8 817.1L843.8 817.6L842.8 818.1L841.7 818.6L840.6 819.1L839.5 819.6L838.4 820.1L837.3 820.6L836.1 821.1L835 821.7L833.8 822.2L832.6 822.7L831.5 823.3L830.3 823.8L829.1 824.3L828 824.9L826.8 825.4L825.7 826L824.6 826.5L823.5 827.1L822.5 827.6L821.4 828.2L820.4 828.7L819.4 829.2L818.5 829.8L817.6 830.3L816.7 830.8L815.9 831.3L815.1 831.9L814.4 832.4L813.6 832.9L812.9 833.4L812.2 833.9L811.5 834.4L810.9 834.9L810.2 835.4L809.6 835.9L809 836.4L808.4 836.9L807.8 837.4L807.2 837.9L806.6 838.5L806 839L805.4 839.5L804.8 840.1L804.2 840.7L803.6 841.2L803 841.8L802.4 842.4L801.7 843L801 843.6L800.4 844.2L799.7 844.9L799.1 845.5L798.4 846.1L797.7 846.8L797.1 847.5L796.4 848.1L795.8 848.8L795.1 849.5L794.5 850.2L793.8 850.8L793.1 851.5L792.5 852.2L791.8 853L791.2 853.7L790.5 854.4L789.9 855.1L789.2 855.9L788.5 856.6L787.9 857.4L787.2 858.2L786.6 858.9L785.9 859.7L785.2 860.5L784.6 861.3L783.9 862.1L783.2 863L782.6 863.8L781.9 864.7L781.2 865.5L780.6 866.4L779.9 867.3L779.2 868.2L778.6 869.1L777.9 870L777.2 870.9L776.6 871.8L775.9 872.7L775.2 873.6L774.6 874.5L773.9 875.4L773.3 876.2L772.6 877.1L771.9 878L771.3 878.8L770.6 879.7L770 880.5L769.4 881.3L768.7 882.1L768.1 882.9L767.4 883.7L766.8 884.5L766.1 885.2L765.4 886L764.8 886.8L764.1 887.5L763.5 888.3L762.8 889L762.2 889.8L761.6 890.5L760.9 891.3L760.3 892L759.7 892.8L759.1 893.5L758.5 894.3L757.9 895.1L757.3 895.8L756.7 896.6L756.1 897.4L755.6 898.2L755 899L754.5 899.8L753.9 900.6L753.4 901.4L752.9 902.2L752.4 902.9L751.9 903.7L751.4 904.5L750.9 905.2L750.4 906L750 906.8L749.5 907.6L749 908.4L748.6 909.2L748.1 910L747.7 910.8L747.3 911.7L746.8 912.6L746.4 913.5L745.9 914.4L745.5 915.3L745.1 916.3L744.7 917.3L744.2 918.3L743.8 919.4L743.4 920.5L742.9 921.7L742.5 922.9L742.1 924.1L741.7 925.4L741.2 926.7L740.8 928L740.4 929.4L740 930.8L739.5 932.2L739.1 933.6L738.7 935L738.3 936.4L737.9 937.8L737.6 939.2L737.2 940.6L736.8 942L736.4 943.4L736.1 944.7L735.8 946L735.4 947.3L735.1 948.6L734.8 949.8L734.5 951L734.2 952.1L734 953.3L733.7 954.4L733.5 955.4L733.2 956.5L733 957.5L732.8 958.5L732.6 959.5L732.4 960.5L732.2 961.5L732 962.5L731.8 963.4L731.7 964.4L731.5 965.3L731.4 966.3L731.2 967.2L731 968.2L730.9 969.1L730.7 970.1L730.6 971L730.4 972L730.3 973L730.2 974L730 975L729.8 976L729.7 977.1L729.6 978.1L729.4 979.2L729.3 980.2L729.2 981.3L729 982.4L728.9 983.4L728.8 984.5L728.7 985.6L728.5 986.7L728.4 987.8L728.3 988.8L728.2 989.9L728.1 990.9L728 992L727.9 993L727.8 994.1L727.7 995.1L727.6 996.1L727.5 997.1L727.4 998.1L727.3 999.1L727.2 1000L727.1 1000.9L727 1001.8L726.9 1002.7L726.8 1003.6L726.8 1004.4L726.7 1005.2L726.6 1006L726.5 1006.8L726.4 1007.6L726.4 1008.4L726.3 1009.2L726.2 1009.9L726.1 1010.7L726.1 1011.5L726 1012.3L725.9 1013.1L725.9 1013.9L725.8 1014.7L725.8 1015.5L725.7 1016.4L725.6 1017.2L725.6 1018.1L725.5 1019.1L725.5 1020L725.5 1021L725.4 1022L725.4 1023.1L725.3 1024.3L725.3 1025.5L725.3 1026.7L725.3 1027.9L725.2 1029.2L725.2 1030.5L725.2 1031.7L725.2 1033L725.1 1034.2L725.1 1035.5L725.1 1036.7L725.1 1037.9L725.1 1039L725.1 1040.1L725.1 1041.2L725.1 1042.2L725 1043.1L725 1044L725 1044.7L725 1045.4L725 1046" fill="none" stroke="#99ccff" stroke-width="9.2" stroke-linecap="butt" stroke-linejoin="round"/>
<path d="M980.2 780.3L979.2 780.4L977.9 780.4L976.7 780.5L975.5 780.6L973.8 780.7" fill="none" stroke="#ffffff" stroke-width="9.2"/>
<path d="M966.7 781.4L965.3 781.6L964.2 781.7L963.1 781.8L962 782L960.9 782.1L959.5 782.3" fill="none" stroke="#ffffff" stroke-width="9.2"/>
<path d="M951.5 783.3L949.9 783.6L948.8 783.7L947.7 783.9L946.6 784L945.5 784.2L944.5 784.3" fill="none" stroke="#ffffff" stroke-width="9.2"/>
<path d="M938.5 785.2L936.7 785.5L935.6 785.7L934.5 785.9L933.3 786L932 786.3" fill="none" stroke="#ffffff" stroke-width="9.2"/>
<circle cx="1016.8" cy="778.5" r="4.9" fill="#ffffff" stroke="#78a8e2" stroke-width="0.6"/>
<path d="M1016.8 778.5L1015.6 778.6L1015.1 778.6L1014.6 778.6L1014 778.6L1013.5 778.7L1012.9 778.7L1012.2 778.7L1011.6 778.7L1010.9 778.8L1010.2 778.8L1009.4 778.8L1008.6 778.9L1007.9 778.9L1007.1 778.9L1006.2 779L1005.4 779L1004.5 779.1L1003.6 779.1L1002.8 779.2L1001.8 779.2L1000.9 779.3L1000 779.3L999 779.3L998.1 779.4L997 779.5L996 779.5L994 779.6" fill="none" stroke="#78a8e2" stroke-width="10.4"/>
<path d="M1016.8 778.5L1015.6 778.6L1015.1 778.6L1014.6 778.6L1014 778.6L1013.5 778.7L1012.9 778.7L1012.2 778.7L1011.6 778.7L1010.9 778.8L1010.2 778.8L1009.4 778.8L1008.6 778.9L1007.9 778.9L1007.1 778.9L1006.2 779L1005.4 779L1004.5 779.1L1003.6 779.1L1002.8 779.2L1001.8 779.2L1000.9 779.3L1000 779.3L999 779.3L998.1 779.4L997 779.5L996 779.5L994 779.6" fill="none" stroke="#ffffff" stroke-width="9.2"/>
<circle cx="1016.8" cy="778.5" r="4.6" fill="#ffffff"/>
<path d="M839.7 903.3L839.6 903.3L839.5 903.3L839.4 903.3L839.3 903.3L839.2 903.3L839.1 903.3L839 903.3L838.9 903.3L838.8 903.3L838.7 903.2L838.6 903.2L838.4 903.2L838.3 903.2L838.1 903.2L837.9 903.2L837.7 903.2L837.4 903.1L837.2 903.1L836.9 903.1L836.6 903L836.2 903L835.8 902.9L835.4 902.9L835 902.8L834.5 902.7L834 902.7L833.5 902.6L832.9 902.5L832.3 902.4L831.7 902.3L831 902.2L830.3 902.2L829.6 902.1L828.9 902L828.1 901.8L827.4 901.7L826.6 901.6L825.8 901.5L825.1 901.4L824.3 901.2L823.5 901.1L822.7 901L821.9 900.8L821 900.7L820.3 900.5L819.5 900.3L818.7 900.2L817.9 900L817.1 899.8L816.3 899.6L815.6 899.4L814.8 899.2L814 899L813.1 898.8L812.3 898.6L811.5 898.4L810.7 898.1L809.8 897.9L809 897.7L808.2 897.4L807.3 897.2L806.5 896.9L805.6 896.7L804.8 896.4L804 896.1L803.1 895.9L802.3 895.6L801.4 895.3L800.6 895L799.8 894.7L798.9 894.4L798.1 894.1L797.3 893.8L796.5 893.5L795.6 893.2L794.8 892.8L794 892.5L793.2 892.2L792.3 891.8L791.5 891.5L790.7 891.2L789.9 890.8L789 890.5L788.2 890.1L787.4 889.7L786.6 889.3L785.7 889L784.9 888.6L784.1 888.2L783.3 887.8L782.4 887.4L781.6 886.9L780.8 886.5L780 886.1L779.1 885.6L778.3 885.2L777.5 884.7L776.6 884.3L775.8 883.8L774.9 883.3L774.1 882.7L773.2 882.2L772.3 881.7L771.5 881.1L770.6 880.6L769.7 880L768.8 879.4L768 878.9L767.1 878.3L766.3 877.7L765.4 877.2L764.6 876.6L763.8 876L763 875.5L762.2 874.9L761.4 874.4L760.6 873.8L759.8 873.3L759.1 872.8L758.4 872.3L757.7 871.8L757 871.3L756.4 870.9L755.8 870.4L755.1 870L754.5 869.5L754 869.1L753.4 868.7L752.8 868.2L752.3 867.8L751.7 867.4L751.2 867L750.7 866.6L750.1 866.1L749.6 865.7L749.1 865.3L748.5 864.8L748 864.3L747.4 863.9L746.9 863.4L746.3 862.9L745.7 862.4L745.1 861.8L744.5 861.3L743.9 860.7L743.2 860.2L742.6 859.6L741.9 859L741.3 858.4L740.6 857.8L739.9 857.2L739.3 856.6L738.6 856L737.9 855.4L737.2 854.7L736.5 854.1L735.9 853.4L735.2 852.8L734.5 852.1L733.8 851.4L733.1 850.7L732.5 850L731.8 849.3L731.2 848.5L730.5 847.8L729.9 847L729.2 846.3L728.6 845.5L728 844.7L727.4 843.9L726.7 843.1L726.1 842.2L725.5 841.4L724.9 840.5L724.3 839.6L723.7 838.8L723.1 837.9L722.5 836.9L721.9 836L721.3 835.1L720.8 834.2L720.2 833.2L719.6 832.3L719 831.3L718.5 830.4L717.9 829.4L717.4 828.5L716.9 827.5L716.3 826.6L715.8 825.6L715.3 824.7L714.8 823.7L714.3 822.7L713.8 821.8L713.3 820.8L712.9 819.8L712.4 818.8L711.9 817.8L711.5 816.8L711 815.7L710.6 814.7L710.2 813.7L709.7 812.7L709.3 811.6L708.9 810.6L708.5 809.6L708.1 808.6L707.7 807.5L707.3 806.5L706.9 805.5L706.6 804.5L706.2 803.6L705.8 802.6L705.5 801.7L705.1 800.7L704.8 799.8L704.5 798.9L704.2 798L703.8 797L703.5 796.1L703.2 795.2L702.9 794.3L702.7 793.3L702.4 792.4L702.1 791.5L701.9 790.6L701.6 789.7L701.3 788.9L701.1 788L700.9 787.2L700.6 786.3L700.4 785.5L700.2 784.7L700 784L699.8 783.2L699.6 782.5L699.4 781.8L699.2 781.2L699.1 780.6L698.9 780L698.7 779.5L698.6 779L698.5 778.6L698.4 778.2L698.3 777.8L698.2 777.5L698.1 777.3L698.1 777L698 776.8L697.9 776.6L697.9 776.4L697.8 776.2L697.8 776L697.7 775.8L697.7 775.6L697.6 775.4L697.6 775.2L697.5 775L697.4 774.7L697.4 774.4L697.3 774L697.2 773.6L697 773.2L696.9 772.7L696.7 772.1L696.6 771.5L696.4 770.9L696.2 770.1L696 769.4L695.8 768.6L695.5 767.8L695.3 766.9L695.1 766L694.8 765.2L694.6 764.3L694.3 763.4L694.1 762.5L693.8 761.6L693.6 760.8L693.4 760L693.2 759.2L692.9 758.4L692.8 757.7L692.6 757L692.4 756.4L692.2 755.9L692.1 755.4L692 755" fill="none" stroke="#78a8e2" stroke-width="11.4" stroke-linecap="butt" stroke-linejoin="round"/>
<path d="M839.7 903.3L839.6 903.3L839.5 903.3L839.4 903.3L839.3 903.3L839.2 903.3L839.1 903.3L839 903.3L838.9 903.3L838.8 903.3L838.7 903.2L838.6 903.2L838.4 903.2L838.3 903.2L838.1 903.2L837.9 903.2L837.7 903.2L837.4 903.1L837.2 903.1L836.9 903.1L836.6 903L836.2 903L835.8 902.9L835.4 902.9L835 902.8L834.5 902.7L834 902.7L833.5 902.6L832.9 902.5L832.3 902.4L831.7 902.3L831 902.2L830.3 902.2L829.6 902.1L828.9 902L828.1 901.8L827.4 901.7L826.6 901.6L825.8 901.5L825.1 901.4L824.3 901.2L823.5 901.1L822.7 901L821.9 900.8L821 900.7L820.3 900.5L819.5 900.3L818.7 900.2L817.9 900L817.1 899.8L816.3 899.6L815.6 899.4L814.8 899.2L814 899L813.1 898.8L812.3 898.6L811.5 898.4L810.7 898.1L809.8 897.9L809 897.7L808.2 897.4L807.3 897.2L806.5 896.9L805.6 896.7L804.8 896.4L804 896.1L803.1 895.9L802.3 895.6L801.4 895.3L800.6 895L799.8 894.7L798.9 894.4L798.1 894.1L797.3 893.8L796.5 893.5L795.6 893.2L794.8 892.8L794 892.5L793.2 892.2L792.3 891.8L791.5 891.5L790.7 891.2L789.9 890.8L789 890.5L788.2 890.1L787.4 889.7L786.6 889.3L785.7 889L784.9 888.6L784.1 888.2L783.3 887.8L782.4 887.4L781.6 886.9L780.8 886.5L780 886.1L779.1 885.6L778.3 885.2L777.5 884.7L776.6 884.3L775.8 883.8L774.9 883.3L774.1 882.7L773.2 882.2L772.3 881.7L771.5 881.1L770.6 880.6L769.7 880L768.8 879.4L768 878.9L767.1 878.3L766.3 877.7L765.4 877.2L764.6 876.6L763.8 876L763 875.5L762.2 874.9L761.4 874.4L760.6 873.8L759.8 873.3L759.1 872.8L758.4 872.3L757.7 871.8L757 871.3L756.4 870.9L755.8 870.4L755.1 870L754.5 869.5L754 869.1L753.4 868.7L752.8 868.2L752.3 867.8L751.7 867.4L751.2 867L750.7 866.6L750.1 866.1L749.6 865.7L749.1 865.3L748.5 864.8L748 864.3L747.4 863.9L746.9 863.4L746.3 862.9L745.7 862.4L745.1 861.8L744.5 861.3L743.9 860.7L743.2 860.2L742.6 859.6L741.9 859L741.3 858.4L740.6 857.8L739.9 857.2L739.3 856.6L738.6 856L737.9 855.4L737.2 854.7L736.5 854.1L735.9 853.4L735.2 852.8L734.5 852.1L733.8 851.4L733.1 850.7L732.5 850L731.8 849.3L731.2 848.5L730.5 847.8L729.9 847L729.2 846.3L728.6 845.5L728 844.7L727.4 843.9L726.7 843.1L726.1 842.2L725.5 841.4L724.9 840.5L724.3 839.6L723.7 838.8L723.1 837.9L722.5 836.9L721.9 836L721.3 835.1L720.8 834.2L720.2 833.2L719.6 832.3L719 831.3L718.5 830.4L717.9 829.4L717.4 828.5L716.9 827.5L716.3 826.6L715.8 825.6L715.3 824.7L714.8 823.7L714.3 822.7L713.8 821.8L713.3 820.8L712.9 819.8L712.4 818.8L711.9 817.8L711.5 816.8L711 815.7L710.6 814.7L710.2 813.7L709.7 812.7L709.3 811.6L708.9 810.6L708.5 809.6L708.1 808.6L707.7 807.5L707.3 806.5L706.9 805.5L706.6 804.5L706.2 803.6L705.8 802.6L705.5 801.7L705.1 800.7L704.8 799.8L704.5 798.9L704.2 798L703.8 797L703.5 796.1L703.2 795.2L702.9 794.3L702.7 793.3L702.4 792.4L702.1 791.5L701.9 790.6L701.6 789.7L701.3 788.9L701.1 788L700.9 787.2L700.6 786.3L700.4 785.5L700.2 784.7L700 784L699.8 783.2L699.6 782.5L699.4 781.8L699.2 781.2L699.1 780.6L698.9 780L698.7 779.5L698.6 779L698.5 778.6L698.4 778.2L698.3 777.8L698.2 777.5L698.1 777.3L698.1 777L698 776.8L697.9 776.6L697.9 776.4L697.8 776.2L697.8 776L697.7 775.8L697.7 775.6L697.6 775.4L697.6 775.2L697.5 775L697.4 774.7L697.4 774.4L697.3 774L697.2 773.6L697 773.2L696.9 772.7L696.7 772.1L696.6 771.5L696.4 770.9L696.2 770.1L696 769.4L695.8 768.6L695.5 767.8L695.3 766.9L695.1 766L694.8 765.2L694.6 764.3L694.3 763.4L694.1 762.5L693.8 761.6L693.6 760.8L693.4 760L693.2 759.2L692.9 758.4L692.8 757.7L692.6 757L692.4 756.4L692.2 755.9L692.1 755.4L692 755" fill="none" stroke="#99ccff" stroke-width="10.2" stroke-linecap="butt" stroke-linejoin="round"/>
<path d="M795.7 893.2L794 892.5L793.2 892.2L792.3 891.8L791.5 891.5L790.7 891.2L789.6 890.7" fill="none" stroke="#ffffff" stroke-width="10.2"/>
<path d="M782.4 887.4L780.8 886.5L780 886.1L779.1 885.6L778.3 885.2L776.6 884.3" fill="none" stroke="#ffffff" stroke-width="10.2"/>
<path d="M769.6 879.9L768 878.9L767.1 878.3L766.3 877.7L765.4 877.2L764.1 876.2" fill="none" stroke="#ffffff" stroke-width="10.2"/>
<path d="M757.6 871.7L756.4 870.9L755.8 870.4L755.1 870L754.5 869.5L754 869.1L753.4 868.7L752.3 867.8" fill="none" stroke="#ffffff" stroke-width="10.2"/>
<circle cx="839.7" cy="903.3" r="5.4" fill="#ffffff" stroke="#78a8e2" stroke-width="0.6"/>
<path d="M839.7 903.3L838.6 903.2L838.4 903.2L838.3 903.2L838.1 903.2L837.9 903.2L837.7 903.2L837.4 903.1L837.2 903.1L836.9 903.1L836.6 903L836.2 903L835.8 902.9L835.4 902.9L835 902.8L834.5 902.7L834 902.7L833.5 902.6L832.9 902.5L832.3 902.4L831.7 902.3L831 902.2L830.3 902.2L829.6 902.1L828.9 902L828.1 901.8L827.4 901.7L826.6 901.6L825.8 901.5L825.1 901.4L824.3 901.2L823.5 901.1L822.7 901L821.9 900.8L821 900.7L820.3 900.5L819.5 900.3L818.7 900.2L817.9 900L817.1 899.8L816.3 899.6L815.6 899.4L814.8 899.2L814 899L812.5 898.6" fill="none" stroke="#78a8e2" stroke-width="11.4"/>
<path d="M839.7 903.3L838.6 903.2L838.4 903.2L838.3 903.2L838.1 903.2L837.9 903.2L837.7 903.2L837.4 903.1L837.2 903.1L836.9 903.1L836.6 903L836.2 903L835.8 902.9L835.4 902.9L835 902.8L834.5 902.7L834 902.7L833.5 902.6L832.9 902.5L832.3 902.4L831.7 902.3L831 902.2L830.3 902.2L829.6 902.1L828.9 902L828.1 901.8L827.4 901.7L826.6 901.6L825.8 901.5L825.1 901.4L824.3 901.2L823.5 901.1L822.7 901L821.9 900.8L821 900.7L820.3 900.5L819.5 900.3L818.7 900.2L817.9 900L817.1 899.8L816.3 899.6L815.6 899.4L814.8 899.2L814 899L812.5 898.6" fill="none" stroke="#ffffff" stroke-width="10.2"/>
<circle cx="839.7" cy="903.3" r="5.1" fill="#ffffff"/>
<path d="M937.6 740.5L937.7 740.3L937.9 740.1L938 739.9L938.2 739.7L938.4 739.4L938.6 739.1L938.8 738.9L939 738.6L939.2 738.2L939.4 737.9L939.7 737.6L939.9 737.2L940.2 736.9L940.4 736.5L940.7 736.1L940.9 735.7L941.2 735.3L941.5 735L941.7 734.6L942 734.2L942.2 733.8L942.4 733.4L942.7 733L942.9 732.6L943.1 732.2L943.3 731.8L943.6 731.4L943.8 731L944 730.6L944.2 730.1L944.4 729.7L944.7 729.3L944.9 728.8L945.1 728.4L945.3 727.9L945.6 727.5L945.8 727L946 726.6L946.2 726.1L946.4 725.6L946.7 725.2L946.9 724.7L947.1 724.3L947.3 723.8L947.5 723.3L947.8 722.9L948 722.4L948.2 722L948.4 721.6L948.6 721.1L948.8 720.7L949 720.2L949.2 719.8L949.4 719.3L949.6 718.9L949.8 718.5L950 718L950.2 717.6L950.4 717.1L950.6 716.7L950.8 716.3L951 715.8L951.2 715.4L951.5 714.9L951.7 714.5L951.9 714L952.1 713.6L952.4 713.2L952.6 712.7L952.9 712.3L953.1 711.8L953.4 711.4L953.7 711L954 710.5L954.2 710.1L954.5 709.6L954.8 709.1L955.1 708.7L955.5 708.2L955.8 707.8L956.1 707.3L956.4 706.8L956.7 706.4L957.1 705.9L957.4 705.5L957.7 705L958.1 704.6L958.4 704.1L958.8 703.7L959.2 703.3L959.5 702.8L959.9 702.4L960.3 702L960.6 701.6L961 701.3L961.4 700.9L961.8 700.5L962.2 700.2L962.6 699.9L963 699.5L963.4 699.2L963.8 698.9L964.2 698.6L964.6 698.3L965.1 698L965.5 697.7L965.9 697.4L966.4 697.1L966.8 696.8L967.3 696.6L967.7 696.3L968.2 696L968.6 695.8L969.1 695.5L969.6 695.3L970.1 695.1L970.5 694.8L971 694.6L971.5 694.4L972 694.2L972.5 694L973 693.8L973.5 693.6L974 693.4L974.6 693.2L975.1 693L975.6 692.8L976.1 692.7L976.7 692.5L977.2 692.3L977.8 692.2L978.3 692L978.9 691.9L979.5 691.7L980 691.6L980.6 691.5L981.2 691.4L981.7 691.3L982.3 691.2L982.9 691.1L983.5 691L984 691L984.6 690.9L985.2 690.9L985.8 690.9L986.4 690.9L987 690.9L987.6 690.9L988.2 690.9L988.9 690.9L989.5 690.9L990.1 690.9L990.8 691L991.4 691L992 691.1L992.7 691.2L993.3 691.3L994 691.4L994.6 691.5L995.2 691.6L995.8 691.7L996.5 691.8L997.1 692L997.7 692.2L998.3 692.3L998.9 692.5L999.4 692.7L1000 692.9L1000.6 693.1L1001.1 693.3L1001.7 693.6L1002.2 693.9L1002.8 694.1L1003.3 694.4L1003.8 694.7L1004.4 695L1004.9 695.3L1005.4 695.6L1005.9 696L1006.5 696.3L1007 696.7L1007.5 697L1008 697.4L1008.4 697.8L1008.9 698.2L1009.4 698.6L1009.8 699L1010.3 699.4L1010.7 699.8L1011.2 700.2L1011.6 700.6L1012 701L1012.4 701.4L1012.8 701.9L1013.2 702.3L1013.6 702.8L1014 703.2L1014.3 703.7L1014.7 704.2L1015.1 704.7L1015.4 705.2L1015.7 705.7L1016.1 706.2L1016.4 706.7L1016.7 707.2L1017 707.7L1017.3 708.3L1017.6 708.8L1017.9 709.3L1018.2 709.8L1018.4 710.4L1018.6 710.9L1018.9 711.4L1019.1 712L1019.3 712.5L1019.5 713L1019.7 713.5L1019.9 714.1L1020 714.6L1020.2 715.1L1020.3 715.7L1020.4 716.2L1020.6 716.8L1020.7 717.3L1020.8 717.9L1020.8 718.4L1020.9 719L1021 719.5L1021 720.1L1021.1 720.6L1021.1 721.2L1021.2 721.7L1021.2 722.3L1021.2 722.8L1021.2 723.3L1021.2 723.9L1021.1 724.4L1021.1 725L1021.1 725.5L1021 726L1020.9 726.5L1020.9 727L1020.8 727.6L1020.7 728.1L1020.6 728.6L1020.4 729.1L1020.3 729.7L1020.2 730.2L1020 730.7L1019.8 731.2L1019.7 731.7L1019.5 732.2L1019.3 732.7L1019.1 733.2L1018.9 733.7L1018.7 734.2L1018.5 734.7L1018.2 735.2L1018 735.7L1017.7 736.1L1017.5 736.6L1017.2 737L1017 737.5L1016.7 737.9L1016.4 738.3L1016.1 738.7L1015.8 739.2L1015.5 739.6L1015.2 740L1014.9 740.4L1014.6 740.8L1014.2 741.1L1013.9 741.5L1013.6 741.9L1013.2 742.3L1012.8 742.6L1012.5 743L1012.1 743.3L1011.7 743.7L1011.3 744L1010.9 744.4L1010.5 744.7L1010.1 745L1009.7 745.3L1009.3 745.6L1008.9 745.9L1008.4 746.2L1008 746.5L1007.6 746.8L1007.1 747.1L1006.7 747.3L1006.2 747.6L1005.7 747.9L1005.2 748.1L1004.7 748.4L1004.2 748.6L1003.7 748.9L1003.2 749.1L1002.7 749.3L1002.2 749.5L1001.7 749.7L1001.2 750L1000.6 750.1L1000.1 750.3L999.6 750.5L999.1 750.7L998.6 750.8L998 751L997.5 751.1L997 751.3L996.5 751.4L996 751.5L995.5 751.6L995 751.7L994.5 751.8L994 751.8L993.5 751.9L993 752L992.5 752L992 752.1L991.5 752.1L991 752.1L990.5 752.1L990 752.1L989.5 752.1L989 752.1L988.5 752.1L988 752.1L987.5 752L987 752L986.5 751.9L986 751.8L985.5 751.8L985 751.7L984.5 751.6L984 751.5L983.5 751.4L983 751.3L982.5 751.1L982 751L981.4 750.9L980.9 750.7L980.4 750.5L979.9 750.4L979.3 750.2L978.8 750L978.3 749.8L977.8 749.6L977.3 749.3L976.8 749.1L976.2 748.9L975.7 748.6L975.2 748.4L974.8 748.1L974.3 747.9L973.8 747.6L973.3 747.4L972.9 747.1L972.4 746.8L972 746.5L971.6 746.2L971.2 745.9L970.7 745.6L970.3 745.3L969.9 744.9L969.5 744.6L969.1 744.2L968.7 743.9L968.3 743.5L968 743.2L967.6 742.8L967.2 742.4L966.9 742L966.5 741.6L966.2 741.2L965.8 740.8L965.5 740.4L965.2 740L964.9 739.6L964.6 739.2L964.3 738.8L964 738.4L963.8 737.9L963.5 737.5L963.3 737.1L963 736.6L962.8 736.2L962.6 735.7L962.3 735.3L962.1 734.8L961.9 734.3L961.7 733.9L961.6 733.4L961.4 732.9L961.2 732.4L961.1 731.9L960.9 731.4L960.8 731L960.7 730.5L960.5 730L960.4 729.5L960.3 729L960.3 728.5L960.2 728L960.1 727.5L960.1 727L960 726.5L960 726L960 725.5L960 725L960 724.5L960 724L960.1 723.4L960.1 722.9L960.2 722.4L960.3 721.9L960.3 721.3L960.4 720.8L960.5 720.2L960.7 719.7L960.8 719.2L960.9 718.7L961 718.2L961.2 717.6L961.3 717.1L961.5 716.7L961.6 716.2L961.8 715.7L962 715.3L962.2 714.8L962.3 714.4L962.5 714L962.7 713.6L962.9 713.2L963.1 712.9L963.3 712.5L963.5 712.2L963.7 711.8L964 711.5L964.2 711.2L964.4 710.9L964.7 710.6L964.9 710.3L965.2 710L965.5 709.7L965.7 709.4L966 709.1L966.3 708.9L966.5 708.6L966.8 708.4L967.1 708.1L967.4 707.9L967.7 707.7L967.9 707.4L968.2 707.2L968.5 707L968.8 706.8L969.1 706.6L969.4 706.4L969.7 706.2L970.1 706L970.4 705.8L970.8 705.6L971.1 705.4L971.5 705.3L971.9 705.1L972.2 705L972.6 704.8L972.9 704.7L973.3 704.5L973.6 704.4L973.9 704.3L974.2 704.2L974.5 704L974.8 703.9L975.1 703.8L975.3 703.7L975.5 703.7L975.7 703.6L975.9 703.5" fill="none" stroke="#a3a9bd" stroke-width="8.6" stroke-linecap="round" stroke-linejoin="round"/>
<path d="M937.6 740.5L937.7 740.3L937.9 740.1L938 739.9L938.2 739.7L938.4 739.4L938.6 739.1L938.8 738.9L939 738.6L939.2 738.2L939.4 737.9L939.7 737.6L939.9 737.2L940.2 736.9L940.4 736.5L940.7 736.1L940.9 735.7L941.2 735.3L941.5 735L941.7 734.6L942 734.2L942.2 733.8L942.4 733.4L942.7 733L942.9 732.6L943.1 732.2L943.3 731.8L943.6 731.4L943.8 731L944 730.6L944.2 730.1L944.4 729.7L944.7 729.3L944.9 728.8L945.1 728.4L945.3 727.9L945.6 727.5L945.8 727L946 726.6L946.2 726.1L946.4 725.6L946.7 725.2L946.9 724.7L947.1 724.3L947.3 723.8L947.5 723.3L947.8 722.9L948 722.4L948.2 722L948.4 721.6L948.6 721.1L948.8 720.7L949 720.2L949.2 719.8L949.4 719.3L949.6 718.9L949.8 718.5L950 718L950.2 717.6L950.4 717.1L950.6 716.7L950.8 716.3L951 715.8L951.2 715.4L951.5 714.9L951.7 714.5L951.9 714L952.1 713.6L952.4 713.2L952.6 712.7L952.9 712.3L953.1 711.8L953.4 711.4L953.7 711L954 710.5L954.2 710.1L954.5 709.6L954.8 709.1L955.1 708.7L955.5 708.2L955.8 707.8L956.1 707.3L956.4 706.8L956.7 706.4L957.1 705.9L957.4 705.5L957.7 705L958.1 704.6L958.4 704.1L958.8 703.7L959.2 703.3L959.5 702.8L959.9 702.4L960.3 702L960.6 701.6L961 701.3L961.4 700.9L961.8 700.5L962.2 700.2L962.6 699.9L963 699.5L963.4 699.2L963.8 698.9L964.2 698.6L964.6 698.3L965.1 698L965.5 697.7L965.9 697.4L966.4 697.1L966.8 696.8L967.3 696.6L967.7 696.3L968.2 696L968.6 695.8L969.1 695.5L969.6 695.3L970.1 695.1L970.5 694.8L971 694.6L971.5 694.4L972 694.2L972.5 694L973 693.8L973.5 693.6L974 693.4L974.6 693.2L975.1 693L975.6 692.8L976.1 692.7L976.7 692.5L977.2 692.3L977.8 692.2L978.3 692L978.9 691.9L979.5 691.7L980 691.6L980.6 691.5L981.2 691.4L981.7 691.3L982.3 691.2L982.9 691.1L983.5 691L984 691L984.6 690.9L985.2 690.9L985.8 690.9L986.4 690.9L987 690.9L987.6 690.9L988.2 690.9L988.9 690.9L989.5 690.9L990.1 690.9L990.8 691L991.4 691L992 691.1L992.7 691.2L993.3 691.3L994 691.4L994.6 691.5L995.2 691.6L995.8 691.7L996.5 691.8L997.1 692L997.7 692.2L998.3 692.3L998.9 692.5L999.4 692.7L1000 692.9L1000.6 693.1L1001.1 693.3L1001.7 693.6L1002.2 693.9L1002.8 694.1L1003.3 694.4L1003.8 694.7L1004.4 695L1004.9 695.3L1005.4 695.6L1005.9 696L1006.5 696.3L1007 696.7L1007.5 697L1008 697.4L1008.4 697.8L1008.9 698.2L1009.4 698.6L1009.8 699L1010.3 699.4L1010.7 699.8L1011.2 700.2L1011.6 700.6L1012 701L1012.4 701.4L1012.8 701.9L1013.2 702.3L1013.6 702.8L1014 703.2L1014.3 703.7L1014.7 704.2L1015.1 704.7L1015.4 705.2L1015.7 705.7L1016.1 706.2L1016.4 706.7L1016.7 707.2L1017 707.7L1017.3 708.3L1017.6 708.8L1017.9 709.3L1018.2 709.8L1018.4 710.4L1018.6 710.9L1018.9 711.4L1019.1 712L1019.3 712.5L1019.5 713L1019.7 713.5L1019.9 714.1L1020 714.6L1020.2 715.1L1020.3 715.7L1020.4 716.2L1020.6 716.8L1020.7 717.3L1020.8 717.9L1020.8 718.4L1020.9 719L1021 719.5L1021 720.1L1021.1 720.6L1021.1 721.2L1021.2 721.7L1021.2 722.3L1021.2 722.8L1021.2 723.3L1021.2 723.9L1021.1 724.4L1021.1 725L1021.1 725.5L1021 726L1020.9 726.5L1020.9 727L1020.8 727.6L1020.7 728.1L1020.6 728.6L1020.4 729.1L1020.3 729.7L1020.2 730.2L1020 730.7L1019.8 731.2L1019.7 731.7L1019.5 732.2L1019.3 732.7L1019.1 733.2L1018.9 733.7L1018.7 734.2L1018.5 734.7L1018.2 735.2L1018 735.7L1017.7 736.1L1017.5 736.6L1017.2 737L1017 737.5L1016.7 737.9L1016.4 738.3L1016.1 738.7L1015.8 739.2L1015.5 739.6L1015.2 740L1014.9 740.4L1014.6 740.8L1014.2 741.1L1013.9 741.5L1013.6 741.9L1013.2 742.3L1012.8 742.6L1012.5 743L1012.1 743.3L1011.7 743.7L1011.3 744L1010.9 744.4L1010.5 744.7L1010.1 745L1009.7 745.3L1009.3 745.6L1008.9 745.9L1008.4 746.2L1008 746.5L1007.6 746.8L1007.1 747.1L1006.7 747.3L1006.2 747.6L1005.7 747.9L1005.2 748.1L1004.7 748.4L1004.2 748.6L1003.7 748.9L1003.2 749.1L1002.7 749.3L1002.2 749.5L1001.7 749.7L1001.2 750L1000.6 750.1L1000.1 750.3L999.6 750.5L999.1 750.7L998.6 750.8L998 751L997.5 751.1L997 751.3L996.5 751.4L996 751.5L995.5 751.6L995 751.7L994.5 751.8L994 751.8L993.5 751.9L993 752L992.5 752L992 752.1L991.5 752.1L991 752.1L990.5 752.1L990 752.1L989.5 752.1L989 752.1L988.5 752.1L988 752.1L987.5 752L987 752L986.5 751.9L986 751.8L985.5 751.8L985 751.7L984.5 751.6L984 751.5L983.5 751.4L983 751.3L982.5 751.1L982 751L981.4 750.9L980.9 750.7L980.4 750.5L979.9 750.4L979.3 750.2L978.8 750L978.3 749.8L977.8 749.6L977.3 749.3L976.8 749.1L976.2 748.9L975.7 748.6L975.2 748.4L974.8 748.1L974.3 747.9L973.8 747.6L973.3 747.4L972.9 747.1L972.4 746.8L972 746.5L971.6 746.2L971.2 745.9L970.7 745.6L970.3 745.3L969.9 744.9L969.5 744.6L969.1 744.2L968.7 743.9L968.3 743.5L968 743.2L967.6 742.8L967.2 742.4L966.9 742L966.5 741.6L966.2 741.2L965.8 740.8L965.5 740.4L965.2 740L964.9 739.6L964.6 739.2L964.3 738.8L964 738.4L963.8 737.9L963.5 737.5L963.3 737.1L963 736.6L962.8 736.2L962.6 735.7L962.3 735.3L962.1 734.8L961.9 734.3L961.7 733.9L961.6 733.4L961.4 732.9L961.2 732.4L961.1 731.9L960.9 731.4L960.8 731L960.7 730.5L960.5 730L960.4 729.5L960.3 729L960.3 728.5L960.2 728L960.1 727.5L960.1 727L960 726.5L960 726L960 725.5L960 725L960 724.5L960 724L960.1 723.4L960.1 722.9L960.2 722.4L960.3 721.9L960.3 721.3L960.4 720.8L960.5 720.2L960.7 719.7L960.8 719.2L960.9 718.7L961 718.2L961.2 717.6L961.3 717.1L961.5 716.7L961.6 716.2L961.8 715.7L962 715.3L962.2 714.8L962.3 714.4L962.5 714L962.7 713.6L962.9 713.2L963.1 712.9L963.3 712.5L963.5 712.2L963.7 711.8L964 711.5L964.2 711.2L964.4 710.9L964.7 710.6L964.9 710.3L965.2 710L965.5 709.7L965.7 709.4L966 709.1L966.3 708.9L966.5 708.6L966.8 708.4L967.1 708.1L967.4 707.9L967.7 707.7L967.9 707.4L968.2 707.2L968.5 707L968.8 706.8L969.1 706.6L969.4 706.4L969.7 706.2L970.1 706L970.4 705.8L970.8 705.6L971.1 705.4L971.5 705.3L971.9 705.1L972.2 705L972.6 704.8L972.9 704.7L973.3 704.5L973.6 704.4L973.9 704.3L974.2 704.2L974.5 704L974.8 703.9L975.1 703.8L975.3 703.7L975.5 703.7L975.7 703.6L975.9 703.5" fill="none" stroke="#ffffff" stroke-width="7.5" stroke-linecap="round" stroke-linejoin="round"/>
<path d="M942.1 733.9L943 732.4" fill="none" stroke="#e3e6ee" stroke-width="7.5"/>
<path d="M950.1 717.8L950.9 716.2" fill="none" stroke="#e3e6ee" stroke-width="7.5"/>
<path d="M959.7 702.6L960.9 701.3" fill="none" stroke="#e3e6ee" stroke-width="7.5"/>
<path d="M974.8 693.1L976.5 692.5" fill="none" stroke="#e3e6ee" stroke-width="7.5"/>
<path d="M992.5 691.2L994.3 691.4" fill="none" stroke="#e3e6ee" stroke-width="7.5"/>
<path d="M1008.8 698.1L1010.2 699.3" fill="none" stroke="#e3e6ee" stroke-width="7.5"/>
<path d="M1019.3 712.5L1019.9 714.2" fill="none" stroke="#e3e6ee" stroke-width="7.5"/>
<path d="M1020.2 730.1L1019.6 731.9" fill="none" stroke="#e3e6ee" stroke-width="7.5"/>
<path d="M1010.3 744.8L1008.9 745.9" fill="none" stroke="#e3e6ee" stroke-width="7.5"/>
<path d="M993.9 751.9L992.2 752" fill="none" stroke="#e3e6ee" stroke-width="7.5"/>
<path d="M976.4 749L974.8 748.2" fill="none" stroke="#e3e6ee" stroke-width="7.5"/>
<path d="M963.3 737.1L962.5 735.5" fill="none" stroke="#e3e6ee" stroke-width="7.5"/>
</g>
</g>
<g id="longcath">
<path d="M1007.8 254.2L1009.2 254.5L1010.9 254.8L1012.8 255.1L1014.9 255.5L1017.2 255.9L1019.6 256.4L1022.2 256.8L1024.9 257.3L1027.8 257.8L1030.7 258.4L1033.7 258.9L1036.7 259.4L1039.8 260L1042.9 260.6L1046 261.2L1049.1 261.7L1052.1 262.3L1055.1 262.9L1058 263.4L1060.8 264L1063.5 264.5L1066.1 265L1068.5 265.5L1070.8 266L1072.9 266.5L1075 266.9L1077.1 267.4L1079.1 267.8L1081 268.2L1082.9 268.7L1084.7 269.1L1086.5 269.5L1088.3 270L1090.1 270.4L1091.8 270.8L1093.4 271.2L1095.1 271.7L1096.7 272.1L1098.3 272.5L1099.9 272.9L1101.5 273.3L1103 273.8L1104.6 274.2L1106.1 274.6L1107.6 275.1L1109.1 275.5L1110.7 276L1112.2 276.4L1113.7 276.8L1115.1 277.3L1116.4 277.7L1117.7 278L1118.9 278.4L1120 278.8L1121.1 279.1L1122.2 279.5L1123.3 279.9L1124.4 280.2L1125.5 280.6L1126.5 281L1127.7 281.4L1128.8 281.8L1130 282.2L1131.2 282.7L1132.5 283.2L1133.9 283.7L1135.4 284.3L1136.9 284.9L1138.6 285.5L1140.4 286.2L1142.3 286.9L1144.3 287.7L1146.5 288.5L1148.8 289.4L1151.3 290.4L1153.9 291.4L1156.6 292.4L1159.4 293.5L1162.2 294.6L1165.2 295.7L1168.2 296.9L1171.3 298.1L1174.4 299.3L1177.6 300.5L1180.7 301.8L1183.9 303L1187.1 304.3L1190.2 305.5L1193.3 306.8L1196.3 308L1199.3 309.2L1202.2 310.5L1205 311.7L1207.8 312.8L1210.4 314L1212.9 315.1L1215.3 316.2L1217.6 317.3L1219.9 318.3L1222.1 319.4L1224.3 320.5L1226.4 321.5L1228.5 322.5L1230.5 323.6L1232.5 324.6L1234.5 325.6L1236.4 326.7L1238.3 327.7L1240.2 328.7L1242.1 329.8L1244 330.8L1245.9 331.8L1247.7 332.9L1249.6 334L1251.5 335L1253.4 336.1L1255.3 337.2L1257.3 338.3L1259.2 339.5L1261.2 340.6L1263.2 341.8L1265.2 342.9L1267.2 344.1L1269.3 345.3L1271.3 346.5L1273.3 347.7L1275.3 349L1277.4 350.2L1279.4 351.4L1281.4 352.7L1283.5 353.9L1285.5 355.2L1287.5 356.5L1289.5 357.7L1291.5 359L1293.5 360.3L1295.5 361.6L1297.5 362.9L1299.5 364.1L1301.4 365.4L1303.4 366.7L1305.3 368L1307.3 369.3L1309.2 370.6L1311.1 371.9L1313 373.2L1314.9 374.4L1316.7 375.7L1318.5 377L1320.4 378.3L1322.2 379.5L1324 380.8L1325.8 382.1L1327.6 383.3L1329.3 384.6L1331.1 385.9L1332.9 387.2L1334.7 388.5L1336.5 389.9L1338.3 391.2L1340.1 392.6L1341.9 393.9L1343.7 395.3L1345.6 396.7L1347.4 398.2L1349.3 399.6L1351.2 401.1L1353.1 402.6L1355 404.1L1357 405.7L1359 407.3L1361.1 409L1363.2 410.7L1365.3 412.4L1367.4 414.2L1369.5 415.9L1371.6 417.7L1373.8 419.5L1375.9 421.3L1378 423.1L1380.2 424.9L1382.3 426.7L1384.3 428.4L1386.4 430.2L1388.4 432L1390.4 433.7L1392.4 435.4L1394.3 437.1L1396.1 438.8L1398 440.4L1399.7 442L1401.4 443.5L1403 445L1404.6 446.5L1406.2 447.9L1407.6 449.3L1409.1 450.7L1410.5 452.1L1411.9 453.4L1413.2 454.7L1414.5 456.1L1415.8 457.4L1417.1 458.6L1418.4 459.9L1419.6 461.2L1420.8 462.5L1422 463.7L1423.2 465L1424.4 466.2L1425.5 467.5L1426.7 468.7L1427.9 470L1429.1 471.3L1430.3 472.6L1431.5 473.9L1432.7 475.2L1433.9 476.5L1435.1 477.8L1436.4 479.2L1437.6 480.5L1438.8 481.8L1439.9 483.1L1441.1 484.5L1442.3 485.8L1443.5 487.1L1444.7 488.4L1445.8 489.8L1447 491.1L1448.1 492.4L1449.3 493.8L1450.4 495.1L1451.5 496.4L1452.6 497.7L1453.7 499.1L1454.8 500.4L1455.9 501.7L1457 503L1458.1 504.4L1459.1 505.7L1460.2 507L1461.2 508.3L1462.3 509.6L1463.3 511L1464.3 512.3L1465.3 513.6L1466.3 514.9L1467.3 516.3L1468.3 517.6L1469.3 518.9L1470.2 520.2L1471.2 521.5L1472.2 522.9L1473.1 524.2L1474.1 525.5L1475 526.8L1475.9 528.1L1476.8 529.4L1477.8 530.8L1478.7 532.1L1479.6 533.4L1480.5 534.7L1481.4 536.1L1482.3 537.4L1483.2 538.7L1484.1 540L1485 541.4L1485.9 542.7L1486.7 544L1487.6 545.4L1488.4 546.7L1489.3 548L1490.1 549.4L1491 550.7L1491.8 552.1L1492.6 553.4L1493.5 554.7L1494.3 556.1L1495.1 557.4L1495.9 558.7L1496.7 560.1L1497.6 561.4L1498.4 562.7L1499.2 564L1500 565.3L1500.8 566.6L1501.6 567.9L1502.5 569.2L1503.3 570.5L1504.1 571.7L1504.9 572.9L1505.6 574L1506.3 575L1507 576L1507.7 576.9L1508.3 577.8L1509 578.7L1509.6 579.6L1510.3 580.5L1510.9 581.4L1511.6 582.3L1512.3 583.3L1513 584.3L1513.8 585.4L1514.6 586.6L1515.4 587.9L1516.3 589.2L1517.3 590.7L1518.3 592.3L1519.3 594L1520.5 595.8L1521.7 597.8L1523 600L1524.4 602.4L1525.9 605L1527.5 607.7L1529.3 610.7L1531.1 613.8L1532.9 617.1L1534.9 620.5L1536.9 624L1538.9 627.6L1541 631.2L1543.1 634.9L1545.2 638.6L1547.3 642.3L1549.4 646.1L1551.5 649.8L1553.5 653.4L1555.5 657L1557.5 660.5L1559.4 663.9L1561.2 667.2L1563 670.3L1564.6 673.3L1566.2 676.1L1567.6 678.7L1568.9 681.1L1570.2 683.5L1571.4 685.7L1572.6 687.8L1573.7 689.9L1574.7 691.9L1575.7 693.7L1576.6 695.5L1577.5 697.3L1578.4 699L1579.2 700.6L1580.1 702.2L1580.8 703.8L1581.6 705.3L1582.4 706.8L1583.1 708.2L1583.8 709.7L1584.5 711.1L1585.3 712.6L1586 714L1586.7 715.5L1587.5 717L1588.2 718.5L1589 720L1589.8 721.5L1590.5 723L1591.3 724.4L1592 725.7L1592.7 727.1L1593.4 728.3L1594.1 729.6L1594.7 730.8L1595.4 732.1L1596 733.3L1596.7 734.5L1597.3 735.7L1597.9 737L1598.6 738.2L1599.2 739.5L1599.9 740.8L1600.5 742.1L1601.2 743.5L1601.9 744.9L1602.6 746.4L1603.3 747.9L1604 749.5L1604.7 751.2L1605.5 752.9L1606.3 754.7L1607.1 756.6L1607.9 758.6L1608.7 760.6L1609.6 762.6L1610.4 764.7L1611.3 766.9L1612.2 769.1L1613.1 771.3L1614 773.5L1614.9 775.8L1615.8 778.1L1616.7 780.4L1617.6 782.7L1618.5 785.1L1619.3 787.4L1620.2 789.8L1621.1 792.1L1621.9 794.4L1622.8 796.8L1623.6 799.1L1624.4 801.3L1625.2 803.6L1626 805.8L1626.8 808L1627.5 810.2L1628.3 812.5L1629 814.8L1629.7 817L1630.4 819.3L1631.1 821.6L1631.8 823.9L1632.5 826.1L1633.2 828.4L1633.9 830.7L1634.6 833L1635.3 835.2L1635.9 837.5L1636.6 839.7L1637.2 841.9L1637.8 844.1L1638.5 846.3L1639.1 848.4L1639.7 850.6L1640.3 852.6L1640.9 854.7L1641.5 856.7L1642.1 858.7L1642.7 860.6L1643.2 862.6L1643.8 864.5L1644.4 866.4L1644.9 868.2L1645.4 870L1645.9 871.8L1646.5 873.6L1647 875.4L1647.5 877.2L1648 878.9L1648.5 880.6L1648.9 882.3L1649.4 884L1649.9 885.6L1650.4 887.3L1650.8 888.9L1651.3 890.5L1651.7 892.1L1652.2 893.7L1652.7 895.3L1653.1 896.9L1653.6 898.4L1654 900L1654.4 901.5L1654.9 903L1655.3 904.4L1655.7 905.7L1656.1 907.1L1656.5 908.3L1656.9 909.6L1657.3 910.8L1657.7 912.1L1658.1 913.3L1658.5 914.5L1658.9 915.7L1659.3 917L1659.6 918.2L1660 919.5L1660.4 920.8L1660.8 922.1L1661.2 923.5L1661.6 924.9L1662 926.4L1662.4 927.9L1662.8 929.5L1663.2 931.2L1663.6 932.9L1664 934.7L1664.5 936.7L1664.9 938.7L1665.4 940.8L1665.9 943L1666.3 945.2L1666.8 947.5L1667.3 949.8L1667.8 952.2L1668.3 954.6L1668.8 957L1669.2 959.4L1669.7 961.8L1670.2 964.2L1670.7 966.6L1671.1 969L1671.6 971.3L1672 973.6L1672.4 975.8L1672.8 978L1673.2 980.1L1673.5 982.1L1673.9 984L1674.2 985.8L1674.5 987.5L1674.8 989L1675 990.4L1675.2 991.7L1675.4 992.9L1675.6 994L1675.8 995.1L1676 996.1L1676.1 997L1676.2 998L1676.4 998.9L1676.5 999.9L1676.6 1000.8L1676.7 1001.8L1676.9 1002.9L1677 1004L1677.1 1005.3L1677.2 1006.6L1677.4 1008L1677.5 1009.6L1677.7 1011.3L1677.8 1013.2L1678 1015.3L1678.2 1017.6L1678.4 1020.1L1678.6 1022.6L1678.9 1025.4L1679.2 1028.2L1679.4 1031.2L1679.7 1034.2L1680 1037.4L1680.3 1040.7L1680.6 1044L1680.9 1047.5L1681.2 1051L1681.5 1054.5L1681.8 1058.2L1682 1061.9L1682.3 1065.6L1682.6 1069.4L1682.8 1073.2L1683.1 1077L1683.3 1080.8L1683.5 1084.7L1683.6 1088.5L1683.8 1092.4L1683.9 1096.2L1684 1100L1684.1 1103.8L1684.1 1107.7L1684.2 1111.5L1684.2 1115.4L1684.2 1119.3L1684.2 1123.3L1684.2 1127.3L1684.2 1131.3L1684.2 1135.3L1684.1 1139.4L1684.1 1143.5L1684 1147.7L1683.9 1151.8L1683.8 1156L1683.7 1160.3L1683.5 1164.5L1683.4 1168.8L1683.2 1173.2L1683.1 1177.6L1682.9 1182L1682.7 1186.4L1682.5 1190.9L1682.2 1195.4L1682 1200L1681.7 1204.7L1681.5 1209.4L1681.1 1214.3L1680.8 1219.3L1680.5 1224.4L1680.1 1229.5L1679.7 1234.7L1679.3 1240L1678.9 1245.3L1678.5 1250.6L1678.1 1255.9L1677.6 1261.2L1677.2 1266.6L1676.7 1271.8L1676.2 1277.1L1675.8 1282.2L1675.3 1287.3L1674.8 1292.3L1674.4 1297.3L1673.9 1302.1L1673.4 1306.8L1672.9 1311.3L1672.5 1315.7L1672 1320L1671.5 1324.1L1671.1 1328.1L1670.6 1332.1L1670.1 1335.9L1669.6 1339.7L1669 1343.4L1668.5 1347L1668 1350.6L1667.5 1354L1666.9 1357.4L1666.4 1360.8L1665.9 1364.1L1665.3 1367.3L1664.8 1370.5L1664.3 1373.6L1663.8 1376.7L1663.3 1379.7L1662.8 1382.7L1662.3 1385.7L1661.8 1388.6L1661.3 1391.5L1660.9 1394.3L1660.4 1397.2L1660 1400L1659.6 1402.8L1659.2 1405.5L1658.8 1408.2L1658.4 1410.8L1658.1 1413.4L1657.7 1415.9L1657.4 1418.4L1657 1420.9L1656.7 1423.3L1656.4 1425.6L1656 1427.9L1655.7 1430.2L1655.4 1432.5L1655.1 1434.7L1654.8 1436.8L1654.5 1439L1654.2 1441.1L1653.9 1443.1L1653.6 1445.2L1653.3 1447.2L1653 1449.2L1652.6 1451.1L1652.3 1453.1L1652 1455L1651.7 1456.9L1651.4 1458.7L1651.1 1460.4L1650.8 1462.1L1650.5 1463.7L1650.2 1465.3L1649.9 1466.8L1649.7 1468.3L1649.4 1469.8L1649.1 1471.3L1648.9 1472.7L1648.6 1474.1L1648.3 1475.5L1648 1476.9L1647.7 1478.3L1647.4 1479.7L1647.1 1481.1L1646.7 1482.5L1646.4 1483.9L1646 1485.4L1645.6 1486.9L1645.2 1488.4L1644.8 1490L1644.3 1491.6L1643.8 1493.3L1643.3 1494.9L1642.8 1496.6L1642.2 1498.3L1641.7 1500.1L1641.1 1501.8L1640.5 1503.5L1639.9 1505.3L1639.3 1507.1L1638.6 1508.9L1638 1510.6L1637.3 1512.4L1636.7 1514.2L1636 1516L1635.4 1517.9L1634.7 1519.7L1634 1521.5L1633.4 1523.3L1632.7 1525.1L1632 1526.9L1631.4 1528.7L1630.8 1530.5L1630.1 1532.2L1629.5 1534L1628.9 1535.8L1628.3 1537.5L1627.6 1539.3L1627 1541.1L1626.4 1542.9L1625.7 1544.7L1625.1 1546.5L1624.5 1548.4L1623.8 1550.2L1623.2 1552L1622.5 1553.8L1621.9 1555.6L1621.3 1557.4L1620.6 1559.1L1620 1560.9L1619.4 1562.7L1618.8 1564.4L1618.2 1566.2L1617.6 1567.9L1617 1569.6L1616.4 1571.3L1615.8 1573L1615.3 1574.7L1614.7 1576.3L1614.1 1577.9L1613.6 1579.6L1613 1581.3L1612.4 1583L1611.9 1584.8L1611.3 1586.5L1610.7 1588.3L1610.1 1590L1609.6 1591.7L1609 1593.5L1608.5 1595.1L1607.9 1596.8L1607.4 1598.4L1606.9 1600L1606.4 1601.5L1605.9 1603L1605.5 1604.4L1605 1605.7L1604.6 1607L1604.2 1608.2L1603.9 1609.3L1603.6 1610.3L1603.3 1611.2L1603 1612" fill="none" stroke="#7f93b3" stroke-width="24.6" stroke-linecap="butt" stroke-linejoin="round"/>
<path d="M1007.8 254.2L1009.2 254.5L1010.9 254.8L1012.8 255.1L1014.9 255.5L1017.2 255.9L1019.6 256.4L1022.2 256.8L1024.9 257.3L1027.8 257.8L1030.7 258.4L1033.7 258.9L1036.7 259.4L1039.8 260L1042.9 260.6L1046 261.2L1049.1 261.7L1052.1 262.3L1055.1 262.9L1058 263.4L1060.8 264L1063.5 264.5L1066.1 265L1068.5 265.5L1070.8 266L1072.9 266.5L1075 266.9L1077.1 267.4L1079.1 267.8L1081 268.2L1082.9 268.7L1084.7 269.1L1086.5 269.5L1088.3 270L1090.1 270.4L1091.8 270.8L1093.4 271.2L1095.1 271.7L1096.7 272.1L1098.3 272.5L1099.9 272.9L1101.5 273.3L1103 273.8L1104.6 274.2L1106.1 274.6L1107.6 275.1L1109.1 275.5L1110.7 276L1112.2 276.4L1113.7 276.8L1115.1 277.3L1116.4 277.7L1117.7 278L1118.9 278.4L1120 278.8L1121.1 279.1L1122.2 279.5L1123.3 279.9L1124.4 280.2L1125.5 280.6L1126.5 281L1127.7 281.4L1128.8 281.8L1130 282.2L1131.2 282.7L1132.5 283.2L1133.9 283.7L1135.4 284.3L1136.9 284.9L1138.6 285.5L1140.4 286.2L1142.3 286.9L1144.3 287.7L1146.5 288.5L1148.8 289.4L1151.3 290.4L1153.9 291.4L1156.6 292.4L1159.4 293.5L1162.2 294.6L1165.2 295.7L1168.2 296.9L1171.3 298.1L1174.4 299.3L1177.6 300.5L1180.7 301.8L1183.9 303L1187.1 304.3L1190.2 305.5L1193.3 306.8L1196.3 308L1199.3 309.2L1202.2 310.5L1205 311.7L1207.8 312.8L1210.4 314L1212.9 315.1L1215.3 316.2L1217.6 317.3L1219.9 318.3L1222.1 319.4L1224.3 320.5L1226.4 321.5L1228.5 322.5L1230.5 323.6L1232.5 324.6L1234.5 325.6L1236.4 326.7L1238.3 327.7L1240.2 328.7L1242.1 329.8L1244 330.8L1245.9 331.8L1247.7 332.9L1249.6 334L1251.5 335L1253.4 336.1L1255.3 337.2L1257.3 338.3L1259.2 339.5L1261.2 340.6L1263.2 341.8L1265.2 342.9L1267.2 344.1L1269.3 345.3L1271.3 346.5L1273.3 347.7L1275.3 349L1277.4 350.2L1279.4 351.4L1281.4 352.7L1283.5 353.9L1285.5 355.2L1287.5 356.5L1289.5 357.7L1291.5 359L1293.5 360.3L1295.5 361.6L1297.5 362.9L1299.5 364.1L1301.4 365.4L1303.4 366.7L1305.3 368L1307.3 369.3L1309.2 370.6L1311.1 371.9L1313 373.2L1314.9 374.4L1316.7 375.7L1318.5 377L1320.4 378.3L1322.2 379.5L1324 380.8L1325.8 382.1L1327.6 383.3L1329.3 384.6L1331.1 385.9L1332.9 387.2L1334.7 388.5L1336.5 389.9L1338.3 391.2L1340.1 392.6L1341.9 393.9L1343.7 395.3L1345.6 396.7L1347.4 398.2L1349.3 399.6L1351.2 401.1L1353.1 402.6L1355 404.1L1357 405.7L1359 407.3L1361.1 409L1363.2 410.7L1365.3 412.4L1367.4 414.2L1369.5 415.9L1371.6 417.7L1373.8 419.5L1375.9 421.3L1378 423.1L1380.2 424.9L1382.3 426.7L1384.3 428.4L1386.4 430.2L1388.4 432L1390.4 433.7L1392.4 435.4L1394.3 437.1L1396.1 438.8L1398 440.4L1399.7 442L1401.4 443.5L1403 445L1404.6 446.5L1406.2 447.9L1407.6 449.3L1409.1 450.7L1410.5 452.1L1411.9 453.4L1413.2 454.7L1414.5 456.1L1415.8 457.4L1417.1 458.6L1418.4 459.9L1419.6 461.2L1420.8 462.5L1422 463.7L1423.2 465L1424.4 466.2L1425.5 467.5L1426.7 468.7L1427.9 470L1429.1 471.3L1430.3 472.6L1431.5 473.9L1432.7 475.2L1433.9 476.5L1435.1 477.8L1436.4 479.2L1437.6 480.5L1438.8 481.8L1439.9 483.1L1441.1 484.5L1442.3 485.8L1443.5 487.1L1444.7 488.4L1445.8 489.8L1447 491.1L1448.1 492.4L1449.3 493.8L1450.4 495.1L1451.5 496.4L1452.6 497.7L1453.7 499.1L1454.8 500.4L1455.9 501.7L1457 503L1458.1 504.4L1459.1 505.7L1460.2 507L1461.2 508.3L1462.3 509.6L1463.3 511L1464.3 512.3L1465.3 513.6L1466.3 514.9L1467.3 516.3L1468.3 517.6L1469.3 518.9L1470.2 520.2L1471.2 521.5L1472.2 522.9L1473.1 524.2L1474.1 525.5L1475 526.8L1475.9 528.1L1476.8 529.4L1477.8 530.8L1478.7 532.1L1479.6 533.4L1480.5 534.7L1481.4 536.1L1482.3 537.4L1483.2 538.7L1484.1 540L1485 541.4L1485.9 542.7L1486.7 544L1487.6 545.4L1488.4 546.7L1489.3 548L1490.1 549.4L1491 550.7L1491.8 552.1L1492.6 553.4L1493.5 554.7L1494.3 556.1L1495.1 557.4L1495.9 558.7L1496.7 560.1L1497.6 561.4L1498.4 562.7L1499.2 564L1500 565.3L1500.8 566.6L1501.6 567.9L1502.5 569.2L1503.3 570.5L1504.1 571.7L1504.9 572.9L1505.6 574L1506.3 575L1507 576L1507.7 576.9L1508.3 577.8L1509 578.7L1509.6 579.6L1510.3 580.5L1510.9 581.4L1511.6 582.3L1512.3 583.3L1513 584.3L1513.8 585.4L1514.6 586.6L1515.4 587.9L1516.3 589.2L1517.3 590.7L1518.3 592.3L1519.3 594L1520.5 595.8L1521.7 597.8L1523 600L1524.4 602.4L1525.9 605L1527.5 607.7L1529.3 610.7L1531.1 613.8L1532.9 617.1L1534.9 620.5L1536.9 624L1538.9 627.6L1541 631.2L1543.1 634.9L1545.2 638.6L1547.3 642.3L1549.4 646.1L1551.5 649.8L1553.5 653.4L1555.5 657L1557.5 660.5L1559.4 663.9L1561.2 667.2L1563 670.3L1564.6 673.3L1566.2 676.1L1567.6 678.7L1568.9 681.1L1570.2 683.5L1571.4 685.7L1572.6 687.8L1573.7 689.9L1574.7 691.9L1575.7 693.7L1576.6 695.5L1577.5 697.3L1578.4 699L1579.2 700.6L1580.1 702.2L1580.8 703.8L1581.6 705.3L1582.4 706.8L1583.1 708.2L1583.8 709.7L1584.5 711.1L1585.3 712.6L1586 714L1586.7 715.5L1587.5 717L1588.2 718.5L1589 720L1589.8 721.5L1590.5 723L1591.3 724.4L1592 725.7L1592.7 727.1L1593.4 728.3L1594.1 729.6L1594.7 730.8L1595.4 732.1L1596 733.3L1596.7 734.5L1597.3 735.7L1597.9 737L1598.6 738.2L1599.2 739.5L1599.9 740.8L1600.5 742.1L1601.2 743.5L1601.9 744.9L1602.6 746.4L1603.3 747.9L1604 749.5L1604.7 751.2L1605.5 752.9L1606.3 754.7L1607.1 756.6L1607.9 758.6L1608.7 760.6L1609.6 762.6L1610.4 764.7L1611.3 766.9L1612.2 769.1L1613.1 771.3L1614 773.5L1614.9 775.8L1615.8 778.1L1616.7 780.4L1617.6 782.7L1618.5 785.1L1619.3 787.4L1620.2 789.8L1621.1 792.1L1621.9 794.4L1622.8 796.8L1623.6 799.1L1624.4 801.3L1625.2 803.6L1626 805.8L1626.8 808L1627.5 810.2L1628.3 812.5L1629 814.8L1629.7 817L1630.4 819.3L1631.1 821.6L1631.8 823.9L1632.5 826.1L1633.2 828.4L1633.9 830.7L1634.6 833L1635.3 835.2L1635.9 837.5L1636.6 839.7L1637.2 841.9L1637.8 844.1L1638.5 846.3L1639.1 848.4L1639.7 850.6L1640.3 852.6L1640.9 854.7L1641.5 856.7L1642.1 858.7L1642.7 860.6L1643.2 862.6L1643.8 864.5L1644.4 866.4L1644.9 868.2L1645.4 870L1645.9 871.8L1646.5 873.6L1647 875.4L1647.5 877.2L1648 878.9L1648.5 880.6L1648.9 882.3L1649.4 884L1649.9 885.6L1650.4 887.3L1650.8 888.9L1651.3 890.5L1651.7 892.1L1652.2 893.7L1652.7 895.3L1653.1 896.9L1653.6 898.4L1654 900L1654.4 901.5L1654.9 903L1655.3 904.4L1655.7 905.7L1656.1 907.1L1656.5 908.3L1656.9 909.6L1657.3 910.8L1657.7 912.1L1658.1 913.3L1658.5 914.5L1658.9 915.7L1659.3 917L1659.6 918.2L1660 919.5L1660.4 920.8L1660.8 922.1L1661.2 923.5L1661.6 924.9L1662 926.4L1662.4 927.9L1662.8 929.5L1663.2 931.2L1663.6 932.9L1664 934.7L1664.5 936.7L1664.9 938.7L1665.4 940.8L1665.9 943L1666.3 945.2L1666.8 947.5L1667.3 949.8L1667.8 952.2L1668.3 954.6L1668.8 957L1669.2 959.4L1669.7 961.8L1670.2 964.2L1670.7 966.6L1671.1 969L1671.6 971.3L1672 973.6L1672.4 975.8L1672.8 978L1673.2 980.1L1673.5 982.1L1673.9 984L1674.2 985.8L1674.5 987.5L1674.8 989L1675 990.4L1675.2 991.7L1675.4 992.9L1675.6 994L1675.8 995.1L1676 996.1L1676.1 997L1676.2 998L1676.4 998.9L1676.5 999.9L1676.6 1000.8L1676.7 1001.8L1676.9 1002.9L1677 1004L1677.1 1005.3L1677.2 1006.6L1677.4 1008L1677.5 1009.6L1677.7 1011.3L1677.8 1013.2L1678 1015.3L1678.2 1017.6L1678.4 1020.1L1678.6 1022.6L1678.9 1025.4L1679.2 1028.2L1679.4 1031.2L1679.7 1034.2L1680 1037.4L1680.3 1040.7L1680.6 1044L1680.9 1047.5L1681.2 1051L1681.5 1054.5L1681.8 1058.2L1682 1061.9L1682.3 1065.6L1682.6 1069.4L1682.8 1073.2L1683.1 1077L1683.3 1080.8L1683.5 1084.7L1683.6 1088.5L1683.8 1092.4L1683.9 1096.2L1684 1100L1684.1 1103.8L1684.1 1107.7L1684.2 1111.5L1684.2 1115.4L1684.2 1119.3L1684.2 1123.3L1684.2 1127.3L1684.2 1131.3L1684.2 1135.3L1684.1 1139.4L1684.1 1143.5L1684 1147.7L1683.9 1151.8L1683.8 1156L1683.7 1160.3L1683.5 1164.5L1683.4 1168.8L1683.2 1173.2L1683.1 1177.6L1682.9 1182L1682.7 1186.4L1682.5 1190.9L1682.2 1195.4L1682 1200L1681.7 1204.7L1681.5 1209.4L1681.1 1214.3L1680.8 1219.3L1680.5 1224.4L1680.1 1229.5L1679.7 1234.7L1679.3 1240L1678.9 1245.3L1678.5 1250.6L1678.1 1255.9L1677.6 1261.2L1677.2 1266.6L1676.7 1271.8L1676.2 1277.1L1675.8 1282.2L1675.3 1287.3L1674.8 1292.3L1674.4 1297.3L1673.9 1302.1L1673.4 1306.8L1672.9 1311.3L1672.5 1315.7L1672 1320L1671.5 1324.1L1671.1 1328.1L1670.6 1332.1L1670.1 1335.9L1669.6 1339.7L1669 1343.4L1668.5 1347L1668 1350.6L1667.5 1354L1666.9 1357.4L1666.4 1360.8L1665.9 1364.1L1665.3 1367.3L1664.8 1370.5L1664.3 1373.6L1663.8 1376.7L1663.3 1379.7L1662.8 1382.7L1662.3 1385.7L1661.8 1388.6L1661.3 1391.5L1660.9 1394.3L1660.4 1397.2L1660 1400L1659.6 1402.8L1659.2 1405.5L1658.8 1408.2L1658.4 1410.8L1658.1 1413.4L1657.7 1415.9L1657.4 1418.4L1657 1420.9L1656.7 1423.3L1656.4 1425.6L1656 1427.9L1655.7 1430.2L1655.4 1432.5L1655.1 1434.7L1654.8 1436.8L1654.5 1439L1654.2 1441.1L1653.9 1443.1L1653.6 1445.2L1653.3 1447.2L1653 1449.2L1652.6 1451.1L1652.3 1453.1L1652 1455L1651.7 1456.9L1651.4 1458.7L1651.1 1460.4L1650.8 1462.1L1650.5 1463.7L1650.2 1465.3L1649.9 1466.8L1649.7 1468.3L1649.4 1469.8L1649.1 1471.3L1648.9 1472.7L1648.6 1474.1L1648.3 1475.5L1648 1476.9L1647.7 1478.3L1647.4 1479.7L1647.1 1481.1L1646.7 1482.5L1646.4 1483.9L1646 1485.4L1645.6 1486.9L1645.2 1488.4L1644.8 1490L1644.3 1491.6L1643.8 1493.3L1643.3 1494.9L1642.8 1496.6L1642.2 1498.3L1641.7 1500.1L1641.1 1501.8L1640.5 1503.5L1639.9 1505.3L1639.3 1507.1L1638.6 1508.9L1638 1510.6L1637.3 1512.4L1636.7 1514.2L1636 1516L1635.4 1517.9L1634.7 1519.7L1634 1521.5L1633.4 1523.3L1632.7 1525.1L1632 1526.9L1631.4 1528.7L1630.8 1530.5L1630.1 1532.2L1629.5 1534L1628.9 1535.8L1628.3 1537.5L1627.6 1539.3L1627 1541.1L1626.4 1542.9L1625.7 1544.7L1625.1 1546.5L1624.5 1548.4L1623.8 1550.2L1623.2 1552L1622.5 1553.8L1621.9 1555.6L1621.3 1557.4L1620.6 1559.1L1620 1560.9L1619.4 1562.7L1618.8 1564.4L1618.2 1566.2L1617.6 1567.9L1617 1569.6L1616.4 1571.3L1615.8 1573L1615.3 1574.7L1614.7 1576.3L1614.1 1577.9L1613.6 1579.6L1613 1581.3L1612.4 1583L1611.9 1584.8L1611.3 1586.5L1610.7 1588.3L1610.1 1590L1609.6 1591.7L1609 1593.5L1608.5 1595.1L1607.9 1596.8L1607.4 1598.4L1606.9 1600L1606.4 1601.5L1605.9 1603L1605.5 1604.4L1605 1605.7L1604.6 1607L1604.2 1608.2L1603.9 1609.3L1603.6 1610.3L1603.3 1611.2L1603 1612" fill="none" stroke="#99ccff" stroke-width="22.4" stroke-linecap="butt" stroke-linejoin="round"/>
<path d="M1112.2 276.4L1113.7 276.8L1115.1 277.3L1116.4 277.7L1117.7 278L1118.9 278.4L1120 278.8L1121.1 279.1L1122.2 279.5L1123.3 279.9L1124.4 280.2L1125.5 280.6L1126.5 281L1128.4 281.7" fill="none" stroke="#ffffff" stroke-width="22.4"/>
<path d="M1144.3 287.7L1146.5 288.5L1148.8 289.4L1151.3 290.4L1153.9 291.4L1156.6 292.4L1159.4 293.5L1160.5 293.9" fill="none" stroke="#ffffff" stroke-width="22.4"/>
<path d="M1212.9 315.1L1215.3 316.2L1217.6 317.3L1219.9 318.3L1222.1 319.4L1224.3 320.5L1226.4 321.5L1228.2 322.4" fill="none" stroke="#ffffff" stroke-width="22.4"/>
<path d="M1246.4 332.1L1247.7 332.9L1249.6 334L1251.5 335L1253.4 336.1L1255.3 337.2L1257.3 338.3L1259.2 339.5L1261.2 340.6" fill="none" stroke="#ffffff" stroke-width="22.4"/>
<path d="M1309.2 370.6L1311.1 371.9L1313 373.2L1314.9 374.4L1316.7 375.7L1318.5 377L1320.4 378.3L1322.2 379.5L1323.1 380.2" fill="none" stroke="#ffffff" stroke-width="22.4"/>
<path d="M1339.6 392.2L1341.9 393.9L1343.7 395.3L1345.6 396.7L1347.4 398.2L1349.3 399.6L1351.2 401.1L1353.1 402.6" fill="none" stroke="#ffffff" stroke-width="22.4"/>
<circle cx="1007.8" cy="254.2" r="11.8" fill="#ffffff" stroke="#7f93b3" stroke-width="1.1"/>
<path d="M1007.8 254.2L1009.2 254.5L1010.9 254.8L1012.8 255.1L1014.9 255.5L1017.2 255.9L1019.6 256.4L1022.2 256.8L1024.9 257.3L1027.8 257.8L1030.7 258.4L1033.7 258.9L1036.7 259.4L1039.8 260L1042.9 260.6L1046 261.2L1049.1 261.7L1052.1 262.3L1055.1 262.9L1058 263.4L1060.8 264L1063.5 264.5L1066.1 265L1068.5 265.5L1070.8 266" fill="none" stroke="#7f93b3" stroke-width="24.6"/>
<path d="M1007.8 254.2L1009.2 254.5L1010.9 254.8L1012.8 255.1L1014.9 255.5L1017.2 255.9L1019.6 256.4L1022.2 256.8L1024.9 257.3L1027.8 257.8L1030.7 258.4L1033.7 258.9L1036.7 259.4L1039.8 260L1042.9 260.6L1046 261.2L1049.1 261.7L1052.1 262.3L1055.1 262.9L1058 263.4L1060.8 264L1063.5 264.5L1066.1 265L1068.5 265.5L1070.8 266" fill="none" stroke="#ffffff" stroke-width="22.4"/>
<circle cx="1007.8" cy="254.2" r="11.2" fill="#ffffff"/>
</g>
<g id="hand" stroke-linejoin="round" stroke-linecap="round">
<path d="M1700 1100C1689.5 1088.8 1651.7 1116.8 1637 1123C1622.3 1129.2 1621.3 1131.9 1612 1137.4C1602.7 1142.9 1589.5 1150.7 1581.3 1155.8C1573.1 1160.9 1567.4 1163.9 1562.8 1168C1558.2 1172.1 1555.5 1175.9 1553.6 1180.4C1551.7 1184.9 1550.8 1189.7 1551.5 1194.8C1552.2 1199.9 1554.5 1206.4 1557.7 1211C1561 1215.6 1566 1219.8 1571 1222.4C1576 1225 1581.2 1226.5 1587.4 1226.5C1593.6 1226.5 1601.1 1224.3 1607.9 1222.4C1614.7 1220.5 1621.4 1217.9 1628.4 1215.3C1635.4 1212.7 1638 1211.2 1649.9 1207C1661.8 1202.8 1691.7 1207.8 1700 1190C1708.3 1172.2 1710.5 1111.2 1700 1100Z" fill="#99cccc" stroke="#669999" stroke-width="4"/>
<path d="M1700 1190C1691.5 1193 1660.8 1203.1 1648.9 1208C1637 1212.9 1634.6 1215.5 1628.4 1219.4C1622.2 1223.4 1618.2 1226.9 1612 1231.7C1605.8 1236.5 1597.3 1243.2 1591.5 1248C1585.7 1252.8 1580.6 1256.3 1577.2 1260.4C1573.8 1264.5 1572.2 1268.3 1571 1272.7C1569.8 1277.1 1570.7 1278.7 1570 1287C1569.3 1295.3 1567.8 1309.3 1567 1322.3C1566.2 1335.2 1564.5 1356.2 1564.9 1364.7C1565.3 1373.2 1566.7 1370.7 1569.2 1373C1571.7 1375.3 1578 1377.5 1579.7 1378.4L1579.7 1378.4C1579.9 1384.9 1580.7 1405.3 1580.8 1417.6C1580.9 1429.9 1579.1 1443.5 1580.3 1452C1581.5 1460.5 1584.2 1464.8 1588.2 1468.4C1592.2 1472 1598.5 1473.4 1604 1473.7C1609.5 1474 1616 1472.5 1621 1470.5C1626 1468.5 1630.5 1464.8 1633.7 1462C1636.9 1459.2 1639 1454.9 1640 1453.5L1640 1453.5C1640.7 1452.5 1642.3 1451.5 1644.3 1447.2C1646.2 1443 1649.8 1434.7 1651.7 1428C1653.6 1421.3 1654.2 1415 1655.9 1407C1657.6 1399 1661 1384.5 1662 1380L1662 1380L1700 1380L1700 1380L1700 1190Z" fill="#99cccc" stroke="none" stroke-width="1"/>
<path d="M1700 1190C1691.5 1193 1660.8 1203.1 1648.9 1208C1637 1212.9 1634.6 1215.5 1628.4 1219.4C1622.2 1223.4 1618.2 1226.9 1612 1231.7C1605.8 1236.5 1597.3 1243.2 1591.5 1248C1585.7 1252.8 1580.6 1256.3 1577.2 1260.4C1573.8 1264.5 1572.2 1268.3 1571 1272.7C1569.8 1277.1 1570.7 1278.7 1570 1287C1569.3 1295.3 1567.8 1309.3 1567 1322.3C1566.2 1335.2 1564.5 1356.2 1564.9 1364.7C1565.3 1373.2 1566.7 1370.7 1569.2 1373C1571.7 1375.3 1578 1377.5 1579.7 1378.4L1579.7 1378.4C1579.9 1384.9 1580.7 1405.3 1580.8 1417.6C1580.9 1429.9 1579.1 1443.5 1580.3 1452C1581.5 1460.5 1584.2 1464.8 1588.2 1468.4C1592.2 1472 1598.5 1473.4 1604 1473.7C1609.5 1474 1616 1472.5 1621 1470.5C1626 1468.5 1630.5 1464.8 1633.7 1462C1636.9 1459.2 1639 1454.9 1640 1453.5" fill="none" stroke="#669999" stroke-width="4"/>
<path d="M1640 1453.5C1640.7 1452.5 1642.3 1451.5 1644.3 1447.2C1646.2 1443 1649.8 1434.7 1651.7 1428C1653.6 1421.3 1654.2 1415 1655.9 1407C1657.6 1399 1661 1384.5 1662 1380" fill="none" stroke="#669999" stroke-width="1.6"/>
<path d="M1579.7 1378.4C1583.8 1378.2 1596.4 1379.7 1604 1377.4C1611.6 1375.1 1618.8 1370.4 1625.2 1364.7C1631.6 1359 1637.6 1351.3 1642.2 1343.5C1646.8 1335.7 1650.3 1325.8 1652.8 1318C1655.3 1310.2 1656.3 1300.5 1657 1297" fill="none" stroke="#669999" stroke-width="1.6"/>
<path d="M1620.2 1253.2C1622.9 1254.7 1631.8 1258.8 1636.6 1262.4C1641.4 1266 1645.5 1270.3 1648.9 1274.7C1652.3 1279.1 1655.2 1285.3 1657.1 1289C1658.9 1292.7 1659.5 1295.7 1660 1297" fill="none" stroke="#669999" stroke-width="2"/>
<path d="M1656 1407C1656.2 1400 1656.3 1377 1657 1364.7C1657.7 1352.4 1659 1343.6 1660.2 1333C1661.4 1322.4 1663.5 1308.7 1664.4 1301C1665.3 1293.3 1665.7 1292.8 1665.7 1287C1665.7 1281.2 1665.2 1275 1664.3 1266.5C1663.4 1258 1661.8 1246 1660.2 1235.8C1658.7 1225.5 1656.7 1215.2 1655 1205C1653.3 1194.8 1651.9 1184.5 1649.9 1174.3C1647.9 1164 1645.2 1153.8 1642.8 1143.5C1640.4 1133.2 1637.6 1123 1635.6 1112.8C1633.5 1102.5 1631.5 1090.5 1630.5 1082C1629.5 1073.5 1628.4 1068.3 1629.8 1061.5C1631.2 1054.7 1634.2 1047.2 1638.7 1041C1643.2 1034.8 1650.1 1028.3 1657.1 1024.6C1664.1 1020.8 1672.8 1018.8 1680.7 1018.5C1688.6 1018.2 1697.3 1019.5 1704.3 1022.6C1711.3 1025.7 1717.9 1031.4 1722.7 1036.9C1727.5 1042.4 1730.1 1048.6 1733 1055.4C1735.9 1062.2 1738.2 1071.1 1740.1 1077.9C1742 1084.7 1743.5 1093.3 1744.2 1096.4L1744.2 1096.4C1746.1 1096.7 1750.9 1098.7 1755.5 1098.4C1760.1 1098.1 1766.4 1094.9 1771.9 1094.7C1777.4 1094.5 1782.5 1095.2 1788.3 1097.4C1794.1 1099.6 1800.3 1103.8 1806.8 1107.6C1813.3 1111.4 1820.4 1115.9 1827.3 1120C1834.2 1124.1 1836.3 1125.2 1848.4 1132.2C1860.5 1139.2 1877.2 1148.2 1900 1162C1922.8 1175.8 1970.8 1206.2 1985 1215L1985 1215C1984.5 1232.5 1982.8 1296.4 1982 1320C1981.2 1343.6 1981.1 1345.6 1980.4 1356.6C1979.7 1367.6 1978.9 1372.1 1977.6 1385.8C1976.2 1399.5 1974.1 1421.1 1972.3 1438.7C1970.5 1456.3 1968.4 1475.7 1967 1491.6C1965.6 1507.5 1964.2 1519.9 1963.9 1534C1963.6 1548.1 1964.4 1565.3 1964.9 1576.3C1965.4 1587.3 1966.3 1591.9 1967 1600C1967.7 1608.1 1968.7 1620.8 1969 1625L1969 1625L1735 1625L1735 1625C1733.1 1620.8 1727.9 1609.5 1723.7 1600C1719.5 1590.5 1714.8 1578.8 1710 1567.8C1705.2 1556.8 1700.3 1546 1695 1534C1689.7 1522 1682 1505.5 1678 1496C1674 1486.5 1672.8 1481.8 1670.7 1476.8C1668.6 1471.8 1666.9 1470.8 1665.5 1466.2C1664.1 1461.6 1663.5 1456.3 1662.3 1449.3C1661 1442.3 1659 1431 1658 1424C1657 1417 1656.3 1409.8 1656 1407Z" fill="#99cccc" stroke="none" stroke-width="1"/>
<path d="M1656 1407C1656.2 1400 1656.3 1377 1657 1364.7C1657.7 1352.4 1659 1343.6 1660.2 1333C1661.4 1322.4 1663.5 1308.7 1664.4 1301C1665.3 1293.3 1665.7 1292.8 1665.7 1287C1665.7 1281.2 1665.2 1275 1664.3 1266.5C1663.4 1258 1661.8 1246 1660.2 1235.8C1658.7 1225.5 1656.7 1215.2 1655 1205C1653.3 1194.8 1651.9 1184.5 1649.9 1174.3C1647.9 1164 1645.2 1153.8 1642.8 1143.5C1640.4 1133.2 1637.6 1123 1635.6 1112.8C1633.5 1102.5 1631.5 1090.5 1630.5 1082C1629.5 1073.5 1628.4 1068.3 1629.8 1061.5C1631.2 1054.7 1634.2 1047.2 1638.7 1041C1643.2 1034.8 1650.1 1028.3 1657.1 1024.6C1664.1 1020.8 1672.8 1018.8 1680.7 1018.5C1688.6 1018.2 1697.3 1019.5 1704.3 1022.6C1711.3 1025.7 1717.9 1031.4 1722.7 1036.9C1727.5 1042.4 1730.1 1048.6 1733 1055.4C1735.9 1062.2 1738.2 1071.1 1740.1 1077.9C1742 1084.7 1743.5 1093.3 1744.2 1096.4L1744.2 1096.4C1746.1 1096.7 1750.9 1098.7 1755.5 1098.4C1760.1 1098.1 1766.4 1094.9 1771.9 1094.7C1777.4 1094.5 1782.5 1095.2 1788.3 1097.4C1794.1 1099.6 1800.3 1103.8 1806.8 1107.6C1813.3 1111.4 1820.4 1115.9 1827.3 1120C1834.2 1124.1 1836.3 1125.2 1848.4 1132.2C1860.5 1139.2 1877.2 1148.2 1900 1162C1922.8 1175.8 1970.8 1206.2 1985 1215" fill="none" stroke="#669999" stroke-width="4"/>
<path d="M1985 1215C1984.5 1232.5 1982.8 1296.4 1982 1320C1981.2 1343.6 1981.1 1345.6 1980.4 1356.6C1979.7 1367.6 1978.9 1372.1 1977.6 1385.8C1976.2 1399.5 1974.1 1421.1 1972.3 1438.7C1970.5 1456.3 1968.4 1475.7 1967 1491.6C1965.6 1507.5 1964.2 1519.9 1963.9 1534C1963.6 1548.1 1964.4 1565.3 1964.9 1576.3C1965.4 1587.3 1966.3 1591.9 1967 1600C1967.7 1608.1 1968.7 1620.8 1969 1625" fill="none" stroke="#669999" stroke-width="3"/>
<path d="M1735 1625C1733.1 1620.8 1727.9 1609.5 1723.7 1600C1719.5 1590.5 1714.8 1578.8 1710 1567.8C1705.2 1556.8 1700.3 1546 1695 1534C1689.7 1522 1682 1505.5 1678 1496C1674 1486.5 1672.8 1481.8 1670.7 1476.8C1668.6 1471.8 1666.9 1470.8 1665.5 1466.2C1664.1 1461.6 1663.5 1456.3 1662.3 1449.3C1661 1442.3 1659 1431 1658 1424C1657 1417 1656.3 1409.8 1656 1407" fill="none" stroke="#669999" stroke-width="3"/>
<path d="M1744.2 1096.4C1745.1 1100.8 1747.5 1112.4 1749.4 1123C1751.3 1133.6 1753.5 1147.9 1755.5 1159.9C1757.5 1171.9 1759.7 1183.9 1761.7 1194.8C1763.8 1205.7 1765.9 1216.3 1767.8 1225.5C1769.7 1234.7 1770.9 1242.5 1772.9 1250C1775 1257.5 1776.8 1264.4 1780.1 1270.6C1783.3 1276.8 1789.3 1283.8 1792.4 1287C1795.5 1290.2 1796.4 1290 1798.6 1290C1800.8 1290 1802.6 1290.2 1805.7 1287C1808.8 1283.8 1813.2 1276.4 1817 1270.6C1820.8 1264.8 1826 1256.8 1828.3 1252C1830.6 1247.2 1830.9 1245.6 1830.7 1241.9C1830.5 1238.2 1829.6 1233.3 1827.3 1229.6C1825 1225.8 1818.7 1221.1 1817 1219.4" fill="none" stroke="#669999" stroke-width="3.6"/>
<path d="M1817 1219.4C1813.6 1217.3 1803.3 1211.1 1796.5 1207C1789.7 1202.9 1781.5 1197.5 1776 1194.8C1770.5 1192.1 1765.8 1191.4 1763.7 1190.7" fill="none" stroke="#669999" stroke-width="2"/>
<path d="M1665 1291C1664.2 1292 1661.5 1293.8 1660 1297C1658.5 1300.2 1656.7 1307.8 1656 1310" fill="none" stroke="#669999" stroke-width="3"/>
<path d="M1643.8 1067.7C1644.2 1061.9 1645 1056.4 1647.9 1051.3C1650.8 1046.2 1655.7 1040.5 1661.2 1036.9C1666.7 1033.3 1674.2 1030.2 1680.7 1029.7C1687.2 1029.2 1694.6 1031.2 1700.2 1033.8C1705.8 1036.3 1710.9 1040.4 1714.5 1045C1718.1 1049.6 1720.2 1056 1721.7 1061.5C1723.2 1067 1723.7 1073.5 1723.7 1077.9C1723.7 1082.3 1723.2 1085.3 1721.7 1088C1720.2 1090.7 1718.5 1093.3 1714.5 1094.3C1710.5 1095.3 1703.5 1093.6 1698 1093.9C1692.5 1094.2 1686.5 1095.1 1681.7 1096.4C1676.9 1097.7 1672.8 1100.3 1669.4 1101.5C1666 1102.7 1664.3 1104 1661.2 1103.5C1658.1 1103 1653.6 1101.3 1651 1098.4C1648.4 1095.5 1647 1091.1 1645.8 1086C1644.6 1080.9 1643.4 1073.5 1643.8 1067.7Z" fill="#8cbebd" stroke="#93c5c4" stroke-width="2"/>
</g>
<g id="fluoro">
<rect x="1848.5" y="867.5" width="623.5" height="488.5" fill="#ffffff"/>
<rect x="1858.5" y="877.5" width="603.7" height="468.8" fill="#cecece"/>
<clipPath id="flclip"><rect x="1858.5" y="877.5" width="603.7" height="468.8"/></clipPath>
<g clip-path="url(#flclip)" fill="none" stroke-linecap="round" stroke-linejoin="round">
<path d="M2023 870L2022.9 871.1L2022.7 872.3L2022.6 873.7L2022.4 875.2L2022.3 876.8L2022.1 878.5L2022 880.3L2021.8 882.2L2021.6 884.2L2021.4 886.2L2021.2 888.3L2021 890.5L2020.7 892.8L2020.5 895.1L2020.2 897.4L2019.9 899.8L2019.5 902.1L2019.1 904.5L2018.7 906.9L2018.2 909.3L2017.7 911.7L2017.2 914.1L2016.6 916.5L2016 918.8L2015.6 920.1" stroke="#bdbdbd" stroke-width="13"/>
<path d="M2015.9 919.1L2015.3 921.1L2014.6 923.6L2013.8 926.1L2012.9 928.6L2012.1 931.2L2011.1 933.8L2010.2 936.5L2009.1 939.2L2008.1 942L2007.1 944.7L2006 947.5L2004.9 950.2L2003.8 953L2002.6 955.7L2001.5 958.4L2000.4 961.1L1999.3 963.8L1998.1 966.6" stroke="#bdbdbd" stroke-width="11.8"/>
<path d="M1998.5 965.7L1997.1 968.9L1996 971.4L1995 973.9L1993.9 976.2L1993 978.5L1992 980.7L1991.1 982.8L1990.1 984.9L1989.1 986.9L1988.1 988.8L1987.2 990.7L1986.2 992.5L1985.2 994.3L1984.2 996L1983.2 997.7L1982.2 999.4L1981.3 1001L1980.3 1002.7L1979.4 1004.3L1978.5 1005.9L1977.6 1007.4L1976.7 1009L1975.7 1010.9" stroke="#bdbdbd" stroke-width="10.7"/>
<path d="M1976.2 1010L1975.1 1012.2L1974.3 1013.8L1973.5 1015.4L1972.8 1017L1972.2 1018.6L1971.6 1020.3L1971 1022L1970.5 1023.7L1970 1025.4L1969.5 1027.1L1969.1 1028.8L1968.7 1030.6L1968.3 1032.3L1968 1034L1967.6 1035.7L1967.3 1037.4L1967.1 1039.1L1966.8 1040.8L1966.6 1042.5L1966.5 1044.2L1966.3 1045.9L1966.2 1047.6L1966.1 1049.3L1966 1051L1965.9 1052.7L1965.9 1054.4L1965.8 1056.1L1965.9 1057.9L1965.9 1059.1" stroke="#bdbdbd" stroke-width="9.5"/>
<path d="M1965.9 1058.1L1965.9 1059.6L1965.9 1061.3L1966 1063L1966.1 1064.7L1966.2 1066.5L1966.4 1068.2L1966.7 1069.9L1966.9 1071.7L1967.2 1073.4L1967.5 1075.2L1967.9 1076.9L1968.2 1078.7L1968.6 1080.5L1969 1082.2L1969.4 1084L1969.9 1085.7L1970.3 1087.5L1970.8 1089.2L1971.3 1090.9L1971.7 1092.7L1972.2 1094.4L1972.6 1096.1L1973.1 1097.8L1973.5 1099.5L1974 1101.2L1974.4 1102.8L1974.8 1104.5L1975.2 1106.1L1975.6 1107.8" stroke="#bdbdbd" stroke-width="8.3"/>
<path d="M1975.4 1106.8L1975.6 1107.8L1976.1 1109.4L1976.5 1111L1976.9 1112.6L1977.4 1114.2L1977.9 1115.8L1978.3 1117.4L1978.8 1119L1979.3 1120.5L1979.8 1122.1L1980.2 1123.7L1980.7 1125.2L1981.2 1126.8L1981.6 1128.3L1982 1129.8L1982.5 1131.4L1982.9 1132.9L1983.3 1134.4L1983.7 1136L1984 1137.5L1984.4 1139L1984.7 1140.5L1985 1142L1985.3 1143.5L1985.5 1145L1985.7 1146.5L1985.9 1148L1986 1149.4L1986.2 1150.9L1986.3 1152.4L1986.4 1153.8L1986.5 1156.1" stroke="#bdbdbd" stroke-width="7.2"/>
<path d="M1986.5 1155.1L1986.6 1156.7L1986.7 1158.2L1986.7 1159.6L1986.8 1161L1986.9 1162.5L1987 1163.9L1987.1 1165.3L1987.2 1166.8L1987.3 1168.2L1987.4 1169.6L1987.6 1171.1L1987.8 1172.5L1988 1173.9L1988.2 1175.4L1988.5 1176.8L1988.8 1178.2L1989.1 1179.6L1989.5 1181L1989.8 1182.3L1990.2 1183.7L1990.6 1185L1991 1186.3L1991.4 1187.6L1991.9 1188.9L1992.3 1190.2L1992.8 1191.5L1993.2 1192.8L1993.7 1194.2L1994.2 1195.5L1994.6 1196.9L1995.1 1198.3L1995.6 1199.8L1996.1 1201.2L1996.6 1202.7L1997.1 1204.4" stroke="#bdbdbd" stroke-width="6"/>
<path d="M1996.8 1203.4L1997.6 1205.9L1998.1 1207.5L1998.5 1209.2L1999 1211L1999.5 1212.8L2000 1214.7L2000.5 1216.6L2001 1218.6L2001.5 1220.6L2002 1222.7L2002.5 1224.8L2003 1227L2003.5 1229.1L2004.1 1231.3L2004.6 1233.5L2005.1 1235.8L2005.6 1238L2006.2 1240.3L2006.7 1242.6L2007.2 1244.8L2007.7 1247.1L2008.2 1249.4L2008.7 1251.7L2008.9 1252.7" stroke="#bdbdbd" stroke-width="4.8"/>
<path d="M2008.7 1251.7L2009.2 1253.9L2009.7 1256.1L2010.1 1258.3L2010.6 1260.5L2011 1262.7L2011.4 1264.9L2011.8 1267L2012.3 1269.2L2012.7 1271.5L2013.1 1273.7L2013.5 1275.9L2013.9 1278.2L2014.3 1280.4L2014.7 1282.6L2015 1284.9L2015.4 1287.1L2015.8 1289.3L2016.1 1291.5L2016.5 1293.7L2016.8 1295.9L2017.2 1298L2017.5 1300.2L2017.7 1301.6" stroke="#bdbdbd" stroke-width="3.7"/>
<path d="M2017.6 1300.6L2017.8 1302.3L2018.1 1304.3L2018.4 1306.3L2018.7 1308.3L2019 1310.3L2019.2 1312.2L2019.5 1314L2019.7 1315.8L2020 1317.7L2020.2 1319.5L2020.4 1321.3L2020.6 1323.1L2020.8 1324.9L2021 1326.7L2021.2 1328.5L2021.3 1330.2L2021.5 1331.9L2021.6 1333.6L2021.8 1335.2L2021.9 1336.8L2022 1338.3L2022.2 1339.8L2022.3 1341.2L2022.4 1342.6L2022.5 1343.9L2022.6 1345.1L2022.7 1346.3L2022.8 1347.3L2022.8 1348.3L2023 1350" stroke="#bdbdbd" stroke-width="2.5"/>
<path d="M2018 905L2015.9 905L2014.7 905L2013.4 905L2012 904.9L2010.4 904.9L2008.8 904.9L2007.1 904.9L2005.3 904.8L2003.5 904.8L2001.6 904.8L1999.6 904.8L1997.6 904.8L1995.6 904.8L1993.5 904.7L1991.4 904.7L1989.3 904.7L1987.2 904.8L1985.6 904.8" stroke="#bdbdbd" stroke-width="5"/>
<path d="M1986.6 904.8L1985.1 904.8L1983 904.8L1980.9 904.8L1978.8 904.9L1976.8 904.9L1974.8 905L1972.8 905.1L1970.7 905.2L1968.6 905.2L1966.5 905.3L1964.3 905.4L1962 905.6L1959.8 905.7L1957.5 905.8L1955.2 905.9L1954.2 906" stroke="#bdbdbd" stroke-width="4"/>
<path d="M1955.2 905.9L1952.9 906.1L1950.6 906.2L1948.3 906.3L1946 906.5L1943.8 906.7L1941.5 906.8L1939.3 907L1937.1 907.2L1934.9 907.3L1932.8 907.5L1930.7 907.7L1928.7 907.9L1926.7 908.1L1924.8 908.3L1922.8 908.5" stroke="#bdbdbd" stroke-width="3"/>
<path d="M1923.8 908.4L1921.2 908.7L1919.5 908.9L1917.8 909.1L1916.2 909.3L1914.6 909.6L1913 909.8L1911.4 910L1909.9 910.2L1908.4 910.5L1907 910.7L1905.6 910.9L1904.2 911.2L1902.8 911.5L1901.4 911.7L1900.1 912L1898.8 912.3L1897.5 912.6L1896.2 912.9L1895 913.2L1893.7 913.5L1891.9 914" stroke="#bdbdbd" stroke-width="2"/>
<path d="M1892.9 913.8L1891.2 914.2L1890 914.6L1888.8 915L1887.6 915.4L1886.4 915.9L1885.1 916.4L1883.9 916.9L1882.7 917.4L1881.5 918L1880.3 918.6L1879.1 919.2L1878 919.8L1876.8 920.4L1875.7 921L1874.6 921.6L1873.6 922.2L1872.5 922.8L1871.5 923.4L1870.6 924L1869.7 924.5L1868.8 925L1868 925.5L1867.2 926L1866.5 926.4L1865.8 926.8L1864.7 927.4" stroke="#bdbdbd" stroke-width="1"/>
<path d="M2005 950L2004.1 950.4L2003.6 950.7L2003 950.9L2002.4 951.2L2001.8 951.4L2001.1 951.7L2000.4 952L1999.6 952.4L1998.8 952.7L1998 953.1L1997.2 953.4L1996.3 953.8L1995.4 954.3L1994.5 954.7L1993.5 955.2L1992.5 955.7L1991.5 956.2L1990.5 956.8L1989.4 957.3L1988.4 958L1987.3 958.6L1986.1 959.3L1985 960L1983.8 960.8L1982.6 961.5L1981.3 962.4L1979.9 963.2L1978.6 964.1" stroke="#bdbdbd" stroke-width="4"/>
<path d="M1979.4 963.5L1978.5 964.1L1977.1 965.1L1975.6 966L1974.1 967L1972.5 968.1L1971 969.1L1969.4 970.2L1967.8 971.2L1966.2 972.4L1964.6 973.5L1963.1 974.6L1961.5 975.7L1959.9 976.9L1958.4 978L1956.9 979.2L1954.9 980.8" stroke="#bdbdbd" stroke-width="3.2"/>
<path d="M1955.7 980.2L1954 981.5L1952.6 982.7L1951.3 983.9L1950 985L1948.8 986.2L1947.6 987.3L1946.4 988.5L1945.2 989.7L1944.1 990.8L1942.9 992L1941.8 993.2L1940.7 994.4L1939.7 995.7L1938.6 996.9L1937.6 998.1L1936.6 999.4L1935.6 1000.6L1934.8 1001.6" stroke="#bdbdbd" stroke-width="2.5"/>
<path d="M1935.4 1000.8L1934.6 1001.9L1933.6 1003.2L1932.6 1004.4L1931.6 1005.7L1930.7 1007L1929.7 1008.3L1928.8 1009.7L1927.8 1011L1926.9 1012.3L1925.9 1013.7L1925 1015L1924.1 1016.4L1923.1 1017.9L1922.1 1019.4L1921.1 1020.9L1920.2 1022.6L1919.2 1024.2L1918.5 1025.5" stroke="#bdbdbd" stroke-width="1.8"/>
<path d="M1919 1024.6L1918.2 1025.9L1917.2 1027.6L1916.3 1029.3L1915.3 1031L1914.4 1032.7L1913.4 1034.4L1912.5 1036L1911.7 1037.6L1910.8 1039.2L1910 1040.7L1909.2 1042.2L1908.5 1043.6L1907.8 1044.9L1907.1 1046.1L1906.5 1047.3L1906 1048.3L1905 1050" stroke="#bdbdbd" stroke-width="1"/>
<path d="M1971 1022L1970.3 1022.8L1969.5 1023.6L1968.6 1024.6L1967.6 1025.7L1966.6 1026.8L1965.4 1028.1L1964.2 1029.4L1962.9 1030.8L1961.6 1032.2L1960.3 1033.7L1958.9 1035.3L1957.4 1036.8L1955.9 1038.4L1954.5 1040.1L1953 1041.7L1951.4 1043.4" stroke="#bdbdbd" stroke-width="6"/>
<path d="M1952.1 1042.6L1949.9 1045L1948.4 1046.6L1947 1048.3L1945.5 1049.9L1944.1 1051.5L1942.7 1053L1941.3 1054.5L1940 1056L1938.7 1057.4L1937.4 1058.8L1936.1 1060.2L1934.8 1061.6L1933.4 1063L1932.5 1063.9" stroke="#bdbdbd" stroke-width="5"/>
<path d="M1933.2 1063.2L1932.1 1064.4L1930.7 1065.8L1929.4 1067.2L1928.1 1068.6L1926.7 1069.9L1925.4 1071.3L1924 1072.7L1922.7 1074.1L1921.4 1075.6L1920.1 1077L1918.8 1078.4L1917.6 1079.9L1916.3 1081.4L1915.1 1082.9L1913.8 1084.6" stroke="#bdbdbd" stroke-width="4"/>
<path d="M1914.4 1083.8L1912.7 1086L1911.6 1087.6L1910.5 1089.2L1909.4 1090.8L1908.3 1092.5L1907.3 1094.2L1906.3 1096.1L1905.3 1097.9L1904.3 1099.8L1903.3 1101.8L1902.3 1103.7L1901.4 1105.7L1900.4 1107.7L1899.9 1108.9" stroke="#bdbdbd" stroke-width="3"/>
<path d="M1900.3 1107.9L1899.5 1109.7L1898.6 1111.8L1897.7 1113.8L1896.9 1115.8L1896 1117.8L1895.2 1119.8L1894.4 1121.7L1893.6 1123.6L1892.9 1125.5L1892.1 1127.3L1891.4 1129.1L1890.7 1130.8L1890.1 1132.5L1889.2 1134.7" stroke="#bdbdbd" stroke-width="2"/>
<path d="M1889.5 1133.7L1888.8 1135.5L1888.2 1136.9L1887.6 1138.3L1887.1 1139.7L1886.5 1141L1886 1142.3L1885.6 1143.6L1885.1 1144.9L1884.7 1146.1L1884.2 1147.2L1883.9 1148.4L1883.5 1149.5L1883.1 1150.5L1882.8 1151.6L1882.4 1152.6L1882.1 1153.5L1881.8 1154.4L1881.6 1155.3L1881.3 1156.1L1881.1 1156.8L1880.8 1157.6L1880.6 1158.2L1880.4 1158.9L1880 1160" stroke="#bdbdbd" stroke-width="1"/>
<path d="M1935 1062L1934.8 1063L1934.6 1064.2L1934.3 1065.6L1934 1067L1933.7 1068.6L1933.3 1070.3L1933 1072.1L1932.6 1074L1932.2 1075.9L1931.8 1078L1931.3 1080.1L1930.9 1082.2L1930.5 1084.4L1930 1086.6L1929.6 1088.8L1929.2 1091.1L1928.8 1093.4" stroke="#bdbdbd" stroke-width="3.5"/>
<path d="M1929 1092.4L1928.4 1095.5L1928.1 1097.7L1927.7 1099.9L1927.4 1102L1927.1 1104.1L1926.8 1106.1L1926.6 1108L1926.4 1109.9L1926.2 1111.8L1926 1113.7L1925.9 1115.7L1925.7 1117.6L1925.6 1119.6L1925.5 1121.5L1925.4 1124.2" stroke="#bdbdbd" stroke-width="2.7"/>
<path d="M1925.4 1123.2L1925.3 1125.4L1925.2 1127.3L1925.1 1129.3L1925.1 1131.2L1925 1133.1L1925 1135L1925 1136.9L1924.9 1138.8L1924.9 1140.6L1924.9 1142.4L1924.9 1144.2L1924.9 1146L1924.9 1147.7L1925 1149.4L1925 1151.1L1925 1152.7L1925.1 1155.2" stroke="#bdbdbd" stroke-width="1.8"/>
<path d="M1925 1154.2L1925.1 1155.9L1925.2 1157.6L1925.3 1159.2L1925.4 1160.8L1925.5 1162.4L1925.6 1164L1925.8 1165.6L1925.9 1167.1L1926.1 1168.7L1926.2 1170.2L1926.4 1171.6L1926.6 1173.1L1926.7 1174.5L1926.9 1175.8L1927.1 1177.1L1927.2 1178.3L1927.4 1179.5L1927.5 1180.6L1927.6 1181.6L1927.7 1182.6L1927.8 1183.5L1928 1185" stroke="#bdbdbd" stroke-width="1"/>
<path d="M1988 1205L1987.3 1205.8L1986.5 1206.6L1985.7 1207.6L1984.7 1208.7L1983.7 1209.8L1982.6 1211L1981.5 1212.3L1980.3 1213.7L1979 1215.1L1977.7 1216.6L1976.3 1218.1L1975 1219.7L1973.5 1221.3L1972.1 1222.9L1970.6 1224.5L1969.2 1226.2L1968.2 1227.3" stroke="#bdbdbd" stroke-width="5"/>
<path d="M1968.9 1226.5L1967.7 1227.8L1966.2 1229.4L1964.7 1231.1L1963.3 1232.7L1961.8 1234.2L1960.4 1235.8L1959 1237.3L1957.6 1238.7L1956.2 1240.1L1954.8 1241.5L1953.4 1242.9L1951.9 1244.3L1950.4 1245.7L1948.9 1247.1L1948.1 1247.9" stroke="#bdbdbd" stroke-width="4.2"/>
<path d="M1948.8 1247.2L1947.4 1248.5L1945.9 1249.8L1944.3 1251.2L1942.8 1252.6L1941.2 1254L1939.7 1255.4L1938.1 1256.8L1936.6 1258.2L1935.1 1259.6L1933.6 1261L1932.2 1262.5L1930.8 1263.9L1929.4 1265.4L1928 1266.9L1927.2 1267.7" stroke="#bdbdbd" stroke-width="3.4"/>
<path d="M1927.9 1267L1926.7 1268.4L1925.4 1269.9L1924.2 1271.4L1923 1273L1921.9 1274.6L1920.8 1276.2L1919.7 1277.9L1918.6 1279.5L1917.6 1281.3L1916.6 1283L1915.6 1284.7L1914.6 1286.5L1913.7 1288.3L1912.8 1290.1L1911.8 1292" stroke="#bdbdbd" stroke-width="2.6"/>
<path d="M1912.3 1291.1L1911 1293.6L1910.2 1295.4L1909.4 1297.2L1908.6 1299L1907.9 1300.8L1907.1 1302.5L1906.4 1304.2L1905.7 1305.9L1905 1307.6L1904.4 1309.3L1903.8 1310.9L1903.2 1312.5L1902.6 1314L1902.1 1315.5L1901.5 1317.1L1901.1 1318.7" stroke="#bdbdbd" stroke-width="1.8"/>
<path d="M1901.4 1317.7L1900.6 1320.2L1900.2 1321.8L1899.8 1323.4L1899.5 1325L1899.1 1326.5L1898.8 1328.1L1898.5 1329.6L1898.3 1331.1L1898 1332.6L1897.8 1334L1897.6 1335.4L1897.4 1336.7L1897.2 1338L1897 1339.3L1896.9 1340.5L1896.7 1341.6L1896.6 1342.6L1896.4 1343.6L1896.3 1344.5L1896 1346" stroke="#bdbdbd" stroke-width="1"/>
<path d="M1940 1255L1939.9 1256L1939.7 1257.2L1939.6 1258.5L1939.4 1259.9L1939.2 1261.4L1939 1263.1L1938.8 1264.8L1938.6 1266.6L1938.3 1268.5L1938.1 1270.5L1937.8 1272.5L1937.6 1274.6L1937.3 1276.7L1937.1 1278.6" stroke="#bdbdbd" stroke-width="3"/>
<path d="M1937.2 1277.7L1937.1 1278.9L1936.8 1281.1L1936.6 1283.3L1936.3 1285.4L1936.1 1287.6L1935.9 1289.8L1935.7 1291.9L1935.5 1294L1935.3 1296.1L1935.1 1298.1L1935 1300L1934.9 1301.4" stroke="#bdbdbd" stroke-width="2.3"/>
<path d="M1935 1300.4L1934.9 1301.9L1934.8 1303.9L1934.7 1306L1934.6 1308.1L1934.5 1310.3L1934.4 1312.5L1934.4 1314.7L1934.3 1317L1934.3 1319.2L1934.2 1321.4L1934.2 1324.2" stroke="#bdbdbd" stroke-width="1.7"/>
<path d="M1934.2 1323.2L1934.2 1325.8L1934.2 1328L1934.1 1330L1934.1 1332.1L1934.1 1334L1934.1 1335.9L1934.1 1337.7L1934.1 1339.4L1934.1 1341L1934 1342.4L1934 1343.8L1934 1345L1934 1346" stroke="#bdbdbd" stroke-width="1"/>
<path d="M2022 900L2022.3 901.2L2022.4 902L2022.6 902.8L2022.8 903.6L2022.9 904.6L2023.1 905.6L2023.3 906.6L2023.5 907.7L2023.8 908.8L2024 910L2024.2 911.2L2024.5 912.4L2024.8 913.6L2025 914.8L2025.3 916L2025.6 917.2L2025.9 918.4L2026.3 919.6L2026.6 920.8L2026.9 921.9L2027.3 923L2027.9 924.6" stroke="#bdbdbd" stroke-width="5"/>
<path d="M2027.5 923.7L2028 925L2028.4 925.9L2028.8 926.9L2029.2 927.8L2029.6 928.7L2030 929.5L2030.5 930.4L2030.9 931.2L2031.4 932L2031.8 932.9L2032.3 933.7L2032.8 934.5L2033.3 935.3L2033.8 936.1L2034.3 937L2034.9 937.8L2035.4 938.6L2036 939.5L2036.5 940.4L2037.1 941.2L2037.6 942.2L2038.2 943.1L2038.8 944L2039.8 945.7" stroke="#bdbdbd" stroke-width="4.2"/>
<path d="M2039.3 944.9L2040 946L2040.6 947L2041.3 948.1L2041.9 949.1L2042.6 950.2L2043.4 951.3L2044.1 952.4L2044.8 953.5L2045.6 954.6L2046.4 955.8L2047.1 956.9L2047.9 958.1L2048.7 959.3L2049.5 960.5L2050.2 961.6L2051 962.8L2051.7 964L2052.5 965.3L2053 966.2" stroke="#bdbdbd" stroke-width="3.4"/>
<path d="M2052.5 965.3L2053.2 966.5L2053.9 967.7L2054.6 968.9L2055.2 970.1L2055.8 971.3L2056.4 972.6L2057 973.8L2057.5 975L2058.1 976.3L2058.6 977.5L2059 978.8L2059.5 980.1L2060 981.3L2060.4 982.6L2060.9 983.9L2061.3 985.2L2061.7 986.5L2062.3 988.6" stroke="#bdbdbd" stroke-width="2.6"/>
<path d="M2062 987.6L2062.5 989.1L2062.8 990.4L2063.2 991.7L2063.5 993L2063.8 994.4L2064.2 995.7L2064.5 997L2064.7 998.3L2065 999.6L2065.3 1000.9L2065.5 1002.2L2065.8 1003.5L2066 1004.8L2066.2 1006.1L2066.4 1007.5L2066.6 1008.9L2066.7 1010.3L2066.9 1012.4" stroke="#bdbdbd" stroke-width="1.8"/>
<path d="M2066.8 1011.4L2067 1013.3L2067.1 1014.8L2067.2 1016.3L2067.2 1017.8L2067.3 1019.2L2067.4 1020.7L2067.4 1022.2L2067.5 1023.6L2067.5 1025L2067.5 1026.4L2067.5 1027.7L2067.5 1029L2067.6 1030.2L2067.6 1031.3L2067.6 1032.3L2067.6 1033.3L2067.6 1034.2L2067.7 1035.7" stroke="#bdbdbd" stroke-width="1"/>
<path d="M2033 990L2033.1 991.1L2033.1 992.4L2033.2 993.9L2033.3 995.5L2033.4 997.2L2033.5 999.1L2033.6 1001.1L2033.7 1003.1L2033.9 1005.3L2034 1007.5L2034.1 1009.8L2034.2 1012.2L2034.4 1014.6L2034.5 1017L2034.7 1019.4L2034.9 1022.7" stroke="#bdbdbd" stroke-width="2.5"/>
<path d="M2034.8 1021.7L2035 1024.3L2035.1 1026.7L2035.3 1029.1L2035.4 1031.4L2035.6 1033.6L2035.7 1035.8L2035.9 1038L2036 1040L2036.2 1042L2036.3 1044.1L2036.5 1046.2L2036.7 1048.3L2036.8 1050.5L2037 1052.7L2037.2 1054.4" stroke="#bdbdbd" stroke-width="1.8"/>
<path d="M2037.1 1053.4L2037.2 1054.8L2037.4 1057L2037.6 1059.2L2037.8 1061.4L2038 1063.5L2038.2 1065.6L2038.4 1067.7L2038.6 1069.7L2038.7 1071.6L2038.9 1073.5L2039.1 1075.3L2039.3 1077L2039.4 1078.6L2039.6 1080.2L2039.7 1081.6L2039.8 1082.8L2039.9 1084L2040 1085" stroke="#bdbdbd" stroke-width="1"/>
<path d="M1974.8 1104.5L1976.1 1105.5L1976.9 1106.1L1977.8 1106.7L1978.7 1107.4L1979.8 1108.1L1980.8 1108.9L1982 1109.7L1983.1 1110.5L1984.3 1111.4L1985.6 1112.3L1986.9 1113.2L1988.2 1114.2L1989.5 1115.2L1990.8 1116.2L1991.9 1116.9" stroke="#bdbdbd" stroke-width="6"/>
<path d="M1991.1 1116.3L1992.1 1117.1L1993.5 1118.1L1994.8 1119.1L1996 1120.1L1997.3 1121.1L1998.5 1122.1L1999.7 1123.1L2000.9 1124.1L2002 1125L2003.1 1125.9L2004.2 1126.9L2005.2 1127.8L2006.3 1128.8L2007.4 1129.7" stroke="#bdbdbd" stroke-width="5.1"/>
<path d="M2006.6 1129L2007.4 1129.7L2008.5 1130.7L2009.5 1131.6L2010.6 1132.6L2011.7 1133.6L2012.7 1134.6L2013.8 1135.5L2014.8 1136.5L2015.9 1137.5L2016.9 1138.6L2017.9 1139.6L2018.9 1140.6L2019.9 1141.6L2020.9 1142.7L2021.8 1143.7" stroke="#bdbdbd" stroke-width="4.2"/>
<path d="M2021.2 1143L2021.8 1143.7L2022.8 1144.7L2023.7 1145.8L2024.6 1146.9L2025.5 1147.9L2026.4 1149L2027.3 1150.1L2028.1 1151.2L2028.9 1152.4L2029.7 1153.6L2030.5 1154.8L2031.3 1156L2032 1157.3L2032.8 1158.5L2033.6 1159.9" stroke="#bdbdbd" stroke-width="3.3"/>
<path d="M2033.1 1159.1L2034.2 1161.1L2034.9 1162.3L2035.6 1163.6L2036.3 1164.8L2037 1166.1L2037.7 1167.3L2038.3 1168.5L2039 1169.6L2039.7 1170.8L2040.3 1171.9L2041 1173L2041.6 1174L2042.3 1175L2042.9 1175.9L2043.9 1177.2" stroke="#bdbdbd" stroke-width="2.4"/>
<path d="M2043.3 1176.4L2044.3 1177.6L2044.9 1178.5L2045.6 1179.2L2046.3 1180L2047 1180.7L2047.7 1181.4L2048.4 1182.1L2049.1 1182.8L2049.8 1183.4L2050.5 1184L2051.2 1184.6L2051.9 1185.1L2052.5 1185.7L2053.2 1186.2L2053.8 1186.7L2054.4 1187.1L2054.9 1187.6L2055.5 1188L2056 1188.4L2056.5 1188.7L2056.9 1189.1L2058 1190" stroke="#bdbdbd" stroke-width="1.5"/>
<path d="M2030 1160L2030.3 1161.4L2030.5 1162.2L2030.7 1163.1L2030.9 1164.1L2031.2 1165.2L2031.4 1166.3L2031.7 1167.4L2032 1168.6L2032.3 1169.9L2032.6 1171.2L2032.9 1172.5L2033.2 1173.9L2033.5 1175.3L2033.8 1176.7L2034.1 1178.1L2034.4 1179.6L2034.6 1181.1L2034.9 1182.6L2035.2 1184" stroke="#bdbdbd" stroke-width="2.5"/>
<path d="M2035 1183L2035.2 1184.1L2035.4 1185.6L2035.6 1187.1L2035.8 1188.5L2036 1190L2036.2 1191.5L2036.3 1193.1L2036.5 1194.8L2036.6 1196.6L2036.7 1198.4L2036.8 1200.2L2036.9 1202.1L2037 1204.1L2037.1 1206L2037.2 1207.5" stroke="#bdbdbd" stroke-width="1.8"/>
<path d="M2037.2 1206.5L2037.2 1208L2037.3 1209.9L2037.4 1211.9L2037.4 1213.8L2037.5 1215.7L2037.6 1217.5L2037.6 1219.3L2037.7 1221L2037.7 1222.6L2037.8 1224.1L2037.8 1225.5L2037.9 1226.8L2037.9 1228L2038 1230" stroke="#bdbdbd" stroke-width="1"/>
<path d="M1990 1180L1990.3 1181.1L1990.7 1182.4L1991.2 1183.8L1991.6 1185.3L1992.1 1187L1992.7 1188.8L1993.3 1190.6L1993.9 1192.6L1994.5 1194.6L1995.2 1196.8L1995.9 1199L1996.6 1201.2L1997.3 1203.6L1998 1205.9L1998.7 1208.3L1999.4 1210.7L2000.2 1213.2L2000.9 1215.6L2001.6 1218.1L2002.3 1220.5L2002.7 1221.8" stroke="#bdbdbd" stroke-width="3"/>
<path d="M2002.4 1220.8L2003 1222.9L2003.7 1225.3L2004.4 1227.7L2005 1230L2005.6 1232.3L2006.3 1234.7L2006.9 1237L2007.6 1239.5L2008.2 1241.9L2008.9 1244.4L2009.6 1246.9L2010.3 1249.4L2010.9 1251.9L2011.6 1254.5L2012.3 1257.1L2012.9 1259.6L2013.8 1263" stroke="#bdbdbd" stroke-width="2.5"/>
<path d="M2013.5 1262L2014.2 1264.8L2014.9 1267.4L2015.5 1269.9L2016.1 1272.5L2016.7 1275L2017.3 1277.6L2017.9 1280.1L2018.5 1282.6L2019 1285.1L2019.5 1287.6L2020 1290L2020.5 1292.5L2020.9 1295L2021.4 1297.6L2021.8 1300.2L2022.3 1302.9L2022.5 1304.7" stroke="#bdbdbd" stroke-width="2"/>
<path d="M2022.4 1303.7L2022.7 1305.6L2023.1 1308.3L2023.5 1311L2023.9 1313.8L2024.2 1316.5L2024.6 1319.1L2024.9 1321.8L2025.3 1324.3L2025.6 1326.8L2025.9 1329.3L2026.2 1331.6L2026.5 1333.9L2026.7 1336L2027 1338.1L2027.2 1340L2027.4 1341.7L2027.6 1343.3L2027.8 1344.7L2028 1346" stroke="#bdbdbd" stroke-width="1.5"/>
<path d="M2286 870L2285.9 871.5L2285.9 873.2L2285.8 875.2L2285.7 877.3L2285.5 879.7L2285.4 882.2L2285.2 884.9L2285.1 887.6L2284.9 890.5L2284.8 893.6L2284.6 896.6L2284.4 899.8L2284.3 903L2284.2 906.2L2284 909.4L2283.9 912.6L2283.8 916.8" stroke="#bdbdbd" stroke-width="12"/>
<path d="M2283.8 915.8L2283.8 919L2283.7 922.1L2283.7 925.1L2283.7 928L2283.8 930.8L2283.9 933.5L2284 936L2284.2 938.4L2284.3 940.8L2284.6 943.2L2284.8 945.6L2285 947.9L2285.3 950.2L2285.6 952.4L2285.9 954.6L2286.3 956.9L2286.6 959L2287 961.2L2287.2 962.4" stroke="#bdbdbd" stroke-width="10.8"/>
<path d="M2287.1 961.4L2287.4 963.3L2287.8 965.5L2288.2 967.6L2288.7 969.6L2289.1 971.7L2289.6 973.7L2290 975.8L2290.5 977.8L2291 979.8L2291.5 981.7L2292 983.7L2292.5 985.7L2293 987.6L2293.5 989.5L2294.1 991.4L2294.6 993.3L2295.2 995.1L2295.8 996.9L2296.4 998.7L2297 1000.4L2297.6 1002.1L2298.2 1003.9L2298.9 1005.5L2299.2 1006.5" stroke="#bdbdbd" stroke-width="9.7"/>
<path d="M2298.9 1005.6L2299.5 1007.2L2300.2 1008.9L2300.9 1010.6L2301.5 1012.2L2302.2 1013.9L2302.9 1015.5L2303.6 1017.2L2304.3 1018.8L2305 1020.5L2305.7 1022.1L2306.3 1023.8L2307 1025.5L2307.7 1027.2L2308.4 1028.9L2309.1 1030.6L2309.8 1032.4L2310.5 1034.1L2311.2 1035.8L2311.9 1037.6L2312.7 1039.3L2313.4 1041.1L2314.1 1042.9L2314.9 1044.6L2315.6 1046.4L2316.7 1048.9" stroke="#bdbdbd" stroke-width="8.5"/>
<path d="M2316.3 1048L2317.1 1049.9L2317.8 1051.6L2318.6 1053.4L2319.3 1055.1L2320.1 1056.8L2320.8 1058.5L2321.5 1060.2L2322.2 1061.9L2322.9 1063.5L2323.6 1065.2L2324.3 1066.8L2324.9 1068.4L2325.6 1070L2326.2 1071.6L2326.9 1073.1L2327.6 1074.6L2328.2 1076.1L2328.9 1077.6L2329.5 1079L2330.2 1080.5L2330.8 1081.9L2331.5 1083.3L2332.1 1084.7L2332.7 1086.1L2333.4 1087.5L2334 1088.9L2334.9 1091" stroke="#bdbdbd" stroke-width="7.3"/>
<path d="M2334.5 1090L2335.1 1091.6L2335.7 1093L2336.2 1094.4L2336.8 1095.8L2337.3 1097.2L2337.7 1098.7L2338.2 1100.1L2338.6 1101.5L2339 1103L2339.4 1104.5L2339.7 1106L2340.1 1107.5L2340.4 1109.1L2340.7 1110.6L2341 1112.2L2341.2 1113.7L2341.5 1115.3L2341.7 1116.9L2341.9 1118.5L2342.1 1120L2342.2 1121.6L2342.4 1123.2L2342.5 1124.8L2342.6 1126.4L2342.7 1128L2342.8 1129.6L2342.9 1131.2L2342.9 1132.7L2342.9 1134.3L2342.9 1135.7" stroke="#bdbdbd" stroke-width="6.2"/>
<path d="M2342.9 1134.7L2342.9 1135.9L2342.9 1137.4L2342.9 1139L2342.9 1140.5L2342.8 1142L2342.7 1143.5L2342.6 1145.1L2342.6 1146.6L2342.5 1148.2L2342.3 1149.7L2342.2 1151.3L2342.1 1152.9L2341.9 1154.5L2341.8 1156L2341.6 1157.6L2341.4 1159.1L2341.1 1160.7L2340.9 1162.2L2340.6 1163.7L2340.3 1165.2L2339.9 1166.6L2339.6 1168L2339.2 1169.4L2338.7 1170.7L2338.3 1172L2337.7 1173.3L2337.2 1174.5L2336.6 1175.7L2336 1176.8L2335.3 1177.8L2334.6 1178.8L2333.7 1179.8" stroke="#bdbdbd" stroke-width="5"/>
<path d="M2334.4 1179.1L2332.9 1180.6L2331.9 1181.4L2331 1182.1L2329.9 1182.8L2328.9 1183.5L2327.8 1184.1L2326.7 1184.7L2325.5 1185.3L2324.4 1185.9L2323.2 1186.4L2322.1 1187L2321 1187.6L2319.8 1188.2L2318.7 1188.8L2317.6 1189.4L2316.6 1190L2315.5 1190.7L2314.5 1191.5L2313.6 1192.3L2312.7 1193.1L2311.9 1194L2311.1 1194.9L2310.4 1195.9L2309.6 1196.9L2308.9 1197.8L2308.2 1198.8L2307.5 1199.8L2306.9 1200.9L2306.3 1201.9L2305.6 1203L2305 1204L2304.5 1205.1L2303.9 1206.2L2303.3 1207.4L2302.8 1208.5L2302.3 1209.7L2301.8 1210.8" stroke="#bdbdbd" stroke-width="3.8"/>
<path d="M2302.2 1209.9L2301.7 1210.9L2301.2 1212.2L2300.8 1213.4L2300.3 1214.7L2299.8 1216L2299.3 1217.3L2298.9 1218.7L2298.4 1220.1L2298 1221.5L2297.6 1223L2297.2 1224.5L2296.8 1226L2296.4 1227.6L2296 1229.3L2295.7 1231L2295.3 1232.7L2295 1234.4L2294.7 1236.2L2294.4 1237.9L2294.1 1239.7L2293.8 1241.5L2293.5 1243.4L2293.3 1245.2L2293 1247L2292.8 1248.8L2292.5 1250.6L2292.3 1252.4L2292.1 1254.2L2291.9 1255.4" stroke="#bdbdbd" stroke-width="2.7"/>
<path d="M2292.1 1254.4L2291.9 1256L2291.6 1257.7L2291.4 1259.5L2291.2 1261.1L2291 1262.8L2290.8 1264.5L2290.6 1266.2L2290.4 1267.9L2290.2 1269.7L2290.1 1271.5L2289.9 1273.3L2289.7 1275.1L2289.6 1276.9L2289.5 1278.7L2289.3 1280.5L2289.2 1282.2L2289.1 1284L2288.9 1285.7L2288.8 1287.3L2288.7 1289L2288.6 1290.5L2288.5 1292L2288.4 1293.4L2288.4 1294.7L2288.3 1296L2288.2 1297.2L2288.1 1298.2L2288 1300" stroke="#bdbdbd" stroke-width="1.5"/>
<path d="M2284 940L2283.2 941.4L2282.7 942.3L2282.1 943.2L2281.5 944.2L2280.9 945.3L2280.2 946.4L2279.5 947.6L2278.7 948.8L2277.9 950.1L2277.2 951.5L2276.3 952.8L2275.5 954.2L2274.7 955.6L2273.9 957.1L2273 958.5L2272.2 960L2271.4 961.5L2270.6 962.9L2269.8 964.4L2269.1 965.7" stroke="#bdbdbd" stroke-width="5"/>
<path d="M2269.6 964.9L2269.1 965.8L2268.4 967.2L2267.7 968.6L2267 970L2266.4 971.4L2265.7 972.7L2265.1 974.1L2264.5 975.6L2263.9 977L2263.3 978.5L2262.7 979.9L2262.1 981.4L2261.5 982.9L2260.9 984.4L2260.4 985.8L2259.8 987.3L2259.2 988.8L2258.7 990.3L2258 992.2" stroke="#bdbdbd" stroke-width="4"/>
<path d="M2258.3 991.3L2257.6 993.3L2257 994.8L2256.5 996.3L2256 997.7L2255.4 999.2L2254.9 1000.6L2254.4 1002L2253.9 1003.4L2253.4 1004.8L2252.9 1006.2L2252.4 1007.5L2251.9 1008.8L2251.5 1010.1L2251 1011.4L2250.6 1012.6L2250.1 1013.9L2249.7 1015.1L2249.3 1016.4L2248.8 1017.6L2248.3 1019.3" stroke="#bdbdbd" stroke-width="3"/>
<path d="M2248.6 1018.3L2248 1020.1L2247.6 1021.3L2247.2 1022.5L2246.7 1023.8L2246.3 1025L2245.9 1026.3L2245.5 1027.6L2245.1 1028.9L2244.7 1030.2L2244.3 1031.5L2243.8 1032.9L2243.4 1034.3L2243 1035.7L2242.6 1037.2L2242.1 1038.7L2241.6 1040.4L2241.2 1042.1L2240.7 1043.8L2240.2 1045.6L2239.9 1046.8" stroke="#bdbdbd" stroke-width="2"/>
<path d="M2240.1 1045.8L2239.7 1047.4L2239.2 1049.2L2238.7 1051.1L2238.2 1052.9L2237.7 1054.8L2237.2 1056.6L2236.8 1058.4L2236.3 1060.1L2235.9 1061.9L2235.4 1063.5L2235 1065.1L2234.6 1066.6L2234.3 1068.1L2233.9 1069.4L2233.6 1070.6L2233.3 1071.7L2232.8 1073.6" stroke="#bdbdbd" stroke-width="1"/>
<path d="M2256 1000L2256.1 1001.5L2256.1 1002.3L2256.2 1003.3L2256.3 1004.4L2256.3 1005.5L2256.4 1006.7L2256.4 1007.9L2256.5 1009.2L2256.6 1010.6L2256.7 1012L2256.8 1013.4L2256.8 1014.8L2256.9 1016.3L2257 1017.7L2257.1 1019.2L2257.2 1020.6L2257.3 1022.1L2257.5 1024.3" stroke="#bdbdbd" stroke-width="3"/>
<path d="M2257.4 1023.3L2257.5 1024.9L2257.6 1026.2L2257.8 1027.5L2257.9 1028.8L2258 1030L2258.1 1031.2L2258.2 1032.3L2258.3 1033.4L2258.5 1034.5L2258.6 1035.5L2258.7 1036.6L2258.8 1037.6L2258.9 1038.6L2259 1039.7L2259.1 1040.7L2259.2 1041.7L2259.4 1042.7L2259.5 1043.7L2259.7 1044.7L2259.8 1045.8L2260.1 1047.4" stroke="#bdbdbd" stroke-width="2.3"/>
<path d="M2259.9 1046.4L2260.2 1047.9L2260.4 1049L2260.6 1050.1L2260.8 1051.2L2261.1 1052.4L2261.4 1053.5L2261.7 1054.8L2262 1056L2262.4 1057.3L2262.8 1058.7L2263.2 1060.2L2263.7 1061.7L2264.2 1063.3L2264.7 1064.9L2265.3 1066.6L2265.9 1068.2L2266.4 1069.8" stroke="#bdbdbd" stroke-width="1.7"/>
<path d="M2266.1 1068.9L2266.4 1069.9L2267 1071.6L2267.6 1073.3L2268.2 1075L2268.9 1076.7L2269.4 1078.3L2270 1079.9L2270.6 1081.5L2271.1 1082.9L2271.7 1084.3L2272.1 1085.7L2272.6 1086.9L2273 1088.1L2273.4 1089.1L2274 1090.8" stroke="#bdbdbd" stroke-width="1"/>
<path d="M2329 870L2329.8 871.5L2330.3 872.4L2330.8 873.4L2331.4 874.5L2332 875.6L2332.7 876.8L2333.4 878.1L2334.1 879.4L2334.9 880.8L2335.6 882.2L2336.4 883.7L2337.2 885.1L2338 886.6L2338.8 888.2L2339.9 890.1" stroke="#bdbdbd" stroke-width="5"/>
<path d="M2339.4 889.2L2340.5 891.2L2341.3 892.8L2342.1 894.3L2342.9 895.8L2343.7 897.3L2344.5 898.8L2345.3 900.2L2346 901.6L2346.7 903L2347.5 904.4L2348.2 905.8L2349 907.2L2350.2 909.3" stroke="#bdbdbd" stroke-width="4"/>
<path d="M2349.7 908.4L2350.6 910L2351.4 911.4L2352.2 912.9L2353 914.3L2353.8 915.8L2354.6 917.2L2355.4 918.7L2356.2 920.1L2357 921.6L2357.7 923L2358.5 924.5L2359.2 925.9L2359.9 927.4L2360.5 928.6" stroke="#bdbdbd" stroke-width="3"/>
<path d="M2360 927.7L2360.6 928.8L2361.2 930.3L2361.8 931.7L2362.4 933.1L2363 934.6L2363.5 936L2364 937.5L2364.4 939L2364.9 940.5L2365.3 942.1L2365.7 943.7L2366.1 945.3L2366.4 947L2366.9 949.4" stroke="#bdbdbd" stroke-width="2"/>
<path d="M2366.7 948.4L2367 950.3L2367.3 951.9L2367.6 953.5L2367.8 955.1L2368.1 956.7L2368.3 958.3L2368.5 959.8L2368.7 961.2L2368.9 962.6L2369.1 963.9L2369.3 965.1L2369.4 966.3L2369.6 967.4L2369.7 968.4L2370 970" stroke="#bdbdbd" stroke-width="1"/>
<path d="M2236 870L2235.8 871.1L2235.7 872.4L2235.5 873.8L2235.2 875.3L2235 877.1L2234.7 878.9L2234.5 880.8L2234.2 882.9L2233.9 885L2233.6 887.2L2233.3 889.4L2232.9 891.7L2232.6 894L2232.3 896.3L2231.8 899.4" stroke="#bdbdbd" stroke-width="3"/>
<path d="M2232 898.4L2231.6 901L2231.3 903.4L2230.9 905.6L2230.6 907.9L2230.2 910.1L2229.9 912.2L2229.6 914.2L2229.3 916.2L2229 918L2228.7 919.8L2228.4 921.6L2228.1 923.4L2227.8 925.2L2227.3 927.8" stroke="#bdbdbd" stroke-width="2"/>
<path d="M2227.5 926.8L2227.1 928.9L2226.7 930.7L2226.4 932.5L2226.1 934.3L2225.7 936.1L2225.4 937.8L2225.1 939.5L2224.7 941.2L2224.4 942.8L2224.1 944.3L2223.8 945.8L2223.5 947.2L2223.3 948.6L2223 949.9L2222.8 951.1L2222.5 952.2L2222.3 953.2L2222 955" stroke="#bdbdbd" stroke-width="1"/>
<path d="M2180 870L2179.3 870.7L2178.8 871.2L2178.4 871.7L2177.9 872.2L2177.3 872.8L2176.7 873.4L2176.1 874.1L2175.5 874.7L2174.8 875.4L2174.1 876.2L2173.4 876.9L2172.7 877.6L2172 878.3L2171.3 879.1L2170.6 879.8L2169.8 880.5L2169.1 881.2L2168.4 881.9L2167.7 882.6L2167 883.3L2166.3 883.9L2165.4 884.6" stroke="#bdbdbd" stroke-width="2"/>
<path d="M2166.2 884L2165 885L2164.4 885.5L2163.7 886L2163 886.6L2162.3 887.1L2161.6 887.6L2160.9 888.1L2160.2 888.6L2159.4 889.1L2158.7 889.6L2158 890L2157.3 890.5L2156.6 890.9L2155.9 891.4L2155.2 891.8L2154.5 892.2L2153.9 892.6L2153.3 893L2152.7 893.3L2152.1 893.7L2151.6 894L2151.2 894.3L2150 895" stroke="#bdbdbd" stroke-width="1"/>
<path d="M2308.4 1028.9L2309.7 1029.3L2310.5 1029.6L2311.4 1029.8L2312.3 1030.1L2313.4 1030.4L2314.4 1030.7L2315.6 1031L2316.7 1031.3L2317.9 1031.7L2319.2 1032.1L2320.5 1032.5L2321.8 1032.9L2323.1 1033.3L2324.4 1033.8L2325.8 1034.2L2327.1 1034.7L2328.5 1035.3L2330.6 1036.2" stroke="#bdbdbd" stroke-width="6"/>
<path d="M2329.7 1035.8L2331.1 1036.4L2332.4 1037L2333.6 1037.6L2334.8 1038.3L2336 1039L2337.2 1039.7L2338.3 1040.5L2339.5 1041.3L2340.7 1042.2L2341.9 1043L2343 1043.9L2344.2 1044.9L2345.4 1045.8L2346.6 1046.8L2347.8 1047.8L2349 1048.9" stroke="#bdbdbd" stroke-width="5"/>
<path d="M2348.3 1048.2L2350.2 1049.9L2351.4 1051L2352.5 1052L2353.7 1053.1L2354.9 1054.2L2356 1055.3L2357.1 1056.4L2358.2 1057.5L2359.3 1058.6L2360.4 1059.7L2361.5 1060.8L2362.5 1061.9L2363.5 1063L2365 1064.6" stroke="#bdbdbd" stroke-width="4"/>
<path d="M2364.3 1063.9L2365.5 1065.2L2366.4 1066.3L2367.4 1067.4L2368.3 1068.5L2369.3 1069.6L2370.2 1070.7L2371.1 1071.9L2372 1073L2372.9 1074.2L2373.7 1075.3L2374.6 1076.5L2375.5 1077.6L2376.3 1078.8L2377.1 1080L2377.9 1081.2L2378.7 1082.3" stroke="#bdbdbd" stroke-width="3"/>
<path d="M2378.2 1081.5L2378.7 1082.4L2379.5 1083.5L2380.3 1084.7L2381.1 1085.9L2381.8 1087.2L2382.5 1088.4L2383.3 1089.6L2384 1090.8L2384.7 1092.1L2385.4 1093.4L2386.1 1094.7L2386.8 1096.1L2387.5 1097.6L2388.2 1099L2388.9 1100.5L2389.6 1101.9" stroke="#bdbdbd" stroke-width="2"/>
<path d="M2389.2 1101L2389.6 1102L2390.3 1103.5L2390.9 1105L2391.6 1106.5L2392.2 1108L2392.8 1109.4L2393.4 1110.9L2393.9 1112.2L2394.5 1113.6L2395 1114.9L2395.5 1116.1L2395.9 1117.2L2396.4 1118.3L2396.8 1119.3L2397.2 1120.2L2397.8 1121.7" stroke="#bdbdbd" stroke-width="1"/>
<path d="M2368 1068L2369.1 1068.5L2369.7 1068.8L2370.4 1069.1L2371.2 1069.4L2372 1069.8L2372.9 1070.2L2373.9 1070.6L2374.8 1071L2375.8 1071.5L2376.8 1071.9L2377.9 1072.4L2378.9 1072.8L2380 1073.3L2381.1 1073.8L2382.5 1074.5" stroke="#bdbdbd" stroke-width="2.5"/>
<path d="M2381.6 1074.1L2383.2 1074.8L2384.3 1075.3L2385.3 1075.7L2386.3 1076.2L2387.3 1076.7L2388.2 1077.1L2389.1 1077.6L2390 1078L2390.8 1078.4L2391.7 1078.9L2392.6 1079.3L2393.4 1079.8L2394.3 1080.3L2395.9 1081.1" stroke="#bdbdbd" stroke-width="1.8"/>
<path d="M2395 1080.6L2396.1 1081.2L2397 1081.7L2397.8 1082.2L2398.7 1082.7L2399.5 1083.2L2400.4 1083.6L2401.2 1084.1L2402 1084.5L2402.7 1085L2403.5 1085.4L2404.2 1085.8L2404.9 1086.2L2405.5 1086.6L2406.1 1086.9L2406.6 1087.2L2408 1088" stroke="#bdbdbd" stroke-width="1"/>
<path d="M2339.4 1104.5L2340.2 1105.8L2340.7 1106.5L2341.2 1107.3L2341.8 1108.1L2342.4 1109L2343.1 1110L2343.7 1111L2344.4 1112L2345.2 1113.1L2345.9 1114.3L2346.7 1115.5L2347.5 1116.7L2348.3 1117.9L2349.2 1119.2L2350 1120.5L2350.8 1121.9L2351.7 1123.3L2352.5 1124.7L2353.3 1126.1L2354.2 1127.5L2355 1129L2355.8 1130.5L2356.6 1132L2357.7 1134.2" stroke="#bdbdbd" stroke-width="6"/>
<path d="M2357.3 1133.3L2358.2 1135.1L2359 1136.7L2359.8 1138.4L2360.6 1140.1L2361.5 1141.8L2362.3 1143.6L2363.1 1145.4L2364 1147.2L2364.9 1149.1L2365.7 1151L2366.6 1152.9L2367.4 1154.8L2368.3 1156.8L2369.2 1158.7L2370.1 1160.7L2370.9 1162.7L2371.9 1165" stroke="#bdbdbd" stroke-width="5.2"/>
<path d="M2371.5 1164.1L2372.7 1166.7L2373.5 1168.7L2374.4 1170.8L2375.3 1172.8L2376.1 1174.8L2377 1176.8L2377.9 1178.8L2378.7 1180.9L2379.6 1182.9L2380.5 1185L2381.4 1187.1L2382.3 1189.2L2383.1 1191.4L2384 1193.5L2385.2 1196.3" stroke="#bdbdbd" stroke-width="4.3"/>
<path d="M2384.8 1195.3L2385.8 1197.8L2386.7 1200L2387.6 1202.2L2388.5 1204.4L2389.4 1206.6L2390.2 1208.8L2391.1 1210.9L2392 1213.1L2392.8 1215.3L2393.7 1217.5L2394.5 1219.7L2395.4 1221.9L2396.2 1224.1L2397 1226.2L2397.6 1227.8" stroke="#bdbdbd" stroke-width="3.5"/>
<path d="M2397.2 1226.9L2397.8 1228.4L2398.6 1230.6L2399.4 1232.7L2400.2 1234.9L2401 1237.1L2401.7 1239.3L2402.5 1241.5L2403.3 1243.7L2404.1 1245.9L2404.8 1248.1L2405.6 1250.2L2406.3 1252.4L2407.1 1254.6L2407.8 1256.8L2408.8 1259.9" stroke="#bdbdbd" stroke-width="2.7"/>
<path d="M2408.5 1258.9L2409.2 1261.2L2409.9 1263.3L2410.6 1265.5L2411.3 1267.6L2411.9 1269.7L2412.6 1271.8L2413.2 1273.9L2413.8 1275.9L2414.4 1278L2415 1280L2415.6 1282L2416.1 1284.1L2416.7 1286.2L2417.2 1288.4L2417.7 1290.5L2418.2 1292.5" stroke="#bdbdbd" stroke-width="1.8"/>
<path d="M2418 1291.5L2418.2 1292.7L2418.7 1294.9L2419.2 1297.1L2419.7 1299.2L2420.2 1301.4L2420.6 1303.5L2421.1 1305.6L2421.5 1307.6L2421.9 1309.6L2422.3 1311.5L2422.7 1313.4L2423 1315.1L2423.4 1316.8L2423.7 1318.4L2424 1319.9L2424.3 1321.3L2424.5 1322.6L2424.8 1323.7L2425 1324.7" stroke="#bdbdbd" stroke-width="1"/>
<path d="M2342.8 1142L2342.8 1143.2L2342.8 1144.5L2342.9 1145.9L2343 1147.5L2343 1149.1L2343.1 1151L2343.2 1152.9L2343.3 1154.9L2343.4 1157L2343.5 1159.1L2343.6 1161.4L2343.7 1163.7L2343.7 1166.1L2343.8 1168.5L2343.8 1171L2343.8 1173.5L2343.8 1176L2343.8 1177.7" stroke="#bdbdbd" stroke-width="4"/>
<path d="M2343.8 1176.7L2343.8 1178.6L2343.7 1181.2L2343.6 1183.8L2343.5 1186.3L2343.3 1188.9L2343.1 1191.5L2342.8 1194L2342.5 1196.6L2342.1 1199.2L2341.7 1201.9L2341.2 1204.7L2340.6 1207.5L2340.1 1210.4L2339.7 1212.1" stroke="#bdbdbd" stroke-width="3.2"/>
<path d="M2339.9 1211.1L2339.5 1213.4L2338.8 1216.3L2338.2 1219.3L2337.5 1222.4L2336.8 1225.4L2336.1 1228.4L2335.4 1231.5L2334.7 1234.5L2334 1237.6L2333.3 1240.5L2332.7 1243.5L2332.1 1246" stroke="#bdbdbd" stroke-width="2.5"/>
<path d="M2332.3 1245L2332 1246.4L2331.4 1249.3L2330.8 1252.2L2330.3 1254.9L2329.8 1257.6L2329.4 1260.3L2329 1262.8L2328.7 1265.3L2328.4 1267.8L2328.1 1270.4L2327.8 1272.9L2327.6 1275.5L2327.4 1278L2327.3 1280.3" stroke="#bdbdbd" stroke-width="1.8"/>
<path d="M2327.3 1279.3L2327.2 1280.6L2327.1 1283.1L2327 1285.5L2326.8 1288L2326.7 1290.4L2326.6 1292.7L2326.6 1295L2326.5 1297.2L2326.4 1299.3L2326.4 1301.4L2326.3 1303.3L2326.3 1305.2L2326.2 1307L2326.2 1308.6L2326.2 1310.2L2326.1 1311.6L2326.1 1312.9L2326 1314" stroke="#bdbdbd" stroke-width="1"/>
<path d="M2298 1221.5L2297.6 1222.6L2297.4 1223.3L2297.2 1224L2296.9 1224.8L2296.6 1225.6L2296.4 1226.5L2296 1227.4L2295.7 1228.4L2295.4 1229.4L2295 1230.4L2294.7 1231.5L2294.3 1232.6L2294 1233.7L2293.6 1234.8L2293.3 1236L2293 1237.1L2292.4 1239.2" stroke="#bdbdbd" stroke-width="3"/>
<path d="M2292.6 1238.2L2292.3 1239.4L2292 1240.6L2291.7 1241.7L2291.5 1242.8L2291.2 1243.9L2291 1245L2290.8 1246.1L2290.6 1247.3L2290.4 1248.5L2290.2 1249.7L2290.1 1251L2289.9 1252.3L2289.7 1253.7L2289.6 1255L2289.4 1256.5" stroke="#bdbdbd" stroke-width="2"/>
<path d="M2289.5 1255.5L2289.3 1257.8L2289.2 1259.1L2289.1 1260.5L2288.9 1261.8L2288.8 1263.1L2288.7 1264.4L2288.6 1265.6L2288.5 1266.7L2288.4 1267.9L2288.4 1268.9L2288.3 1269.9L2288.2 1270.8L2288.1 1271.6L2288 1273" stroke="#bdbdbd" stroke-width="1"/>
<path d="M2336 1176.8L2336.1 1178L2336.1 1179.3L2336.2 1180.9L2336.3 1182.5L2336.5 1184.3L2336.6 1186.2L2336.7 1188.2L2336.9 1190.3L2337 1192.6L2337.2 1194.9L2337.4 1197.2L2337.5 1199.6L2337.6 1202.1L2337.8 1204.7L2337.9 1207.2L2338 1209.8L2338.1 1212.4L2338.2 1215.7" stroke="#bdbdbd" stroke-width="2"/>
<path d="M2338.1 1214.7L2338.2 1217.6L2338.2 1220.1L2338.2 1222.7L2338.2 1225.2L2338.1 1227.6L2338 1230L2337.9 1232.4L2337.7 1235L2337.4 1237.6L2337.2 1240.3L2336.8 1243.1L2336.5 1245.9L2336.2 1248.8L2335.8 1251.7L2335.5 1253.5" stroke="#bdbdbd" stroke-width="1.5"/>
<path d="M2335.7 1252.5L2335.4 1254.6L2335 1257.6L2334.6 1260.5L2334.1 1263.3L2333.7 1266.1L2333.3 1268.9L2332.9 1271.6L2332.4 1274.2L2332 1276.7L2331.7 1279.1L2331.3 1281.3L2331 1283.4L2330.7 1285.3L2330.4 1287.1L2330.2 1288.6L2330 1290" stroke="#bdbdbd" stroke-width="1"/>
<path d="M2029.2 1037.5L2029.2 1037.1L2029.1 1036.6L2029 1036.1L2029 1035.6L2028.9 1034.9L2028.8 1034.3L2028.7 1033.6L2028.6 1032.8L2028.5 1032.1L2028.4 1031.3L2028.3 1030.5L2028.2 1029.6L2028.1 1028.8L2028 1027.9L2027.9 1027.1L2027.8 1026.2L2027.7 1025.4L2027.6 1024.6L2027.5 1023.7L2027.4 1022.9L2027.4 1022.1L2027.3 1021.4L2027.2 1020.7L2027.2 1020L2027.2 1019.3L2027.1 1018.7L2027.1 1018.1L2027.1 1017.5L2027.1 1016.9L2027 1016.3L2027 1015.7L2027 1015.2L2027 1014.6L2027 1014L2027 1013.5L2027 1012.9L2027 1012.4L2027 1011.8L2027 1011.3L2027.1 1010.7L2027.1 1010.1L2027.1 1009.5L2027.2 1008.9L2027.2 1008.3L2027.3 1007.7L2027.3 1007.1L2027.4 1006.5L2027.5 1005.8L2027.6 1005.1L2027.7 1004.4L2027.8 1003.8L2027.9 1003.1L2028 1002.3L2028.1 1001.6L2028.2 1000.9L2028.3 1000.2L2028.4 999.5L2028.5 998.7L2028.7 998L2028.8 997.2L2029 996.5L2029.1 995.7L2029.3 994.9L2029.5 994.1L2029.6 993.4L2029.8 992.6L2030 991.8L2030.2 991L2030.5 990.2L2030.7 989.4L2030.9 988.6L2031.2 987.8L2031.5 987L2031.7 986.1L2032 985.3L2032.3 984.4L2032.6 983.5L2033 982.7L2033.3 981.8L2033.6 980.9L2034 980L2034.3 979L2034.7 978.1L2035.1 977.2L2035.5 976.3L2035.8 975.4L2036.2 974.5L2036.6 973.6L2037 972.7L2037.5 971.9L2037.9 971L2038.3 970.2L2038.7 969.3L2039.1 968.5L2039.6 967.8L2040 967L2040.4 966.3L2040.9 965.6L2041.3 964.9L2041.7 964.2L2042.1 963.5L2042.5 962.9L2042.9 962.3L2043.4 961.7L2043.8 961.1L2044.2 960.5L2044.7 959.9L2045.1 959.3L2045.6 958.7L2046.1 958.1L2046.6 957.6L2047.1 957L2047.6 956.4L2048.2 955.8L2048.8 955.2L2049.4 954.6L2050 954L2050.6 953.3L2051.3 952.7L2052 952L2052.7 951.3L2053.5 950.6L2054.3 949.9L2055.1 949.1L2056 948.4L2056.9 947.6L2057.8 946.8L2058.7 946L2059.6 945.2L2060.6 944.4L2061.5 943.6L2062.5 942.8L2063.5 942L2064.5 941.2L2065.5 940.5L2066.5 939.7L2067.5 939L2068.6 938.3L2069.6 937.6L2070.6 936.9L2071.6 936.2L2072.6 935.6L2073.5 935L2074.5 934.5L2075.5 934L2076.4 933.5L2077.4 933L2078.4 932.5L2079.3 932.1L2080.3 931.7L2081.3 931.3L2082.3 930.9L2083.3 930.5L2084.2 930.2L2085.2 929.9L2086.2 929.5L2087.2 929.2L2088.2 928.9L2089.2 928.7L2090.2 928.4L2091.1 928.1L2092.1 927.9L2093.1 927.6L2094.1 927.4L2095.1 927.2L2096.1 926.9L2097 926.7L2098 926.5L2099 926.3L2099.9 926.1L2100.9 925.9L2101.9 925.7L2102.8 925.6L2103.8 925.4L2104.7 925.3L2105.7 925.2L2106.7 925.1L2107.6 924.9L2108.6 924.9L2109.5 924.8L2110.5 924.7L2111.4 924.6L2112.4 924.5L2113.4 924.5L2114.3 924.4L2115.3 924.4L2116.2 924.4L2117.2 924.3L2118.2 924.3L2119.1 924.3L2120.1 924.3L2121.1 924.3L2122.1 924.3L2123.1 924.3L2124.1 924.3L2125.1 924.4L2126.1 924.4L2127.1 924.4L2128.1 924.5L2129.1 924.5L2130.1 924.6L2131.1 924.7L2132.2 924.8L2133.2 924.9L2134.2 925L2135.2 925.1L2136.2 925.2L2137.2 925.3L2138.2 925.4L2139.2 925.5L2140.2 925.7L2141.2 925.8L2142.1 926L2143.1 926.2L2144.1 926.3L2145 926.5L2145.9 926.7L2146.9 926.9L2147.8 927.1L2148.7 927.3L2149.6 927.5L2150.5 927.7L2151.4 927.9L2152.3 928.1L2153.1 928.4L2154 928.6L2154.9 928.9L2155.7 929.1L2156.6 929.4L2157.5 929.7L2158.3 930L2159.2 930.3L2160 930.6L2160.9 930.9L2161.7 931.2L2162.6 931.5L2163.4 931.9L2164.3 932.3L2165.1 932.6L2166 933L2166.9 933.4L2167.7 933.8L2168.6 934.2L2169.4 934.6L2170.3 935.1L2171.2 935.5L2172 936L2172.9 936.5L2173.8 937L2174.6 937.5L2175.5 938L2176.3 938.5L2177.2 939L2178 939.5L2178.9 940L2179.7 940.6L2180.5 941.1L2181.3 941.7L2182.1 942.2L2182.9 942.8L2183.7 943.3L2184.5 943.9L2185.2 944.4L2186 945L2186.7 945.6L2187.5 946.1L2188.2 946.7L2188.9 947.3L2189.7 947.9L2190.4 948.5L2191.1 949.1L2191.8 949.7L2192.5 950.3L2193.2 950.9L2193.8 951.5L2194.5 952.1L2195.2 952.8L2195.8 953.4L2196.5 954L2197.1 954.7L2197.7 955.3L2198.3 956L2198.9 956.6L2199.5 957.3L2200.1 958L2200.7 958.6L2201.3 959.3L2201.8 960L2202.3 960.7L2202.9 961.4L2203.4 962.1L2203.9 962.8L2204.4 963.5L2204.8 964.2L2205.3 965L2205.8 965.7L2206.2 966.4L2206.6 967.2L2207.1 967.9L2207.5 968.7L2207.9 969.4L2208.3 970.2L2208.7 971L2209.1 971.7L2209.5 972.5L2209.8 973.3L2210.2 974.1L2210.6 974.8L2210.9 975.6L2211.3 976.4L2211.7 977.2L2212 978L2212.3 978.8L2212.7 979.6L2213 980.4L2213.4 981.2L2213.7 982L2214 982.9L2214.3 983.7L2214.6 984.5L2214.9 985.4L2215.2 986.2L2215.5 987.1L2215.8 987.9L2216.1 988.7L2216.3 989.6L2216.6 990.4L2216.9 991.3L2217.1 992.1L2217.3 993L2217.5 993.8L2217.8 994.7L2218 995.5L2218.2 996.3L2218.3 997.2L2218.5 998L2218.7 998.8L2218.8 999.6L2219 1000.4L2219.1 1001.1L2219.2 1001.9L2219.4 1002.6L2219.5 1003.4L2219.6 1004.1L2219.7 1004.8L2219.8 1005.6L2219.9 1006.3L2220 1007.1L2220 1007.8L2220.1 1008.6L2220.1 1009.4L2220.1 1010.2L2220.1 1011L2220.1 1011.9L2220.1 1012.7L2220.1 1013.6L2220 1014.6L2220 1015.5L2219.9 1016.6L2219.8 1017.6L2219.7 1018.7L2219.6 1019.8L2219.4 1021L2219.3 1022.2L2219.1 1023.4L2219 1024.7L2218.8 1026L2218.6 1027.3L2218.4 1028.6L2218.2 1030L2218 1031.4L2217.7 1032.7L2217.5 1034.1L2217.2 1035.5L2216.9 1036.9L2216.6 1038.4L2216.3 1039.8L2215.9 1041.2L2215.6 1042.6L2215.2 1044L2214.8 1045.3L2214.4 1046.7L2214 1048.1L2213.5 1049.4L2213 1050.7L2212.5 1052.1L2212 1053.4L2211.5 1054.8L2210.9 1056.1L2210.4 1057.5L2209.8 1058.9L2209.2 1060.3L2208.6 1061.6L2208 1063L2207.3 1064.4L2206.6 1065.8L2206 1067.1L2205.3 1068.5L2204.6 1069.8L2203.8 1071.1L2203.1 1072.4L2202.4 1073.7L2201.6 1075L2200.8 1076.3L2200 1077.5L2199.2 1078.7L2198.4 1079.9L2197.6 1081.1L2196.8 1082.2L2195.9 1083.4L2195 1084.5L2194.1 1085.6L2193.2 1086.6L2192.2 1087.7L2191.2 1088.7L2190.3 1089.7L2189.3 1090.7L2188.2 1091.7L2187.2 1092.7L2186.2 1093.7L2185.2 1094.6L2184.1 1095.6L2183.1 1096.5L2182 1097.5L2181 1098.4L2179.9 1099.4L2178.9 1100.3L2177.9 1101.2L2176.8 1102.1L2175.8 1103.1L2174.8 1104L2173.8 1104.9L2172.8 1105.8L2171.8 1106.7L2170.8 1107.6L2169.8 1108.5L2168.8 1109.4L2167.8 1110.3L2166.7 1111.2L2165.7 1112L2164.7 1112.9L2163.7 1113.8L2162.7 1114.6L2161.7 1115.5L2160.7 1116.3L2159.6 1117.2L2158.6 1118L2157.7 1118.8L2156.7 1119.7L2155.7 1120.5L2154.7 1121.4L2153.7 1122.2L2152.8 1123L2151.9 1123.9L2150.9 1124.7L2150 1125.6L2149.1 1126.5L2148.2 1127.3L2147.3 1128.1L2146.4 1129L2145.6 1129.8L2144.7 1130.6L2143.8 1131.4L2143 1132.2L2142.1 1133L2141.3 1133.8L2140.5 1134.7L2139.6 1135.5L2138.8 1136.3L2138 1137.1L2137.2 1138L2136.4 1138.8L2135.6 1139.6L2134.8 1140.5L2134 1141.4L2133.2 1142.3L2132.4 1143.2L2131.6 1144.1L2130.8 1145L2130 1146L2129.2 1147L2128.4 1148L2127.6 1149L2126.9 1150L2126.1 1151L2125.3 1152L2124.6 1153.1L2123.8 1154.1L2123.1 1155.2L2122.3 1156.3L2121.6 1157.4L2120.8 1158.5L2120.1 1159.6L2119.3 1160.7L2118.6 1161.8L2117.9 1162.9L2117.1 1164L2116.4 1165.2L2115.7 1166.3L2114.9 1167.4L2114.2 1168.6L2113.5 1169.7L2112.7 1170.9L2112 1172L2111.3 1173.1L2110.6 1174.3L2109.9 1175.4L2109.1 1176.5L2108.5 1177.5L2107.8 1178.6L2107.1 1179.7L2106.4 1180.8L2105.7 1181.9L2105 1183L2104.3 1184.1L2103.7 1185.2L2103 1186.4L2102.3 1187.5L2101.6 1188.7L2100.9 1189.9L2100.2 1191.2L2099.5 1192.4L2098.8 1193.7L2098 1195L2097.3 1196.4L2096.5 1197.8L2095.8 1199.3L2095 1200.8L2094.2 1202.4L2093.4 1203.9L2092.6 1205.6L2091.7 1207.3L2090.8 1209L2090 1210.7L2089.1 1212.5L2088.2 1214.3L2087.3 1216.1L2086.4 1218L2085.5 1219.8L2084.5 1221.7L2083.6 1223.7L2082.7 1225.6L2081.8 1227.5L2081 1229.5L2080.1 1231.5L2079.2 1233.5L2078.4 1235.5L2077.6 1237.5L2076.8 1239.5L2076 1241.5L2075.2 1243.5L2074.5 1245.5L2073.8 1247.5L2073.1 1249.5L2072.4 1251.6L2071.7 1253.7L2071 1255.8L2070.4 1257.9L2069.7 1260L2069.1 1262.1L2068.4 1264.2L2067.8 1266.4L2067.2 1268.6L2066.6 1270.7L2066 1272.9L2065.4 1275.1L2064.9 1277.3L2064.4 1279.5L2063.8 1281.7L2063.3 1283.9L2062.9 1286.1L2062.4 1288.3L2062 1290.4L2061.6 1292.6L2061.2 1294.8L2060.8 1297L2060.5 1299.2L2060.1 1301.5L2059.9 1303.9L2059.6 1306.4L2059.3 1308.9L2059.1 1311.4L2058.9 1313.9L2058.7 1316.5L2058.6 1319.1L2058.4 1321.7L2058.3 1324.2L2058.2 1326.7L2058.1 1329.2L2058 1331.6L2057.9 1333.9L2057.8 1336.2L2057.8 1338.4L2057.7 1340.4L2057.6 1342.4L2057.6 1344.2L2057.5 1345.9L2057.4 1347.4L2057.4 1348.8L2057.3 1350" stroke="#999999" stroke-width="8"/>
<path d="M2028.2 1029.9L2028.1 1028.8L2028 1027.9L2027.9 1027.1L2027.8 1026.2L2027.7 1025.4L2027.5 1024" stroke="#4d4d4d" stroke-width="8" stroke-linecap="butt"/>
<path d="M2027.1 1016.8L2027 1015.7L2027 1015.2L2027 1014.6L2027 1014L2027 1013.5L2027 1012.9L2027 1012.4L2027 1011.8L2027.1 1010.8" stroke="#4d4d4d" stroke-width="8" stroke-linecap="butt"/>
<path d="M2030.3 990.7L2030.7 989.4L2030.9 988.6L2031.2 987.8L2031.5 987L2031.7 986.1L2032.2 985" stroke="#4d4d4d" stroke-width="8" stroke-linecap="butt"/>
<path d="M2034.4 979L2035.1 977.2L2035.5 976.3L2035.8 975.4L2036.2 974.5L2036.7 973.5" stroke="#4d4d4d" stroke-width="8" stroke-linecap="butt"/>
<path d="M2047.5 956.5L2048.2 955.8L2048.8 955.2L2049.4 954.6L2050 954L2050.6 953.3L2051.7 952.3" stroke="#4d4d4d" stroke-width="8" stroke-linecap="butt"/>
<path d="M2057 947.5L2057.8 946.8L2058.7 946L2059.6 945.2L2060.6 944.4L2061.5 943.6" stroke="#4d4d4d" stroke-width="8" stroke-linecap="butt"/>
<path d="M2078.2 932.6L2079.3 932.1L2080.3 931.7L2081.3 931.3L2082.3 930.9L2083.8 930.4" stroke="#4d4d4d" stroke-width="8" stroke-linecap="butt"/>
<path d="M2090.2 928.4L2092.1 927.9L2093.1 927.6L2094.1 927.4L2096 926.9" stroke="#4d4d4d" stroke-width="8" stroke-linecap="butt"/>
<path d="M2115.5 924.4L2117.2 924.3L2118.2 924.3L2119.1 924.3L2120.1 924.3L2121.5 924.3" stroke="#4d4d4d" stroke-width="8" stroke-linecap="butt"/>
<path d="M2128 924.5L2129.1 924.5L2130.1 924.6L2131.2 924.7" stroke="#4d4d4d" stroke-width="8" stroke-linecap="butt"/>
<path d="M2343.7 992.2L2342.9 992.7L2342 993.3L2341 993.9L2339.9 994.6L2338.6 995.3L2337.3 996.1L2336 997L2334.5 997.8L2333 998.8L2331.4 999.7L2329.8 1000.7L2328.2 1001.7L2326.5 1002.7L2324.8 1003.8L2323.1 1004.9L2321.4 1005.9L2319.7 1007L2318 1008.1L2316.4 1009.2L2314.7 1010.3L2313.2 1011.3L2311.6 1012.4L2310.1 1013.4L2308.7 1014.4L2307.3 1015.4L2305.9 1016.4L2304.5 1017.4L2303.1 1018.5L2301.7 1019.5L2300.4 1020.6L2299 1021.6L2297.6 1022.7L2296.2 1023.8L2294.9 1024.8L2293.5 1025.9L2292.1 1027L2290.8 1028.1L2289.5 1029.2L2288.2 1030.2L2286.9 1031.3L2285.6 1032.4L2284.3 1033.5L2283 1034.6L2281.8 1035.6L2280.6 1036.7L2279.4 1037.7L2278.2 1038.8L2277 1039.8L2275.9 1040.8L2274.7 1041.8L2273.6 1042.8L2272.5 1043.9L2271.5 1044.9L2270.4 1045.8L2269.4 1046.8L2268.4 1047.8L2267.4 1048.8L2266.4 1049.8L2265.4 1050.8L2264.4 1051.8L2263.5 1052.7L2262.5 1053.7L2261.6 1054.7L2260.6 1055.7L2259.7 1056.7L2258.7 1057.7L2257.8 1058.7L2256.9 1059.7L2256 1060.7L2255 1061.7L2254.1 1062.7L2253.2 1063.7L2252.3 1064.7L2251.4 1065.8L2250.5 1066.8L2249.6 1067.9L2248.7 1069L2247.8 1070L2246.9 1071.1L2246 1072.2L2245.1 1073.3L2244.3 1074.4L2243.4 1075.5L2242.6 1076.6L2241.7 1077.6L2240.8 1078.7L2240 1079.8L2239.2 1080.9L2238.3 1081.9L2237.5 1083L2236.6 1084L2235.8 1085L2235 1086L2234.2 1087L2233.3 1088L2232.5 1089L2231.7 1090L2230.9 1090.9L2230.1 1091.8L2229.3 1092.7L2228.5 1093.6L2227.7 1094.5L2227 1095.4L2226.2 1096.3L2225.5 1097.2L2224.7 1098L2224 1098.9L2223.2 1099.7L2222.4 1100.6L2221.7 1101.4L2220.9 1102.3L2220.1 1103.1L2219.3 1103.9L2218.5 1104.8L2217.7 1105.6L2216.9 1106.4L2216.1 1107.2L2215.2 1108L2214.4 1108.9L2213.5 1109.7L2212.6 1110.5L2211.7 1111.4L2210.8 1112.2L2209.8 1113L2208.9 1113.8L2207.9 1114.6L2206.9 1115.5L2205.9 1116.3L2204.9 1117.1L2203.9 1117.9L2202.9 1118.7L2201.9 1119.5L2200.9 1120.3L2199.9 1121.1L2198.8 1121.9L2197.8 1122.7L2196.8 1123.4L2195.8 1124.2L2194.7 1125L2193.7 1125.7L2192.7 1126.5L2191.7 1127.2L2190.7 1128L2189.7 1128.7L2188.7 1129.4L2187.7 1130.2L2186.7 1130.9L2185.6 1131.6L2184.6 1132.3L2183.6 1133L2182.5 1133.8L2181.5 1134.5L2180.4 1135.2L2179.4 1135.9L2178.3 1136.6L2177.3 1137.2L2176.3 1137.9L2175.3 1138.6L2174.2 1139.2L2173.2 1139.9L2172.3 1140.5L2171.3 1141.1L2170.3 1141.8L2169.4 1142.4L2168.5 1142.9L2167.6 1143.5L2166.7 1144.1L2165.9 1144.6L2165.1 1145.1L2164.3 1145.6L2163.6 1146L2163 1146.5L2162.3 1146.9L2161.7 1147.3L2161.1 1147.6L2160.6 1148L2160 1148.3L2159.5 1148.7L2158.9 1149L2158.4 1149.3L2157.9 1149.7L2157.3 1150L2156.7 1150.3L2156.1 1150.7L2155.5 1151.1L2154.9 1151.4L2154.2 1151.8L2153.4 1152.2L2152.7 1152.7L2151.8 1153.1L2150.9 1153.6L2150 1154.1L2149 1154.6L2147.9 1155.2L2146.8 1155.7L2145.7 1156.2L2144.5 1156.7L2143.2 1157.3L2142 1157.8L2140.6 1158.4L2139.3 1158.9L2138 1159.5L2136.6 1160.1L2135.2 1160.7L2133.8 1161.3L2132.4 1162L2131 1162.7L2129.6 1163.4L2128.2 1164.1L2126.8 1164.8L2125.5 1165.6L2124.1 1166.4L2122.8 1167.3L2121.5 1168.1L2120.2 1169L2119 1170L2117.8 1171L2116.6 1172L2115.4 1173L2114.2 1174.1L2113 1175.2L2111.8 1176.3L2110.7 1177.5L2109.5 1178.6L2108.3 1179.8L2107.2 1181.1L2106.1 1182.3L2104.9 1183.6L2103.8 1184.9L2102.7 1186.2L2101.5 1187.6L2100.4 1189L2099.3 1190.4L2098.2 1191.8L2097.1 1193.2L2096 1194.7L2094.9 1196.2L2093.8 1197.7L2092.8 1199.2L2091.7 1200.8L2090.6 1202.4L2089.6 1204L2088.5 1205.7L2087.4 1207.4L2086.3 1209.1L2085.2 1210.8L2084.1 1212.6L2083.1 1214.4L2082 1216.2L2080.9 1218.1L2079.9 1220L2078.8 1221.9L2077.8 1223.8L2076.8 1225.7L2075.8 1227.6L2074.8 1229.6L2073.8 1231.5L2072.9 1233.5L2072 1235.5L2071.1 1237.5L2070.2 1239.5L2069.3 1241.5L2068.5 1243.5L2067.7 1245.5L2066.9 1247.5L2066.2 1249.5L2065.4 1251.6L2064.7 1253.7L2064 1255.8L2063.3 1257.9L2062.6 1260L2062 1262.1L2061.4 1264.2L2060.7 1266.4L2060.1 1268.6L2059.6 1270.7L2059 1272.9L2058.5 1275.1L2057.9 1277.3L2057.4 1279.5L2056.9 1281.7L2056.5 1283.9L2056 1286.1L2055.6 1288.3L2055.2 1290.4L2054.8 1292.6L2054.4 1294.8L2054 1297L2053.7 1299.2L2053.3 1301.5L2053.1 1303.9L2052.8 1306.4L2052.5 1308.9L2052.3 1311.4L2052.1 1313.9L2051.9 1316.5L2051.8 1319.1L2051.6 1321.7L2051.5 1324.2L2051.4 1326.7L2051.3 1329.2L2051.2 1331.6L2051.1 1333.9L2051 1336.2L2051 1338.4L2050.9 1340.4L2050.8 1342.4L2050.8 1344.2L2050.7 1345.9L2050.6 1347.4L2050.6 1348.8L2050.5 1350" stroke="#999999" stroke-width="8"/>
<path d="M2333.8 998.3L2331.4 999.7L2329.8 1000.7L2328.7 1001.4" stroke="#4d4d4d" stroke-width="8" stroke-linecap="butt"/>
<path d="M2322.4 1005.3L2321.4 1005.9L2319.7 1007L2317.4 1008.5" stroke="#4d4d4d" stroke-width="8" stroke-linecap="butt"/>
<path d="M2301.8 1019.5L2300.4 1020.6L2299 1021.6L2297 1023.2" stroke="#4d4d4d" stroke-width="8" stroke-linecap="butt"/>
<path d="M2292.3 1026.9L2290.8 1028.1L2289.5 1029.2L2287.7 1030.6" stroke="#4d4d4d" stroke-width="8" stroke-linecap="butt"/>
<path d="M2273.1 1043.3L2271.5 1044.9L2270.4 1045.8L2268.8 1047.4" stroke="#4d4d4d" stroke-width="8" stroke-linecap="butt"/>
<path d="M2264.4 1051.8L2263.5 1052.7L2262.5 1053.7L2261.6 1054.7L2260.2 1056.1" stroke="#4d4d4d" stroke-width="8" stroke-linecap="butt"/>
<path d="M2247.7 1070.1L2246.9 1071.1L2246 1072.2L2245.1 1073.3L2243.9 1074.8" stroke="#4d4d4d" stroke-width="8" stroke-linecap="butt"/>
<path d="M2239.5 1080.4L2238.3 1081.9L2237.5 1083L2236.6 1084L2235.8 1085.1" stroke="#4d4d4d" stroke-width="8" stroke-linecap="butt"/>
<path d="M2311.5 1181.5L2310.7 1181.6L2309.8 1181.8L2308.8 1182L2307.7 1182.2L2306.5 1182.4L2305.2 1182.6L2303.9 1182.9L2302.5 1183.1L2301 1183.4L2299.4 1183.7L2297.9 1183.9L2296.2 1184.2L2294.6 1184.5L2292.9 1184.8L2291.3 1185.1L2289.6 1185.3L2287.9 1185.6L2286.2 1185.9L2284.6 1186.1L2283 1186.4L2281.4 1186.6L2279.9 1186.8L2278.4 1186.9L2277 1187.1L2275.6 1187.2L2274.3 1187.4L2272.9 1187.5L2271.5 1187.6L2270.2 1187.7L2268.9 1187.8L2267.5 1187.9L2266.2 1188L2264.9 1188.1L2263.6 1188.1L2262.2 1188.2L2260.9 1188.2L2259.6 1188.3L2258.3 1188.3L2257 1188.4L2255.7 1188.4L2254.4 1188.4L2253.1 1188.4L2251.8 1188.4L2250.5 1188.4L2249.2 1188.4L2247.8 1188.4L2246.5 1188.4L2245.2 1188.4L2243.9 1188.4L2242.6 1188.4L2241.2 1188.3L2239.9 1188.3L2238.6 1188.2L2237.3 1188.2L2235.9 1188.2L2234.6 1188.1L2233.3 1188L2232 1188L2230.7 1187.9L2229.3 1187.8L2228 1187.7L2226.7 1187.6L2225.4 1187.5L2224.1 1187.4L2222.8 1187.3L2221.4 1187.1L2220.1 1187L2218.8 1186.9L2217.5 1186.7L2216.1 1186.6L2214.8 1186.4L2213.5 1186.2L2212.2 1186L2210.8 1185.8L2209.5 1185.6L2208.1 1185.4L2206.7 1185.1L2205.4 1184.9L2204 1184.7L2202.6 1184.4L2201.2 1184.1L2199.9 1183.9L2198.5 1183.6L2197.1 1183.3L2195.7 1183L2194.4 1182.7L2193 1182.4L2191.7 1182.1L2190.4 1181.8L2189.1 1181.5L2187.8 1181.1L2186.5 1180.8L2185.3 1180.5L2184.1 1180.2L2182.9 1179.8L2181.7 1179.5L2180.6 1179.2L2179.4 1178.8L2178.3 1178.4L2177.2 1178.1L2176.2 1177.7L2175.1 1177.3L2174.1 1176.9L2173 1176.5L2172 1176.1L2171 1175.6L2170 1175.2L2169.1 1174.8L2168.1 1174.4L2167.1 1174L2166.2 1173.6L2165.2 1173.2L2164.3 1172.8L2163.4 1172.4L2162.5 1172L2161.5 1171.6L2160.6 1171.3L2159.7 1170.9L2158.8 1170.6L2157.9 1170.3L2157 1170L2156.1 1169.7L2155.2 1169.4L2154.3 1169.1L2153.5 1168.9L2152.6 1168.6L2151.8 1168.3L2150.9 1168.1L2150.1 1167.8L2149.3 1167.6L2148.5 1167.3L2147.7 1167.1L2146.8 1166.9L2146 1166.7L2145.2 1166.4L2144.4 1166.3L2143.6 1166.1L2142.8 1165.9L2142 1165.7L2141.2 1165.5L2140.4 1165.4L2139.6 1165.3L2138.8 1165.1L2138 1165L2137.2 1164.9L2136.4 1164.8L2135.6 1164.7L2134.8 1164.6L2134.1 1164.5L2133.3 1164.4L2132.5 1164.3L2131.8 1164.2L2131 1164.1L2130.3 1164.1L2129.5 1164L2128.8 1164L2128 1164L2127.2 1164L2126.5 1164L2125.7 1164L2124.9 1164L2124.1 1164.1L2123.3 1164.1L2122.4 1164.2L2121.6 1164.3L2120.8 1164.4L2119.9 1164.5L2119 1164.7L2118.1 1164.9L2117.2 1165.1L2116.3 1165.2L2115.3 1165.4L2114.4 1165.6L2113.4 1165.9L2112.5 1166.1L2111.5 1166.4L2110.5 1166.6L2109.5 1166.9L2108.5 1167.2L2107.5 1167.5L2106.5 1167.9L2105.5 1168.2L2104.5 1168.6L2103.4 1169L2102.4 1169.4L2101.3 1169.8L2100.3 1170.3L2099.2 1170.8L2098.2 1171.3L2097.1 1171.8L2096.1 1172.4L2095 1173L2093.9 1173.6L2092.8 1174.3L2091.7 1174.9L2090.6 1175.6L2089.4 1176.3L2088.3 1177L2087.1 1177.8L2085.9 1178.6L2084.7 1179.4L2083.5 1180.2L2082.3 1181L2081.1 1181.9L2080 1182.8L2078.8 1183.7L2077.6 1184.6L2076.4 1185.5L2075.3 1186.5L2074.1 1187.5L2073 1188.5L2071.9 1189.6L2070.8 1190.6L2069.8 1191.7L2068.7 1192.9L2067.7 1194L2066.7 1195.2L2065.7 1196.4L2064.7 1197.7L2063.7 1199L2062.7 1200.3L2061.7 1201.7L2060.7 1203.1L2059.7 1204.5L2058.8 1205.9L2057.8 1207.4L2056.9 1208.9L2056 1210.4L2055.1 1211.9L2054.2 1213.4L2053.3 1214.9L2052.5 1216.4L2051.7 1218L2050.9 1219.5L2050.2 1221L2049.5 1222.5L2048.8 1224L2048.2 1225.5L2047.6 1227L2047 1228.4L2046.5 1229.8L2046 1231.1L2045.6 1232.3L2045.2 1233.5L2044.8 1234.7L2044.5 1235.8L2044.2 1236.8L2043.9 1237.9L2043.6 1239L2043.4 1240.1L2043.2 1241.2L2043 1242.3L2042.9 1243.5L2042.8 1244.7L2042.6 1246L2042.5 1247.4L2042.4 1248.9L2042.3 1250.5L2042.3 1252.2L2042.2 1254L2042.1 1256L2042 1258.1L2042 1260.4L2041.9 1262.8L2041.8 1265.5L2041.8 1268.5L2041.8 1271.8L2041.8 1275.3L2041.8 1279L2041.9 1282.9L2041.9 1287L2042 1291.2L2042.1 1295.5L2042.2 1299.8L2042.3 1304.2L2042.4 1308.5L2042.5 1312.9L2042.7 1317.2L2042.8 1321.4L2042.9 1325.4L2043 1329.4L2043.1 1333.1L2043.2 1336.6L2043.3 1339.9L2043.4 1342.9L2043.5 1345.6L2043.6 1348L2043.6 1350" stroke="#999999" stroke-width="8"/>
<path d="M2307.7 1182.2L2306.5 1182.4L2305.2 1182.6L2303.9 1182.9L2301.8 1183.2" stroke="#4d4d4d" stroke-width="8" stroke-linecap="butt"/>
<path d="M2295.4 1184.4L2292.9 1184.8L2291.3 1185.1L2289.5 1185.4" stroke="#4d4d4d" stroke-width="8" stroke-linecap="butt"/>
<path d="M2270.5 1187.7L2268.9 1187.8L2267.5 1187.9L2266.2 1188L2264.5 1188.1" stroke="#4d4d4d" stroke-width="8" stroke-linecap="butt"/>
<path d="M2257.8 1188.3L2255.7 1188.4L2254.4 1188.4L2253.1 1188.4L2251.8 1188.4" stroke="#4d4d4d" stroke-width="8" stroke-linecap="butt"/>
<path d="M2233.2 1188L2232 1188L2230.7 1187.9L2229.3 1187.8L2227.2 1187.6" stroke="#4d4d4d" stroke-width="8" stroke-linecap="butt"/>
<path d="M2220.9 1187.1L2218.8 1186.9L2217.5 1186.7L2216.1 1186.6L2214.9 1186.4" stroke="#4d4d4d" stroke-width="8" stroke-linecap="butt"/>
<path d="M2196.1 1183.1L2194.4 1182.7L2193 1182.4L2191.7 1182.1L2190.3 1181.7" stroke="#4d4d4d" stroke-width="8" stroke-linecap="butt"/>
<path d="M2183.9 1180.1L2182.9 1179.8L2181.7 1179.5L2180.6 1179.2L2179.4 1178.8L2178.1 1178.4" stroke="#4d4d4d" stroke-width="8" stroke-linecap="butt"/>
</g>
</g>
<g id="labels">
<text x="454.3" y="456.3" font-size="13.1" text-anchor="start" textLength="71.5" lengthAdjust="spacingAndGlyphs" stroke="#333333" stroke-width="0.65" stroke-linejoin="miter">CATHETER</text>
<text x="454.7" y="473.9" font-size="13.1" text-anchor="start" textLength="71.9" lengthAdjust="spacingAndGlyphs" stroke="#333333" stroke-width="0.65" stroke-linejoin="miter">ABLATION</text>
<text x="115.7" y="698.6" font-size="13.1" text-anchor="start" textLength="46.7" lengthAdjust="spacingAndGlyphs" stroke="#333333" stroke-width="0.65" stroke-linejoin="miter">HEART</text>
<text x="115.7" y="716.6" font-size="13.1" text-anchor="start" textLength="57.4" lengthAdjust="spacingAndGlyphs" stroke="#333333" stroke-width="0.65" stroke-linejoin="miter">MUSCLE</text>
<text x="916.2" y="458.4" font-size="14.1" text-anchor="start" textLength="33.2" lengthAdjust="spacingAndGlyphs" stroke="#333333" stroke-width="0.7020000000000001" stroke-linejoin="miter">LEFT</text>
<text x="916.1" y="477.3" font-size="14.1" text-anchor="start" textLength="60.8" lengthAdjust="spacingAndGlyphs" stroke="#333333" stroke-width="0.7020000000000001" stroke-linejoin="miter">ATRIUM</text>
<text x="1102.6" y="458.4" font-size="14.1" text-anchor="start" textLength="74.2" lengthAdjust="spacingAndGlyphs" stroke="#333333" stroke-width="0.7020000000000001" stroke-linejoin="miter">MAPPING</text>
<text x="1103.1" y="477.3" font-size="14.1" text-anchor="start" textLength="76.4" lengthAdjust="spacingAndGlyphs" stroke="#333333" stroke-width="0.7020000000000001" stroke-linejoin="miter">CATHETER</text>
<text x="1254.8" y="607" font-size="14.1" text-anchor="start" textLength="76.7" lengthAdjust="spacingAndGlyphs" stroke="#333333" stroke-width="0.7020000000000001" stroke-linejoin="miter">ABLATION</text>
<text x="1254.6" y="625.9" font-size="14.1" text-anchor="start" textLength="76.2" lengthAdjust="spacingAndGlyphs" stroke="#333333" stroke-width="0.7020000000000001" stroke-linejoin="miter">CATHETER</text>
<text x="430.7" y="796.8" font-size="14.1" text-anchor="start" textLength="46.6" lengthAdjust="spacingAndGlyphs" stroke="#333333" stroke-width="0.7020000000000001" stroke-linejoin="miter">RIGHT</text>
<text x="431" y="815.8" font-size="14.1" text-anchor="start" textLength="60.2" lengthAdjust="spacingAndGlyphs" stroke="#333333" stroke-width="0.7020000000000001" stroke-linejoin="miter">ATRIUM</text>
<text x="437.9" y="993.1" font-size="14.1" text-anchor="start" textLength="95" lengthAdjust="spacingAndGlyphs" stroke="#333333" stroke-width="0.7020000000000001" stroke-linejoin="miter">DIAGNOSTIC</text>
<text x="438.4" y="1012.1" font-size="14.1" text-anchor="start" textLength="76.3" lengthAdjust="spacingAndGlyphs" stroke="#333333" stroke-width="0.7020000000000001" stroke-linejoin="miter">CATHETER</text>
<text x="840.1" y="1461.3" font-size="14.1" text-anchor="start" textLength="95.4" lengthAdjust="spacingAndGlyphs" stroke="#333333" stroke-width="0.7020000000000001" stroke-linejoin="miter">DIAGNOSTIC</text>
<text x="840.6" y="1480.2" font-size="14.1" text-anchor="start" textLength="76.4" lengthAdjust="spacingAndGlyphs" stroke="#333333" stroke-width="0.7020000000000001" stroke-linejoin="miter">CATHETER</text>
<text x="1321.3" y="826.6" font-size="14.1" text-anchor="start" textLength="18.4" lengthAdjust="spacingAndGlyphs" stroke="#333333" stroke-width="0.7020000000000001" stroke-linejoin="miter">AF</text>
<text x="1345.4" y="826.6" font-size="14.1" text-anchor="start" textLength="64.1" lengthAdjust="spacingAndGlyphs" stroke="#333333" stroke-width="0.7020000000000001" stroke-linejoin="miter">TRIGGER</text>
<text x="1321.6" y="845.6" font-size="14.1" text-anchor="start" textLength="30.6" lengthAdjust="spacingAndGlyphs" stroke="#333333" stroke-width="0.7020000000000001" stroke-linejoin="miter">SITE</text>
<text x="2081.1" y="339.9" font-size="19.6" text-anchor="start" textLength="108.8" lengthAdjust="spacingAndGlyphs" stroke="#333333" stroke-width="0.9750000000000001" stroke-linejoin="miter">CATHETER</text>
<text x="2081.6" y="366.7" font-size="19.6" text-anchor="start" textLength="109.3" lengthAdjust="spacingAndGlyphs" stroke="#333333" stroke-width="0.9750000000000001" stroke-linejoin="miter">ABLATION</text>
<text x="1842.2" y="693.7" font-size="19.6" text-anchor="start" textLength="32.8" lengthAdjust="spacingAndGlyphs" stroke="#333333" stroke-width="0.9750000000000001" stroke-linejoin="miter">TIP</text>
<text x="1842.4" y="720.1" font-size="19.6" text-anchor="start" textLength="119.6" lengthAdjust="spacingAndGlyphs" stroke="#333333" stroke-width="0.9750000000000001" stroke-linejoin="miter">ELECTRODE</text>
<text x="2230" y="1303.4" font-size="16.8" text-anchor="start" textLength="137" lengthAdjust="spacingAndGlyphs" stroke="#333333" stroke-width="0.8385" stroke-linejoin="miter">FLUOROSCOPIC</text>
<text x="2373.1" y="1303.4" font-size="16.8" text-anchor="start" textLength="46.5" lengthAdjust="spacingAndGlyphs" stroke="#333333" stroke-width="0.8385" stroke-linejoin="miter">VIEW</text>
<text x="2230.2" y="1326" font-size="16.8" text-anchor="start" textLength="22.4" lengthAdjust="spacingAndGlyphs" stroke="#333333" stroke-width="0.8385" stroke-linejoin="miter">OF</text>
<text x="2259.1" y="1326" font-size="16.8" text-anchor="start" textLength="91" lengthAdjust="spacingAndGlyphs" stroke="#333333" stroke-width="0.8385" stroke-linejoin="miter">CATHETER</text>
<text x="2356.7" y="1326" font-size="16.8" text-anchor="start" textLength="92.1" lengthAdjust="spacingAndGlyphs" stroke="#333333" stroke-width="0.8385" stroke-linejoin="miter">ABLATION</text>
</g>
<line x1="336.7" y1="451.4" x2="447.4" y2="451.4" stroke="#3a3a3a" stroke-width="1.2"/>
<line x1="940.4" y1="486.8" x2="957.5" y2="675.8" stroke="#3a3a3a" stroke-width="1.3"/>
<line x1="1131" y1="486" x2="1008.8" y2="700" stroke="#3a3a3a" stroke-width="1.3"/>
<line x1="1246.4" y1="629.6" x2="1008.3" y2="778.7" stroke="#3a3a3a" stroke-width="1.3"/>
<line x1="1310.3" y1="821.7" x2="1069" y2="795" stroke="#3a3a3a" stroke-width="1.3"/>
<line x1="503.9" y1="813.1" x2="678" y2="851.9" stroke="#3a3a3a" stroke-width="1.3"/>
<line x1="533.3" y1="1005.2" x2="830.5" y2="903.3" stroke="#3a3a3a" stroke-width="1.3"/>
<line x1="908.3" y1="1438.9" x2="1075" y2="1297.5" stroke="#3a3a3a" stroke-width="1.3"/>
</svg>
</body></html>
